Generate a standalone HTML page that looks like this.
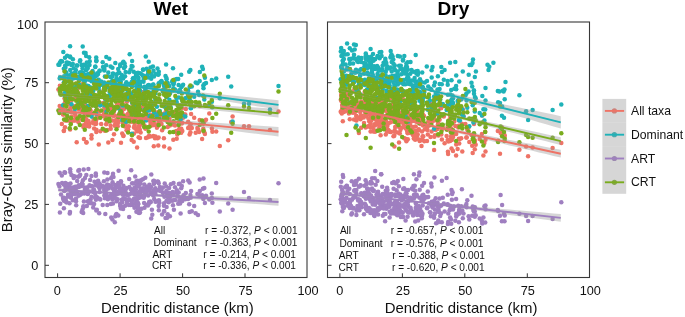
<!DOCTYPE html><html><head><meta charset="utf-8"><style>html,body{margin:0;padding:0;background:#fff;}svg{display:block;will-change:transform;}text{font-family:"Liberation Sans",sans-serif;}</style></head><body><svg width="685" height="317" viewBox="0 0 685 317"><g fill="#EE7366"><circle cx="59.7" cy="106.1" r="2.25"/><circle cx="178.7" cy="116.7" r="2.25"/><circle cx="195.7" cy="132.8" r="2.25"/><circle cx="63.9" cy="130.5" r="2.25"/><circle cx="120.4" cy="116.7" r="2.25"/><circle cx="168.7" cy="120.9" r="2.25"/><circle cx="91.2" cy="114.7" r="2.25"/><circle cx="61.0" cy="89.8" r="2.25"/><circle cx="231.2" cy="122.0" r="2.25"/><circle cx="155.3" cy="124.8" r="2.25"/><circle cx="166.1" cy="117.7" r="2.25"/><circle cx="162.1" cy="130.2" r="2.25"/><circle cx="158.1" cy="114.2" r="2.25"/><circle cx="144.5" cy="125.4" r="2.25"/><circle cx="103.0" cy="92.5" r="2.25"/><circle cx="139.6" cy="117.2" r="2.25"/><circle cx="61.8" cy="123.9" r="2.25"/><circle cx="59.4" cy="111.3" r="2.25"/><circle cx="143.1" cy="106.9" r="2.25"/><circle cx="68.1" cy="120.2" r="2.25"/><circle cx="87.7" cy="107.3" r="2.25"/><circle cx="84.2" cy="106.4" r="2.25"/><circle cx="83.7" cy="125.2" r="2.25"/><circle cx="65.4" cy="101.3" r="2.25"/><circle cx="202.9" cy="123.3" r="2.25"/><circle cx="86.0" cy="121.7" r="2.25"/><circle cx="86.0" cy="123.1" r="2.25"/><circle cx="65.7" cy="97.4" r="2.25"/><circle cx="121.0" cy="142.7" r="2.25"/><circle cx="137.1" cy="147.6" r="2.25"/><circle cx="204.3" cy="132.2" r="2.25"/><circle cx="80.5" cy="107.5" r="2.25"/><circle cx="136.5" cy="129.3" r="2.25"/><circle cx="153.3" cy="103.4" r="2.25"/><circle cx="145.3" cy="127.3" r="2.25"/><circle cx="120.2" cy="104.6" r="2.25"/><circle cx="203.5" cy="130.8" r="2.25"/><circle cx="86.1" cy="122.6" r="2.25"/><circle cx="138.4" cy="95.5" r="2.25"/><circle cx="129.2" cy="108.7" r="2.25"/><circle cx="109.6" cy="104.8" r="2.25"/><circle cx="149.1" cy="135.7" r="2.25"/><circle cx="115.1" cy="96.8" r="2.25"/><circle cx="70.2" cy="109.2" r="2.25"/><circle cx="71.4" cy="106.6" r="2.25"/><circle cx="94.5" cy="100.7" r="2.25"/><circle cx="148.0" cy="137.3" r="2.25"/><circle cx="123.1" cy="115.1" r="2.25"/><circle cx="150.6" cy="114.8" r="2.25"/><circle cx="89.7" cy="108.5" r="2.25"/><circle cx="112.4" cy="111.2" r="2.25"/><circle cx="154.1" cy="116.6" r="2.25"/><circle cx="118.2" cy="117.9" r="2.25"/><circle cx="209.3" cy="113.4" r="2.25"/><circle cx="116.6" cy="119.9" r="2.25"/><circle cx="194.2" cy="117.7" r="2.25"/><circle cx="97.2" cy="110.4" r="2.25"/><circle cx="190.4" cy="132.2" r="2.25"/><circle cx="134.0" cy="127.4" r="2.25"/><circle cx="75.0" cy="120.4" r="2.25"/><circle cx="131.9" cy="108.2" r="2.25"/><circle cx="107.9" cy="115.7" r="2.25"/><circle cx="125.6" cy="123.8" r="2.25"/><circle cx="67.8" cy="102.4" r="2.25"/><circle cx="137.3" cy="131.3" r="2.25"/><circle cx="88.0" cy="108.1" r="2.25"/><circle cx="71.5" cy="116.6" r="2.25"/><circle cx="135.2" cy="112.5" r="2.25"/><circle cx="144.3" cy="105.1" r="2.25"/><circle cx="144.0" cy="119.5" r="2.25"/><circle cx="124.6" cy="95.1" r="2.25"/><circle cx="95.3" cy="101.5" r="2.25"/><circle cx="176.7" cy="138.7" r="2.25"/><circle cx="124.0" cy="109.1" r="2.25"/><circle cx="70.0" cy="87.7" r="2.25"/><circle cx="181.3" cy="128.7" r="2.25"/><circle cx="93.2" cy="121.4" r="2.25"/><circle cx="108.3" cy="142.4" r="2.25"/><circle cx="166.3" cy="113.9" r="2.25"/><circle cx="118.2" cy="102.5" r="2.25"/><circle cx="106.3" cy="96.7" r="2.25"/><circle cx="163.9" cy="138.2" r="2.25"/><circle cx="206.0" cy="119.8" r="2.25"/><circle cx="82.9" cy="100.0" r="2.25"/><circle cx="65.0" cy="127.2" r="2.25"/><circle cx="136.2" cy="114.9" r="2.25"/><circle cx="70.7" cy="101.1" r="2.25"/><circle cx="113.0" cy="109.8" r="2.25"/><circle cx="148.7" cy="117.9" r="2.25"/><circle cx="117.7" cy="123.5" r="2.25"/><circle cx="87.5" cy="112.2" r="2.25"/><circle cx="83.4" cy="127.1" r="2.25"/><circle cx="169.4" cy="118.5" r="2.25"/><circle cx="87.8" cy="125.4" r="2.25"/><circle cx="148.8" cy="116.1" r="2.25"/><circle cx="154.2" cy="114.1" r="2.25"/><circle cx="138.3" cy="121.0" r="2.25"/><circle cx="166.6" cy="108.3" r="2.25"/><circle cx="99.2" cy="115.8" r="2.25"/><circle cx="120.4" cy="112.1" r="2.25"/><circle cx="181.8" cy="123.5" r="2.25"/><circle cx="146.6" cy="113.1" r="2.25"/><circle cx="138.6" cy="117.7" r="2.25"/><circle cx="110.9" cy="99.9" r="2.25"/><circle cx="84.8" cy="108.4" r="2.25"/><circle cx="122.2" cy="133.6" r="2.25"/><circle cx="89.5" cy="123.5" r="2.25"/><circle cx="96.4" cy="129.7" r="2.25"/><circle cx="82.1" cy="103.9" r="2.25"/><circle cx="175.0" cy="125.5" r="2.25"/><circle cx="165.5" cy="112.3" r="2.25"/><circle cx="129.4" cy="109.2" r="2.25"/><circle cx="100.3" cy="131.2" r="2.25"/><circle cx="114.4" cy="115.8" r="2.25"/><circle cx="79.9" cy="107.1" r="2.25"/><circle cx="164.7" cy="87.8" r="2.25"/><circle cx="116.1" cy="124.8" r="2.25"/><circle cx="173.5" cy="102.6" r="2.25"/><circle cx="131.6" cy="139.9" r="2.25"/><circle cx="107.3" cy="115.9" r="2.25"/><circle cx="89.6" cy="93.2" r="2.25"/><circle cx="153.3" cy="136.1" r="2.25"/><circle cx="150.5" cy="122.7" r="2.25"/><circle cx="76.7" cy="142.3" r="2.25"/><circle cx="81.1" cy="100.2" r="2.25"/><circle cx="145.8" cy="128.4" r="2.25"/><circle cx="82.0" cy="102.8" r="2.25"/><circle cx="101.2" cy="124.1" r="2.25"/><circle cx="118.4" cy="106.6" r="2.25"/><circle cx="185.8" cy="109.1" r="2.25"/><circle cx="156.5" cy="112.6" r="2.25"/><circle cx="143.1" cy="118.5" r="2.25"/><circle cx="137.5" cy="118.1" r="2.25"/><circle cx="73.7" cy="120.4" r="2.25"/><circle cx="167.2" cy="119.8" r="2.25"/><circle cx="126.0" cy="115.6" r="2.25"/><circle cx="94.1" cy="128.4" r="2.25"/><circle cx="76.2" cy="96.6" r="2.25"/><circle cx="180.1" cy="122.1" r="2.25"/><circle cx="119.3" cy="115.5" r="2.25"/><circle cx="232.6" cy="116.6" r="2.25"/><circle cx="86.3" cy="119.3" r="2.25"/><circle cx="93.2" cy="123.2" r="2.25"/><circle cx="138.1" cy="108.6" r="2.25"/><circle cx="118.6" cy="121.5" r="2.25"/><circle cx="181.2" cy="132.8" r="2.25"/><circle cx="102.7" cy="103.3" r="2.25"/><circle cx="86.6" cy="97.5" r="2.25"/><circle cx="121.8" cy="103.5" r="2.25"/><circle cx="135.4" cy="128.4" r="2.25"/><circle cx="156.9" cy="127.8" r="2.25"/><circle cx="71.0" cy="98.4" r="2.25"/><circle cx="145.3" cy="128.4" r="2.25"/><circle cx="112.6" cy="94.4" r="2.25"/><circle cx="83.9" cy="139.1" r="2.25"/><circle cx="90.1" cy="113.9" r="2.25"/><circle cx="112.4" cy="140.0" r="2.25"/><circle cx="106.2" cy="118.9" r="2.25"/><circle cx="142.9" cy="104.7" r="2.25"/><circle cx="88.4" cy="86.9" r="2.25"/><circle cx="99.6" cy="91.1" r="2.25"/><circle cx="70.3" cy="108.8" r="2.25"/><circle cx="158.9" cy="117.6" r="2.25"/><circle cx="129.0" cy="113.5" r="2.25"/><circle cx="158.8" cy="121.8" r="2.25"/><circle cx="96.3" cy="131.9" r="2.25"/><circle cx="169.1" cy="119.9" r="2.25"/><circle cx="151.2" cy="109.9" r="2.25"/><circle cx="92.6" cy="105.3" r="2.25"/><circle cx="157.5" cy="138.2" r="2.25"/><circle cx="123.4" cy="135.5" r="2.25"/><circle cx="180.6" cy="113.8" r="2.25"/><circle cx="134.0" cy="133.5" r="2.25"/><circle cx="151.3" cy="124.7" r="2.25"/><circle cx="159.3" cy="98.9" r="2.25"/><circle cx="164.2" cy="114.3" r="2.25"/><circle cx="183.5" cy="114.2" r="2.25"/><circle cx="95.9" cy="122.0" r="2.25"/><circle cx="78.3" cy="86.0" r="2.25"/><circle cx="99.5" cy="105.6" r="2.25"/><circle cx="126.4" cy="121.0" r="2.25"/><circle cx="179.3" cy="128.7" r="2.25"/><circle cx="149.4" cy="105.4" r="2.25"/><circle cx="189.2" cy="127.9" r="2.25"/><circle cx="66.4" cy="93.5" r="2.25"/><circle cx="63.8" cy="131.0" r="2.25"/><circle cx="169.9" cy="125.4" r="2.25"/><circle cx="140.6" cy="132.5" r="2.25"/><circle cx="133.1" cy="121.3" r="2.25"/><circle cx="151.9" cy="124.6" r="2.25"/><circle cx="110.7" cy="128.8" r="2.25"/><circle cx="175.3" cy="131.8" r="2.25"/><circle cx="134.5" cy="125.4" r="2.25"/><circle cx="119.1" cy="114.1" r="2.25"/><circle cx="75.2" cy="114.5" r="2.25"/><circle cx="160.5" cy="115.3" r="2.25"/><circle cx="152.9" cy="125.2" r="2.25"/><circle cx="176.3" cy="131.1" r="2.25"/><circle cx="137.6" cy="119.2" r="2.25"/><circle cx="77.5" cy="92.4" r="2.25"/><circle cx="117.7" cy="126.3" r="2.25"/><circle cx="151.1" cy="120.0" r="2.25"/><circle cx="115.3" cy="123.4" r="2.25"/><circle cx="173.3" cy="139.8" r="2.25"/><circle cx="105.3" cy="119.0" r="2.25"/><circle cx="72.0" cy="106.5" r="2.25"/><circle cx="139.1" cy="127.5" r="2.25"/><circle cx="60.2" cy="110.3" r="2.25"/><circle cx="167.7" cy="127.0" r="2.25"/><circle cx="90.4" cy="97.1" r="2.25"/><circle cx="106.2" cy="115.8" r="2.25"/><circle cx="114.0" cy="134.3" r="2.25"/><circle cx="64.1" cy="114.3" r="2.25"/><circle cx="118.8" cy="107.8" r="2.25"/><circle cx="190.7" cy="124.2" r="2.25"/><circle cx="197.4" cy="127.9" r="2.25"/><circle cx="73.4" cy="112.4" r="2.25"/><circle cx="158.3" cy="145.5" r="2.25"/><circle cx="167.6" cy="114.4" r="2.25"/><circle cx="140.0" cy="116.1" r="2.25"/><circle cx="120.8" cy="116.2" r="2.25"/><circle cx="127.9" cy="129.6" r="2.25"/><circle cx="63.9" cy="109.9" r="2.25"/><circle cx="122.6" cy="87.9" r="2.25"/><circle cx="75.6" cy="106.0" r="2.25"/><circle cx="86.8" cy="126.0" r="2.25"/><circle cx="158.7" cy="122.4" r="2.25"/><circle cx="73.1" cy="89.8" r="2.25"/><circle cx="114.8" cy="125.8" r="2.25"/><circle cx="170.2" cy="112.4" r="2.25"/><circle cx="185.3" cy="114.5" r="2.25"/><circle cx="135.9" cy="110.5" r="2.25"/><circle cx="83.4" cy="117.2" r="2.25"/><circle cx="143.7" cy="99.2" r="2.25"/><circle cx="113.0" cy="115.8" r="2.25"/><circle cx="84.0" cy="112.5" r="2.25"/><circle cx="114.2" cy="98.7" r="2.25"/><circle cx="86.1" cy="107.7" r="2.25"/><circle cx="105.2" cy="109.1" r="2.25"/><circle cx="67.3" cy="104.2" r="2.25"/><circle cx="59.9" cy="85.8" r="2.25"/><circle cx="168.3" cy="105.3" r="2.25"/><circle cx="202.1" cy="139.0" r="2.25"/><circle cx="132.8" cy="111.8" r="2.25"/><circle cx="138.2" cy="104.2" r="2.25"/><circle cx="118.3" cy="115.5" r="2.25"/><circle cx="130.6" cy="118.6" r="2.25"/><circle cx="134.9" cy="123.1" r="2.25"/><circle cx="104.4" cy="112.0" r="2.25"/><circle cx="167.2" cy="111.0" r="2.25"/><circle cx="122.7" cy="103.5" r="2.25"/><circle cx="125.9" cy="107.0" r="2.25"/><circle cx="198.0" cy="129.2" r="2.25"/><circle cx="125.6" cy="98.2" r="2.25"/><circle cx="132.0" cy="118.5" r="2.25"/><circle cx="103.9" cy="114.3" r="2.25"/><circle cx="137.5" cy="115.5" r="2.25"/><circle cx="158.7" cy="125.4" r="2.25"/><circle cx="138.9" cy="107.6" r="2.25"/><circle cx="139.1" cy="113.6" r="2.25"/><circle cx="140.0" cy="110.0" r="2.25"/><circle cx="68.7" cy="100.1" r="2.25"/><circle cx="96.3" cy="105.6" r="2.25"/><circle cx="92.3" cy="114.0" r="2.25"/><circle cx="110.6" cy="125.5" r="2.25"/><circle cx="136.4" cy="110.6" r="2.25"/><circle cx="75.5" cy="116.6" r="2.25"/><circle cx="78.9" cy="109.5" r="2.25"/><circle cx="81.6" cy="110.5" r="2.25"/><circle cx="62.1" cy="106.9" r="2.25"/><circle cx="95.3" cy="124.0" r="2.25"/><circle cx="104.3" cy="129.8" r="2.25"/><circle cx="134.3" cy="120.5" r="2.25"/><circle cx="111.1" cy="115.1" r="2.25"/><circle cx="99.6" cy="117.4" r="2.25"/><circle cx="95.1" cy="120.9" r="2.25"/><circle cx="189.6" cy="126.4" r="2.25"/><circle cx="91.5" cy="138.6" r="2.25"/><circle cx="65.4" cy="120.4" r="2.25"/><circle cx="150.3" cy="126.1" r="2.25"/><circle cx="139.8" cy="129.7" r="2.25"/><circle cx="72.9" cy="119.9" r="2.25"/><circle cx="172.2" cy="112.3" r="2.25"/><circle cx="77.3" cy="89.7" r="2.25"/><circle cx="131.2" cy="117.7" r="2.25"/><circle cx="98.1" cy="102.1" r="2.25"/><circle cx="159.4" cy="112.0" r="2.25"/><circle cx="69.7" cy="101.7" r="2.25"/><circle cx="125.1" cy="126.0" r="2.25"/><circle cx="146.0" cy="137.9" r="2.25"/><circle cx="58.4" cy="89.5" r="2.25"/><circle cx="169.3" cy="124.6" r="2.25"/><circle cx="79.9" cy="116.8" r="2.25"/><circle cx="104.1" cy="102.7" r="2.25"/><circle cx="199.8" cy="106.0" r="2.25"/><circle cx="191.8" cy="128.0" r="2.25"/><circle cx="178.6" cy="124.1" r="2.25"/><circle cx="143.5" cy="91.9" r="2.25"/><circle cx="65.1" cy="120.0" r="2.25"/><circle cx="96.3" cy="119.8" r="2.25"/><circle cx="199.1" cy="132.1" r="2.25"/><circle cx="173.1" cy="123.6" r="2.25"/><circle cx="107.2" cy="121.9" r="2.25"/><circle cx="68.1" cy="104.1" r="2.25"/><circle cx="134.0" cy="100.2" r="2.25"/><circle cx="138.5" cy="122.8" r="2.25"/><circle cx="219.8" cy="146.0" r="2.25"/><circle cx="170.8" cy="113.1" r="2.25"/><circle cx="95.9" cy="110.8" r="2.25"/><circle cx="63.0" cy="114.4" r="2.25"/><circle cx="189.6" cy="134.6" r="2.25"/><circle cx="72.8" cy="99.3" r="2.25"/><circle cx="139.3" cy="114.0" r="2.25"/><circle cx="130.6" cy="117.7" r="2.25"/><circle cx="69.4" cy="120.2" r="2.25"/><circle cx="131.7" cy="121.7" r="2.25"/><circle cx="138.0" cy="128.7" r="2.25"/><circle cx="178.8" cy="112.9" r="2.25"/><circle cx="123.4" cy="136.1" r="2.25"/><circle cx="116.9" cy="104.9" r="2.25"/><circle cx="159.8" cy="121.7" r="2.25"/><circle cx="122.8" cy="123.3" r="2.25"/><circle cx="107.5" cy="110.8" r="2.25"/><circle cx="140.0" cy="137.9" r="2.25"/><circle cx="106.5" cy="107.4" r="2.25"/><circle cx="144.1" cy="101.8" r="2.25"/><circle cx="153.5" cy="104.8" r="2.25"/><circle cx="155.0" cy="137.3" r="2.25"/><circle cx="95.8" cy="112.0" r="2.25"/><circle cx="93.6" cy="118.7" r="2.25"/><circle cx="120.8" cy="115.0" r="2.25"/><circle cx="150.4" cy="136.6" r="2.25"/><circle cx="65.6" cy="93.5" r="2.25"/><circle cx="65.7" cy="99.5" r="2.25"/><circle cx="78.3" cy="107.3" r="2.25"/><circle cx="90.6" cy="110.4" r="2.25"/><circle cx="135.2" cy="108.0" r="2.25"/><circle cx="204.9" cy="133.9" r="2.25"/><circle cx="146.6" cy="119.5" r="2.25"/><circle cx="93.4" cy="101.1" r="2.25"/><circle cx="141.0" cy="97.1" r="2.25"/><circle cx="178.2" cy="130.8" r="2.25"/><circle cx="71.5" cy="93.5" r="2.25"/><circle cx="64.5" cy="103.4" r="2.25"/><circle cx="113.5" cy="113.1" r="2.25"/><circle cx="85.6" cy="98.3" r="2.25"/><circle cx="181.9" cy="108.3" r="2.25"/><circle cx="116.5" cy="119.9" r="2.25"/><circle cx="138.3" cy="121.2" r="2.25"/><circle cx="79.5" cy="118.5" r="2.25"/><circle cx="69.3" cy="118.9" r="2.25"/><circle cx="127.8" cy="113.9" r="2.25"/><circle cx="203.3" cy="128.8" r="2.25"/><circle cx="82.5" cy="119.8" r="2.25"/><circle cx="182.3" cy="131.1" r="2.25"/><circle cx="112.4" cy="120.5" r="2.25"/><circle cx="81.6" cy="100.6" r="2.25"/><circle cx="111.3" cy="109.0" r="2.25"/><circle cx="138.9" cy="110.4" r="2.25"/><circle cx="136.4" cy="118.7" r="2.25"/><circle cx="115.3" cy="108.8" r="2.25"/><circle cx="89.5" cy="111.7" r="2.25"/><circle cx="104.9" cy="130.8" r="2.25"/><circle cx="109.3" cy="107.3" r="2.25"/><circle cx="154.0" cy="123.6" r="2.25"/><circle cx="129.2" cy="110.2" r="2.25"/><circle cx="98.7" cy="117.0" r="2.25"/><circle cx="122.6" cy="95.9" r="2.25"/><circle cx="82.7" cy="83.9" r="2.25"/><circle cx="140.2" cy="108.7" r="2.25"/><circle cx="128.8" cy="126.3" r="2.25"/><circle cx="70.9" cy="111.9" r="2.25"/><circle cx="166.4" cy="96.6" r="2.25"/><circle cx="66.6" cy="118.2" r="2.25"/><circle cx="70.5" cy="119.5" r="2.25"/><circle cx="99.6" cy="111.6" r="2.25"/><circle cx="183.1" cy="117.8" r="2.25"/><circle cx="162.9" cy="113.9" r="2.25"/><circle cx="83.5" cy="112.6" r="2.25"/><circle cx="76.0" cy="83.7" r="2.25"/><circle cx="137.4" cy="119.8" r="2.25"/><circle cx="138.4" cy="126.6" r="2.25"/><circle cx="83.2" cy="106.4" r="2.25"/><circle cx="95.3" cy="119.5" r="2.25"/><circle cx="148.1" cy="119.9" r="2.25"/><circle cx="122.1" cy="112.6" r="2.25"/><circle cx="211.8" cy="107.1" r="2.25"/><circle cx="85.0" cy="117.1" r="2.25"/><circle cx="96.8" cy="117.8" r="2.25"/><circle cx="114.3" cy="107.4" r="2.25"/><circle cx="172.5" cy="124.6" r="2.25"/><circle cx="70.1" cy="129.6" r="2.25"/><circle cx="128.1" cy="129.4" r="2.25"/><circle cx="64.0" cy="82.3" r="2.25"/><circle cx="153.8" cy="146.2" r="2.25"/><circle cx="85.6" cy="115.0" r="2.25"/><circle cx="173.9" cy="123.0" r="2.25"/><circle cx="164.0" cy="106.3" r="2.25"/><circle cx="112.3" cy="113.8" r="2.25"/><circle cx="188.2" cy="121.8" r="2.25"/><circle cx="158.6" cy="137.4" r="2.25"/><circle cx="138.6" cy="137.2" r="2.25"/><circle cx="102.7" cy="116.0" r="2.25"/><circle cx="152.3" cy="108.9" r="2.25"/><circle cx="176.9" cy="110.9" r="2.25"/><circle cx="78.5" cy="122.2" r="2.25"/><circle cx="76.0" cy="106.2" r="2.25"/><circle cx="125.0" cy="126.4" r="2.25"/><circle cx="78.8" cy="97.8" r="2.25"/><circle cx="173.0" cy="112.0" r="2.25"/><circle cx="147.9" cy="105.7" r="2.25"/><circle cx="211.9" cy="128.4" r="2.25"/><circle cx="228.2" cy="140.3" r="2.25"/><circle cx="98.8" cy="144.4" r="2.25"/><circle cx="147.8" cy="116.7" r="2.25"/><circle cx="164.1" cy="146.6" r="2.25"/><circle cx="96.2" cy="123.7" r="2.25"/><circle cx="135.1" cy="117.0" r="2.25"/><circle cx="155.4" cy="124.8" r="2.25"/><circle cx="129.7" cy="112.3" r="2.25"/><circle cx="115.5" cy="120.6" r="2.25"/><circle cx="133.7" cy="141.8" r="2.25"/><circle cx="143.8" cy="106.2" r="2.25"/><circle cx="161.5" cy="124.1" r="2.25"/><circle cx="155.5" cy="136.4" r="2.25"/><circle cx="188.1" cy="127.9" r="2.25"/><circle cx="181.9" cy="122.5" r="2.25"/><circle cx="164.4" cy="117.6" r="2.25"/><circle cx="77.2" cy="117.6" r="2.25"/><circle cx="146.6" cy="118.4" r="2.25"/><circle cx="199.7" cy="120.0" r="2.25"/><circle cx="132.1" cy="108.6" r="2.25"/><circle cx="132.5" cy="104.0" r="2.25"/><circle cx="166.4" cy="116.0" r="2.25"/><circle cx="153.2" cy="115.9" r="2.25"/><circle cx="91.5" cy="135.3" r="2.25"/><circle cx="109.7" cy="98.3" r="2.25"/><circle cx="212.4" cy="131.7" r="2.25"/><circle cx="107.4" cy="130.0" r="2.25"/><circle cx="88.5" cy="121.0" r="2.25"/><circle cx="89.2" cy="126.6" r="2.25"/><circle cx="126.6" cy="130.3" r="2.25"/><circle cx="69.5" cy="110.4" r="2.25"/><circle cx="111.4" cy="105.9" r="2.25"/><circle cx="79.2" cy="99.3" r="2.25"/><circle cx="169.5" cy="148.6" r="2.25"/><circle cx="173.4" cy="113.0" r="2.25"/><circle cx="145.6" cy="116.9" r="2.25"/><circle cx="140.5" cy="124.8" r="2.25"/><circle cx="64.5" cy="98.5" r="2.25"/><circle cx="71.0" cy="122.7" r="2.25"/><circle cx="104.3" cy="107.6" r="2.25"/><circle cx="136.6" cy="109.1" r="2.25"/><circle cx="155.0" cy="138.2" r="2.25"/><circle cx="94.1" cy="102.1" r="2.25"/><circle cx="111.2" cy="114.5" r="2.25"/><circle cx="177.3" cy="134.4" r="2.25"/><circle cx="170.2" cy="104.8" r="2.25"/><circle cx="86.5" cy="142.5" r="2.25"/><circle cx="67.1" cy="120.5" r="2.25"/><circle cx="75.9" cy="97.1" r="2.25"/><circle cx="216.2" cy="131.6" r="2.25"/><circle cx="66.6" cy="110.5" r="2.25"/><circle cx="63.3" cy="114.2" r="2.25"/><circle cx="179.7" cy="113.2" r="2.25"/><circle cx="120.2" cy="109.1" r="2.25"/><circle cx="85.5" cy="105.5" r="2.25"/><circle cx="120.9" cy="114.5" r="2.25"/><circle cx="80.2" cy="117.2" r="2.25"/><circle cx="106.1" cy="124.2" r="2.25"/><circle cx="141.5" cy="121.5" r="2.25"/><circle cx="137.2" cy="120.6" r="2.25"/><circle cx="191.1" cy="113.9" r="2.25"/><circle cx="114.0" cy="110.5" r="2.25"/><circle cx="163.0" cy="119.0" r="2.25"/><circle cx="86.4" cy="142.2" r="2.25"/><circle cx="74.4" cy="112.1" r="2.25"/><circle cx="204.3" cy="121.8" r="2.25"/><circle cx="126.9" cy="101.8" r="2.25"/><circle cx="120.5" cy="91.8" r="2.25"/><circle cx="244.0" cy="126.3" r="2.25"/><circle cx="249.0" cy="126.3" r="2.25"/><circle cx="270.0" cy="130.0" r="2.25"/><circle cx="278.5" cy="111.6" r="2.25"/></g><g fill="#1FB2B8"><circle cx="59.7" cy="78.5" r="2.25"/><circle cx="178.7" cy="91.9" r="2.25"/><circle cx="195.7" cy="82.5" r="2.25"/><circle cx="63.9" cy="82.4" r="2.25"/><circle cx="120.4" cy="84.4" r="2.25"/><circle cx="168.7" cy="114.7" r="2.25"/><circle cx="91.2" cy="76.1" r="2.25"/><circle cx="61.0" cy="61.0" r="2.25"/><circle cx="231.2" cy="86.6" r="2.25"/><circle cx="155.3" cy="99.9" r="2.25"/><circle cx="166.1" cy="64.5" r="2.25"/><circle cx="162.1" cy="82.6" r="2.25"/><circle cx="158.1" cy="74.7" r="2.25"/><circle cx="144.5" cy="109.7" r="2.25"/><circle cx="103.0" cy="67.0" r="2.25"/><circle cx="139.6" cy="86.8" r="2.25"/><circle cx="61.8" cy="87.7" r="2.25"/><circle cx="59.4" cy="64.7" r="2.25"/><circle cx="143.1" cy="69.8" r="2.25"/><circle cx="68.1" cy="75.6" r="2.25"/><circle cx="87.7" cy="90.1" r="2.25"/><circle cx="84.2" cy="78.0" r="2.25"/><circle cx="83.7" cy="95.2" r="2.25"/><circle cx="65.4" cy="67.8" r="2.25"/><circle cx="202.9" cy="69.1" r="2.25"/><circle cx="86.0" cy="70.3" r="2.25"/><circle cx="86.0" cy="74.7" r="2.25"/><circle cx="65.7" cy="82.3" r="2.25"/><circle cx="121.0" cy="94.0" r="2.25"/><circle cx="137.1" cy="90.8" r="2.25"/><circle cx="204.3" cy="99.6" r="2.25"/><circle cx="80.5" cy="75.2" r="2.25"/><circle cx="136.5" cy="89.2" r="2.25"/><circle cx="153.3" cy="84.5" r="2.25"/><circle cx="145.3" cy="87.3" r="2.25"/><circle cx="120.2" cy="65.9" r="2.25"/><circle cx="203.5" cy="88.3" r="2.25"/><circle cx="86.1" cy="66.0" r="2.25"/><circle cx="138.4" cy="78.1" r="2.25"/><circle cx="129.2" cy="84.1" r="2.25"/><circle cx="109.6" cy="92.1" r="2.25"/><circle cx="149.1" cy="110.6" r="2.25"/><circle cx="115.1" cy="86.0" r="2.25"/><circle cx="70.2" cy="69.9" r="2.25"/><circle cx="71.4" cy="65.0" r="2.25"/><circle cx="94.5" cy="75.6" r="2.25"/><circle cx="148.0" cy="71.1" r="2.25"/><circle cx="123.1" cy="78.4" r="2.25"/><circle cx="150.6" cy="92.8" r="2.25"/><circle cx="89.7" cy="61.3" r="2.25"/><circle cx="112.4" cy="81.7" r="2.25"/><circle cx="154.1" cy="93.8" r="2.25"/><circle cx="118.2" cy="108.2" r="2.25"/><circle cx="209.3" cy="105.6" r="2.25"/><circle cx="116.6" cy="74.2" r="2.25"/><circle cx="194.2" cy="96.7" r="2.25"/><circle cx="97.2" cy="73.3" r="2.25"/><circle cx="190.4" cy="70.1" r="2.25"/><circle cx="134.0" cy="114.0" r="2.25"/><circle cx="75.0" cy="108.9" r="2.25"/><circle cx="131.9" cy="133.7" r="2.25"/><circle cx="107.9" cy="76.2" r="2.25"/><circle cx="125.6" cy="72.0" r="2.25"/><circle cx="67.8" cy="62.8" r="2.25"/><circle cx="137.3" cy="87.7" r="2.25"/><circle cx="88.0" cy="106.0" r="2.25"/><circle cx="71.5" cy="104.3" r="2.25"/><circle cx="135.2" cy="91.1" r="2.25"/><circle cx="144.3" cy="86.7" r="2.25"/><circle cx="144.0" cy="95.6" r="2.25"/><circle cx="124.6" cy="63.6" r="2.25"/><circle cx="95.3" cy="76.6" r="2.25"/><circle cx="176.7" cy="102.0" r="2.25"/><circle cx="124.0" cy="68.1" r="2.25"/><circle cx="70.0" cy="56.6" r="2.25"/><circle cx="181.3" cy="87.0" r="2.25"/><circle cx="93.2" cy="73.3" r="2.25"/><circle cx="108.3" cy="72.5" r="2.25"/><circle cx="166.3" cy="97.1" r="2.25"/><circle cx="118.2" cy="68.9" r="2.25"/><circle cx="106.3" cy="56.9" r="2.25"/><circle cx="163.9" cy="85.4" r="2.25"/><circle cx="206.0" cy="83.1" r="2.25"/><circle cx="82.9" cy="72.8" r="2.25"/><circle cx="65.0" cy="57.8" r="2.25"/><circle cx="136.2" cy="82.2" r="2.25"/><circle cx="70.7" cy="93.4" r="2.25"/><circle cx="113.0" cy="74.0" r="2.25"/><circle cx="148.7" cy="61.8" r="2.25"/><circle cx="117.7" cy="79.9" r="2.25"/><circle cx="87.5" cy="94.2" r="2.25"/><circle cx="83.4" cy="74.5" r="2.25"/><circle cx="169.4" cy="99.8" r="2.25"/><circle cx="87.8" cy="68.1" r="2.25"/><circle cx="148.8" cy="85.0" r="2.25"/><circle cx="154.2" cy="112.7" r="2.25"/><circle cx="138.3" cy="95.8" r="2.25"/><circle cx="166.6" cy="79.3" r="2.25"/><circle cx="99.2" cy="97.0" r="2.25"/><circle cx="120.4" cy="87.1" r="2.25"/><circle cx="181.8" cy="86.2" r="2.25"/><circle cx="146.6" cy="76.2" r="2.25"/><circle cx="138.6" cy="90.4" r="2.25"/><circle cx="110.9" cy="90.3" r="2.25"/><circle cx="84.8" cy="81.4" r="2.25"/><circle cx="122.2" cy="119.9" r="2.25"/><circle cx="89.5" cy="93.3" r="2.25"/><circle cx="96.4" cy="60.2" r="2.25"/><circle cx="82.1" cy="65.4" r="2.25"/><circle cx="175.0" cy="89.4" r="2.25"/><circle cx="165.5" cy="76.1" r="2.25"/><circle cx="129.4" cy="97.6" r="2.25"/><circle cx="100.3" cy="105.2" r="2.25"/><circle cx="114.4" cy="95.5" r="2.25"/><circle cx="79.9" cy="72.5" r="2.25"/><circle cx="164.7" cy="92.4" r="2.25"/><circle cx="116.1" cy="91.0" r="2.25"/><circle cx="173.5" cy="84.2" r="2.25"/><circle cx="131.6" cy="66.0" r="2.25"/><circle cx="107.3" cy="86.9" r="2.25"/><circle cx="89.6" cy="79.6" r="2.25"/><circle cx="153.3" cy="91.8" r="2.25"/><circle cx="150.5" cy="67.6" r="2.25"/><circle cx="76.7" cy="65.6" r="2.25"/><circle cx="81.1" cy="72.3" r="2.25"/><circle cx="145.8" cy="56.4" r="2.25"/><circle cx="82.0" cy="79.3" r="2.25"/><circle cx="101.2" cy="81.5" r="2.25"/><circle cx="118.4" cy="73.0" r="2.25"/><circle cx="185.8" cy="98.0" r="2.25"/><circle cx="156.5" cy="116.4" r="2.25"/><circle cx="143.1" cy="69.6" r="2.25"/><circle cx="137.5" cy="96.8" r="2.25"/><circle cx="73.7" cy="68.3" r="2.25"/><circle cx="167.2" cy="112.8" r="2.25"/><circle cx="126.0" cy="121.8" r="2.25"/><circle cx="94.1" cy="101.9" r="2.25"/><circle cx="76.2" cy="86.1" r="2.25"/><circle cx="180.1" cy="90.5" r="2.25"/><circle cx="119.3" cy="72.5" r="2.25"/><circle cx="232.6" cy="121.5" r="2.25"/><circle cx="86.3" cy="78.3" r="2.25"/><circle cx="93.2" cy="91.0" r="2.25"/><circle cx="138.1" cy="87.2" r="2.25"/><circle cx="118.6" cy="89.3" r="2.25"/><circle cx="181.2" cy="74.8" r="2.25"/><circle cx="102.7" cy="62.2" r="2.25"/><circle cx="86.6" cy="93.8" r="2.25"/><circle cx="121.8" cy="75.0" r="2.25"/><circle cx="135.4" cy="95.3" r="2.25"/><circle cx="156.9" cy="106.7" r="2.25"/><circle cx="71.0" cy="75.1" r="2.25"/><circle cx="145.3" cy="89.8" r="2.25"/><circle cx="112.6" cy="86.4" r="2.25"/><circle cx="83.9" cy="89.0" r="2.25"/><circle cx="90.1" cy="76.3" r="2.25"/><circle cx="112.4" cy="67.8" r="2.25"/><circle cx="106.2" cy="65.2" r="2.25"/><circle cx="142.9" cy="75.7" r="2.25"/><circle cx="88.4" cy="86.0" r="2.25"/><circle cx="99.6" cy="70.8" r="2.25"/><circle cx="70.3" cy="57.2" r="2.25"/><circle cx="158.9" cy="84.7" r="2.25"/><circle cx="129.0" cy="90.3" r="2.25"/><circle cx="158.8" cy="71.7" r="2.25"/><circle cx="96.3" cy="84.7" r="2.25"/><circle cx="169.1" cy="94.6" r="2.25"/><circle cx="151.2" cy="78.8" r="2.25"/><circle cx="92.6" cy="71.1" r="2.25"/><circle cx="157.5" cy="68.6" r="2.25"/><circle cx="123.4" cy="77.2" r="2.25"/><circle cx="180.6" cy="119.3" r="2.25"/><circle cx="134.0" cy="80.8" r="2.25"/><circle cx="151.3" cy="73.9" r="2.25"/><circle cx="159.3" cy="118.8" r="2.25"/><circle cx="164.2" cy="106.4" r="2.25"/><circle cx="183.5" cy="100.1" r="2.25"/><circle cx="95.9" cy="84.7" r="2.25"/><circle cx="78.3" cy="83.8" r="2.25"/><circle cx="99.5" cy="91.6" r="2.25"/><circle cx="126.4" cy="82.2" r="2.25"/><circle cx="179.3" cy="90.3" r="2.25"/><circle cx="149.4" cy="116.0" r="2.25"/><circle cx="189.2" cy="71.8" r="2.25"/><circle cx="66.4" cy="73.0" r="2.25"/><circle cx="63.8" cy="68.7" r="2.25"/><circle cx="169.9" cy="107.3" r="2.25"/><circle cx="140.6" cy="121.3" r="2.25"/><circle cx="133.1" cy="78.3" r="2.25"/><circle cx="151.9" cy="103.7" r="2.25"/><circle cx="110.7" cy="77.1" r="2.25"/><circle cx="175.3" cy="79.6" r="2.25"/><circle cx="134.5" cy="109.5" r="2.25"/><circle cx="119.1" cy="98.7" r="2.25"/><circle cx="75.2" cy="94.1" r="2.25"/><circle cx="160.5" cy="81.9" r="2.25"/><circle cx="152.9" cy="66.6" r="2.25"/><circle cx="176.3" cy="97.9" r="2.25"/><circle cx="137.6" cy="89.7" r="2.25"/><circle cx="77.5" cy="77.2" r="2.25"/><circle cx="117.7" cy="95.0" r="2.25"/><circle cx="151.1" cy="77.2" r="2.25"/><circle cx="115.3" cy="63.1" r="2.25"/><circle cx="173.3" cy="102.3" r="2.25"/><circle cx="105.3" cy="99.3" r="2.25"/><circle cx="72.0" cy="87.3" r="2.25"/><circle cx="139.1" cy="88.9" r="2.25"/><circle cx="60.2" cy="77.2" r="2.25"/><circle cx="167.7" cy="82.9" r="2.25"/><circle cx="90.4" cy="73.4" r="2.25"/><circle cx="106.2" cy="99.3" r="2.25"/><circle cx="114.0" cy="84.5" r="2.25"/><circle cx="64.1" cy="76.3" r="2.25"/><circle cx="118.8" cy="85.6" r="2.25"/><circle cx="190.7" cy="108.3" r="2.25"/><circle cx="197.4" cy="83.3" r="2.25"/><circle cx="73.4" cy="94.0" r="2.25"/><circle cx="158.3" cy="113.7" r="2.25"/><circle cx="167.6" cy="84.9" r="2.25"/><circle cx="140.0" cy="86.0" r="2.25"/><circle cx="120.8" cy="77.9" r="2.25"/><circle cx="127.9" cy="96.9" r="2.25"/><circle cx="63.9" cy="86.1" r="2.25"/><circle cx="122.6" cy="62.9" r="2.25"/><circle cx="75.6" cy="73.3" r="2.25"/><circle cx="86.8" cy="62.5" r="2.25"/><circle cx="158.7" cy="83.2" r="2.25"/><circle cx="73.1" cy="78.6" r="2.25"/><circle cx="114.8" cy="80.7" r="2.25"/><circle cx="170.2" cy="93.0" r="2.25"/><circle cx="185.3" cy="116.6" r="2.25"/><circle cx="135.9" cy="75.1" r="2.25"/><circle cx="83.4" cy="64.8" r="2.25"/><circle cx="143.7" cy="79.0" r="2.25"/><circle cx="113.0" cy="73.4" r="2.25"/><circle cx="84.0" cy="52.8" r="2.25"/><circle cx="114.2" cy="89.4" r="2.25"/><circle cx="86.1" cy="56.1" r="2.25"/><circle cx="105.2" cy="84.4" r="2.25"/><circle cx="67.3" cy="64.3" r="2.25"/><circle cx="59.9" cy="62.6" r="2.25"/><circle cx="168.3" cy="105.9" r="2.25"/><circle cx="202.1" cy="66.7" r="2.25"/><circle cx="132.8" cy="78.7" r="2.25"/><circle cx="138.2" cy="77.7" r="2.25"/><circle cx="118.3" cy="86.9" r="2.25"/><circle cx="130.6" cy="93.6" r="2.25"/><circle cx="134.9" cy="95.9" r="2.25"/><circle cx="104.4" cy="105.2" r="2.25"/><circle cx="167.2" cy="96.8" r="2.25"/><circle cx="122.7" cy="89.8" r="2.25"/><circle cx="125.9" cy="87.5" r="2.25"/><circle cx="198.0" cy="91.7" r="2.25"/><circle cx="125.6" cy="83.9" r="2.25"/><circle cx="132.0" cy="102.5" r="2.25"/><circle cx="103.9" cy="69.3" r="2.25"/><circle cx="137.5" cy="81.2" r="2.25"/><circle cx="158.7" cy="86.2" r="2.25"/><circle cx="138.9" cy="98.6" r="2.25"/><circle cx="139.1" cy="114.1" r="2.25"/><circle cx="140.0" cy="82.4" r="2.25"/><circle cx="68.7" cy="78.8" r="2.25"/><circle cx="96.3" cy="114.0" r="2.25"/><circle cx="92.3" cy="96.0" r="2.25"/><circle cx="110.6" cy="66.4" r="2.25"/><circle cx="136.4" cy="73.3" r="2.25"/><circle cx="75.5" cy="88.7" r="2.25"/><circle cx="78.9" cy="100.5" r="2.25"/><circle cx="81.6" cy="65.1" r="2.25"/><circle cx="62.1" cy="61.5" r="2.25"/><circle cx="95.3" cy="66.4" r="2.25"/><circle cx="104.3" cy="68.7" r="2.25"/><circle cx="134.3" cy="78.1" r="2.25"/><circle cx="111.1" cy="76.7" r="2.25"/><circle cx="99.6" cy="84.9" r="2.25"/><circle cx="95.1" cy="87.3" r="2.25"/><circle cx="189.6" cy="87.0" r="2.25"/><circle cx="91.5" cy="116.4" r="2.25"/><circle cx="65.4" cy="90.2" r="2.25"/><circle cx="150.3" cy="85.8" r="2.25"/><circle cx="139.8" cy="84.1" r="2.25"/><circle cx="72.9" cy="59.3" r="2.25"/><circle cx="172.2" cy="82.0" r="2.25"/><circle cx="77.3" cy="65.6" r="2.25"/><circle cx="131.2" cy="93.5" r="2.25"/><circle cx="98.1" cy="74.1" r="2.25"/><circle cx="159.4" cy="100.5" r="2.25"/><circle cx="69.7" cy="80.9" r="2.25"/><circle cx="125.1" cy="66.6" r="2.25"/><circle cx="146.0" cy="120.5" r="2.25"/><circle cx="58.4" cy="64.8" r="2.25"/><circle cx="169.3" cy="85.9" r="2.25"/><circle cx="79.9" cy="61.4" r="2.25"/><circle cx="104.1" cy="82.4" r="2.25"/><circle cx="199.8" cy="71.9" r="2.25"/><circle cx="191.8" cy="86.4" r="2.25"/><circle cx="178.6" cy="85.0" r="2.25"/><circle cx="143.5" cy="81.8" r="2.25"/><circle cx="65.1" cy="65.7" r="2.25"/><circle cx="96.3" cy="61.2" r="2.25"/><circle cx="199.1" cy="95.1" r="2.25"/><circle cx="173.1" cy="81.6" r="2.25"/><circle cx="107.2" cy="96.1" r="2.25"/><circle cx="68.1" cy="95.6" r="2.25"/><circle cx="134.0" cy="108.1" r="2.25"/><circle cx="138.5" cy="87.0" r="2.25"/><circle cx="219.8" cy="98.2" r="2.25"/><circle cx="170.8" cy="107.6" r="2.25"/><circle cx="95.9" cy="98.2" r="2.25"/><circle cx="63.0" cy="105.3" r="2.25"/><circle cx="189.6" cy="99.3" r="2.25"/><circle cx="72.8" cy="64.1" r="2.25"/><circle cx="139.3" cy="81.7" r="2.25"/><circle cx="130.6" cy="69.5" r="2.25"/><circle cx="69.4" cy="63.2" r="2.25"/><circle cx="131.7" cy="82.1" r="2.25"/><circle cx="138.0" cy="72.7" r="2.25"/><circle cx="178.8" cy="97.5" r="2.25"/><circle cx="123.4" cy="61.8" r="2.25"/><circle cx="116.9" cy="89.7" r="2.25"/><circle cx="159.8" cy="111.0" r="2.25"/><circle cx="122.8" cy="98.4" r="2.25"/><circle cx="107.5" cy="104.8" r="2.25"/><circle cx="140.0" cy="73.2" r="2.25"/><circle cx="106.5" cy="111.7" r="2.25"/><circle cx="144.1" cy="99.4" r="2.25"/><circle cx="153.5" cy="70.7" r="2.25"/><circle cx="155.0" cy="90.3" r="2.25"/><circle cx="95.8" cy="105.9" r="2.25"/><circle cx="93.6" cy="78.5" r="2.25"/><circle cx="120.8" cy="81.8" r="2.25"/><circle cx="150.4" cy="103.9" r="2.25"/><circle cx="65.6" cy="88.6" r="2.25"/><circle cx="65.7" cy="71.9" r="2.25"/><circle cx="78.3" cy="104.1" r="2.25"/><circle cx="90.6" cy="87.4" r="2.25"/><circle cx="135.2" cy="81.9" r="2.25"/><circle cx="204.9" cy="77.7" r="2.25"/><circle cx="146.6" cy="110.7" r="2.25"/><circle cx="93.4" cy="88.9" r="2.25"/><circle cx="141.0" cy="103.0" r="2.25"/><circle cx="178.2" cy="79.0" r="2.25"/><circle cx="71.5" cy="73.5" r="2.25"/><circle cx="64.5" cy="93.2" r="2.25"/><circle cx="113.5" cy="83.5" r="2.25"/><circle cx="85.6" cy="52.9" r="2.25"/><circle cx="181.9" cy="99.8" r="2.25"/><circle cx="116.5" cy="78.0" r="2.25"/><circle cx="138.3" cy="91.1" r="2.25"/><circle cx="79.5" cy="85.0" r="2.25"/><circle cx="69.3" cy="86.0" r="2.25"/><circle cx="127.8" cy="91.5" r="2.25"/><circle cx="203.3" cy="85.5" r="2.25"/><circle cx="82.5" cy="68.6" r="2.25"/><circle cx="182.3" cy="115.1" r="2.25"/><circle cx="112.4" cy="80.5" r="2.25"/><circle cx="81.6" cy="79.0" r="2.25"/><circle cx="111.3" cy="83.4" r="2.25"/><circle cx="138.9" cy="81.9" r="2.25"/><circle cx="136.4" cy="84.4" r="2.25"/><circle cx="115.3" cy="93.8" r="2.25"/><circle cx="89.5" cy="64.9" r="2.25"/><circle cx="104.9" cy="76.5" r="2.25"/><circle cx="109.3" cy="58.7" r="2.25"/><circle cx="154.0" cy="76.4" r="2.25"/><circle cx="129.2" cy="72.2" r="2.25"/><circle cx="98.7" cy="79.8" r="2.25"/><circle cx="122.6" cy="105.5" r="2.25"/><circle cx="82.7" cy="46.5" r="2.25"/><circle cx="140.2" cy="90.7" r="2.25"/><circle cx="128.8" cy="95.8" r="2.25"/><circle cx="70.9" cy="80.8" r="2.25"/><circle cx="166.4" cy="116.2" r="2.25"/><circle cx="66.6" cy="62.4" r="2.25"/><circle cx="70.5" cy="77.6" r="2.25"/><circle cx="99.6" cy="70.7" r="2.25"/><circle cx="183.1" cy="84.8" r="2.25"/><circle cx="162.9" cy="91.4" r="2.25"/><circle cx="83.5" cy="80.0" r="2.25"/><circle cx="76.0" cy="90.8" r="2.25"/><circle cx="137.4" cy="81.8" r="2.25"/><circle cx="138.4" cy="113.0" r="2.25"/><circle cx="83.2" cy="76.5" r="2.25"/><circle cx="95.3" cy="67.1" r="2.25"/><circle cx="148.1" cy="77.5" r="2.25"/><circle cx="122.1" cy="91.0" r="2.25"/><circle cx="211.8" cy="79.9" r="2.25"/><circle cx="85.0" cy="91.1" r="2.25"/><circle cx="96.8" cy="75.5" r="2.25"/><circle cx="114.3" cy="81.2" r="2.25"/><circle cx="172.5" cy="80.8" r="2.25"/><circle cx="70.1" cy="46.2" r="2.25"/><circle cx="128.1" cy="96.8" r="2.25"/><circle cx="64.0" cy="85.7" r="2.25"/><circle cx="153.8" cy="92.5" r="2.25"/><circle cx="85.6" cy="101.7" r="2.25"/><circle cx="173.9" cy="82.5" r="2.25"/><circle cx="164.0" cy="114.4" r="2.25"/><circle cx="112.3" cy="76.2" r="2.25"/><circle cx="188.2" cy="90.7" r="2.25"/><circle cx="158.6" cy="74.3" r="2.25"/><circle cx="138.6" cy="105.9" r="2.25"/><circle cx="102.7" cy="85.0" r="2.25"/><circle cx="152.3" cy="85.7" r="2.25"/><circle cx="176.9" cy="79.1" r="2.25"/><circle cx="78.5" cy="77.9" r="2.25"/><circle cx="76.0" cy="91.4" r="2.25"/><circle cx="125.0" cy="76.3" r="2.25"/><circle cx="78.8" cy="76.9" r="2.25"/><circle cx="173.0" cy="68.3" r="2.25"/><circle cx="147.9" cy="74.1" r="2.25"/><circle cx="211.9" cy="101.7" r="2.25"/><circle cx="228.2" cy="76.8" r="2.25"/><circle cx="98.8" cy="87.8" r="2.25"/><circle cx="147.8" cy="85.6" r="2.25"/><circle cx="164.1" cy="117.2" r="2.25"/><circle cx="96.2" cy="57.5" r="2.25"/><circle cx="135.1" cy="105.6" r="2.25"/><circle cx="155.4" cy="73.9" r="2.25"/><circle cx="129.7" cy="54.3" r="2.25"/><circle cx="115.5" cy="82.8" r="2.25"/><circle cx="133.7" cy="71.8" r="2.25"/><circle cx="143.8" cy="75.7" r="2.25"/><circle cx="161.5" cy="80.9" r="2.25"/><circle cx="155.5" cy="93.0" r="2.25"/><circle cx="188.1" cy="94.6" r="2.25"/><circle cx="181.9" cy="113.2" r="2.25"/><circle cx="164.4" cy="88.8" r="2.25"/><circle cx="77.2" cy="77.1" r="2.25"/><circle cx="146.6" cy="68.8" r="2.25"/><circle cx="199.7" cy="81.1" r="2.25"/><circle cx="132.1" cy="61.0" r="2.25"/><circle cx="132.5" cy="66.4" r="2.25"/><circle cx="166.4" cy="77.9" r="2.25"/><circle cx="153.2" cy="84.7" r="2.25"/><circle cx="91.5" cy="81.2" r="2.25"/><circle cx="109.7" cy="96.1" r="2.25"/><circle cx="212.4" cy="107.3" r="2.25"/><circle cx="107.4" cy="96.4" r="2.25"/><circle cx="88.5" cy="74.0" r="2.25"/><circle cx="89.2" cy="57.2" r="2.25"/><circle cx="126.6" cy="106.0" r="2.25"/><circle cx="69.5" cy="81.2" r="2.25"/><circle cx="111.4" cy="92.1" r="2.25"/><circle cx="79.2" cy="78.2" r="2.25"/><circle cx="169.5" cy="108.1" r="2.25"/><circle cx="173.4" cy="88.3" r="2.25"/><circle cx="145.6" cy="88.6" r="2.25"/><circle cx="140.5" cy="81.7" r="2.25"/><circle cx="64.5" cy="95.4" r="2.25"/><circle cx="71.0" cy="94.2" r="2.25"/><circle cx="104.3" cy="70.5" r="2.25"/><circle cx="136.6" cy="84.8" r="2.25"/><circle cx="155.0" cy="97.5" r="2.25"/><circle cx="94.1" cy="81.6" r="2.25"/><circle cx="111.2" cy="82.0" r="2.25"/><circle cx="177.3" cy="104.6" r="2.25"/><circle cx="170.2" cy="114.2" r="2.25"/><circle cx="86.5" cy="69.3" r="2.25"/><circle cx="67.1" cy="55.8" r="2.25"/><circle cx="75.9" cy="70.1" r="2.25"/><circle cx="216.2" cy="78.6" r="2.25"/><circle cx="66.6" cy="99.8" r="2.25"/><circle cx="63.3" cy="52.1" r="2.25"/><circle cx="179.7" cy="91.1" r="2.25"/><circle cx="120.2" cy="64.4" r="2.25"/><circle cx="85.5" cy="90.7" r="2.25"/><circle cx="120.9" cy="77.9" r="2.25"/><circle cx="80.2" cy="60.3" r="2.25"/><circle cx="106.1" cy="87.5" r="2.25"/><circle cx="141.5" cy="74.2" r="2.25"/><circle cx="137.2" cy="74.2" r="2.25"/><circle cx="191.1" cy="108.0" r="2.25"/><circle cx="114.0" cy="88.3" r="2.25"/><circle cx="163.0" cy="90.2" r="2.25"/><circle cx="86.4" cy="85.4" r="2.25"/><circle cx="74.4" cy="73.0" r="2.25"/><circle cx="204.3" cy="84.1" r="2.25"/><circle cx="126.9" cy="99.6" r="2.25"/><circle cx="120.5" cy="111.2" r="2.25"/><circle cx="244.0" cy="103.8" r="2.25"/><circle cx="249.0" cy="103.8" r="2.25"/><circle cx="270.0" cy="109.5" r="2.25"/><circle cx="278.5" cy="86.0" r="2.25"/></g><g fill="#9F7FC0"><circle cx="59.7" cy="172.7" r="2.25"/><circle cx="178.7" cy="192.5" r="2.25"/><circle cx="195.7" cy="213.3" r="2.25"/><circle cx="63.9" cy="200.7" r="2.25"/><circle cx="120.4" cy="205.3" r="2.25"/><circle cx="168.7" cy="202.3" r="2.25"/><circle cx="91.2" cy="186.2" r="2.25"/><circle cx="61.0" cy="194.6" r="2.25"/><circle cx="231.2" cy="197.8" r="2.25"/><circle cx="155.3" cy="188.2" r="2.25"/><circle cx="166.1" cy="192.4" r="2.25"/><circle cx="162.1" cy="214.5" r="2.25"/><circle cx="158.1" cy="181.8" r="2.25"/><circle cx="144.5" cy="207.8" r="2.25"/><circle cx="103.0" cy="186.3" r="2.25"/><circle cx="139.6" cy="194.5" r="2.25"/><circle cx="61.8" cy="175.4" r="2.25"/><circle cx="59.4" cy="186.6" r="2.25"/><circle cx="143.1" cy="191.5" r="2.25"/><circle cx="68.1" cy="189.0" r="2.25"/><circle cx="87.7" cy="194.0" r="2.25"/><circle cx="84.2" cy="193.6" r="2.25"/><circle cx="83.7" cy="169.6" r="2.25"/><circle cx="65.4" cy="186.1" r="2.25"/><circle cx="202.9" cy="188.7" r="2.25"/><circle cx="86.0" cy="187.7" r="2.25"/><circle cx="86.0" cy="190.0" r="2.25"/><circle cx="65.7" cy="188.0" r="2.25"/><circle cx="121.0" cy="181.7" r="2.25"/><circle cx="137.1" cy="186.4" r="2.25"/><circle cx="204.3" cy="196.9" r="2.25"/><circle cx="80.5" cy="186.1" r="2.25"/><circle cx="136.5" cy="199.6" r="2.25"/><circle cx="153.3" cy="195.4" r="2.25"/><circle cx="145.3" cy="177.8" r="2.25"/><circle cx="120.2" cy="203.4" r="2.25"/><circle cx="203.5" cy="178.4" r="2.25"/><circle cx="86.1" cy="187.9" r="2.25"/><circle cx="138.4" cy="212.4" r="2.25"/><circle cx="129.2" cy="217.1" r="2.25"/><circle cx="109.6" cy="185.2" r="2.25"/><circle cx="149.1" cy="201.9" r="2.25"/><circle cx="115.1" cy="185.0" r="2.25"/><circle cx="70.2" cy="169.2" r="2.25"/><circle cx="71.4" cy="175.0" r="2.25"/><circle cx="94.5" cy="181.7" r="2.25"/><circle cx="148.0" cy="187.0" r="2.25"/><circle cx="123.1" cy="208.9" r="2.25"/><circle cx="150.6" cy="202.3" r="2.25"/><circle cx="89.7" cy="191.5" r="2.25"/><circle cx="112.4" cy="176.4" r="2.25"/><circle cx="154.1" cy="183.4" r="2.25"/><circle cx="118.2" cy="183.1" r="2.25"/><circle cx="209.3" cy="199.6" r="2.25"/><circle cx="116.6" cy="201.3" r="2.25"/><circle cx="194.2" cy="206.0" r="2.25"/><circle cx="97.2" cy="197.6" r="2.25"/><circle cx="190.4" cy="195.0" r="2.25"/><circle cx="134.0" cy="189.6" r="2.25"/><circle cx="75.0" cy="176.6" r="2.25"/><circle cx="131.9" cy="200.4" r="2.25"/><circle cx="107.9" cy="199.2" r="2.25"/><circle cx="125.6" cy="189.7" r="2.25"/><circle cx="67.8" cy="196.8" r="2.25"/><circle cx="137.3" cy="198.6" r="2.25"/><circle cx="88.0" cy="193.4" r="2.25"/><circle cx="71.5" cy="188.7" r="2.25"/><circle cx="135.2" cy="176.6" r="2.25"/><circle cx="144.3" cy="184.4" r="2.25"/><circle cx="144.0" cy="196.1" r="2.25"/><circle cx="124.6" cy="190.1" r="2.25"/><circle cx="95.3" cy="192.4" r="2.25"/><circle cx="176.7" cy="192.4" r="2.25"/><circle cx="124.0" cy="198.8" r="2.25"/><circle cx="70.0" cy="211.9" r="2.25"/><circle cx="181.3" cy="199.1" r="2.25"/><circle cx="93.2" cy="207.6" r="2.25"/><circle cx="108.3" cy="188.5" r="2.25"/><circle cx="166.3" cy="186.4" r="2.25"/><circle cx="118.2" cy="185.7" r="2.25"/><circle cx="106.3" cy="196.3" r="2.25"/><circle cx="163.9" cy="205.7" r="2.25"/><circle cx="206.0" cy="195.7" r="2.25"/><circle cx="82.9" cy="180.3" r="2.25"/><circle cx="65.0" cy="190.6" r="2.25"/><circle cx="136.2" cy="207.1" r="2.25"/><circle cx="70.7" cy="196.0" r="2.25"/><circle cx="113.0" cy="203.6" r="2.25"/><circle cx="148.7" cy="204.0" r="2.25"/><circle cx="117.7" cy="199.3" r="2.25"/><circle cx="87.5" cy="187.4" r="2.25"/><circle cx="83.4" cy="206.2" r="2.25"/><circle cx="169.4" cy="192.9" r="2.25"/><circle cx="87.8" cy="201.4" r="2.25"/><circle cx="148.8" cy="190.6" r="2.25"/><circle cx="154.2" cy="199.0" r="2.25"/><circle cx="138.3" cy="209.2" r="2.25"/><circle cx="166.6" cy="206.9" r="2.25"/><circle cx="99.2" cy="213.3" r="2.25"/><circle cx="120.4" cy="191.7" r="2.25"/><circle cx="181.8" cy="186.0" r="2.25"/><circle cx="146.6" cy="189.6" r="2.25"/><circle cx="138.6" cy="181.2" r="2.25"/><circle cx="110.9" cy="203.9" r="2.25"/><circle cx="84.8" cy="189.1" r="2.25"/><circle cx="122.2" cy="202.3" r="2.25"/><circle cx="89.5" cy="185.2" r="2.25"/><circle cx="96.4" cy="184.0" r="2.25"/><circle cx="82.1" cy="183.5" r="2.25"/><circle cx="175.0" cy="187.3" r="2.25"/><circle cx="165.5" cy="217.9" r="2.25"/><circle cx="129.4" cy="186.9" r="2.25"/><circle cx="100.3" cy="199.5" r="2.25"/><circle cx="114.4" cy="190.4" r="2.25"/><circle cx="79.9" cy="185.7" r="2.25"/><circle cx="164.7" cy="183.6" r="2.25"/><circle cx="116.1" cy="214.7" r="2.25"/><circle cx="173.5" cy="183.0" r="2.25"/><circle cx="131.6" cy="201.7" r="2.25"/><circle cx="107.3" cy="205.0" r="2.25"/><circle cx="89.6" cy="202.9" r="2.25"/><circle cx="153.3" cy="181.1" r="2.25"/><circle cx="150.5" cy="201.5" r="2.25"/><circle cx="76.7" cy="186.8" r="2.25"/><circle cx="81.1" cy="194.1" r="2.25"/><circle cx="145.8" cy="190.0" r="2.25"/><circle cx="82.0" cy="183.2" r="2.25"/><circle cx="101.2" cy="185.6" r="2.25"/><circle cx="118.4" cy="186.1" r="2.25"/><circle cx="185.8" cy="193.0" r="2.25"/><circle cx="156.5" cy="190.5" r="2.25"/><circle cx="143.1" cy="188.3" r="2.25"/><circle cx="137.5" cy="197.0" r="2.25"/><circle cx="73.7" cy="178.1" r="2.25"/><circle cx="167.2" cy="194.7" r="2.25"/><circle cx="126.0" cy="193.6" r="2.25"/><circle cx="94.1" cy="190.0" r="2.25"/><circle cx="76.2" cy="205.3" r="2.25"/><circle cx="180.1" cy="203.5" r="2.25"/><circle cx="119.3" cy="186.2" r="2.25"/><circle cx="232.6" cy="209.7" r="2.25"/><circle cx="86.3" cy="174.9" r="2.25"/><circle cx="93.2" cy="192.1" r="2.25"/><circle cx="138.1" cy="203.2" r="2.25"/><circle cx="118.6" cy="170.7" r="2.25"/><circle cx="181.2" cy="188.2" r="2.25"/><circle cx="102.7" cy="186.6" r="2.25"/><circle cx="86.6" cy="188.4" r="2.25"/><circle cx="121.8" cy="199.8" r="2.25"/><circle cx="135.4" cy="191.3" r="2.25"/><circle cx="156.9" cy="201.3" r="2.25"/><circle cx="71.0" cy="197.7" r="2.25"/><circle cx="145.3" cy="193.2" r="2.25"/><circle cx="112.6" cy="182.3" r="2.25"/><circle cx="83.9" cy="201.6" r="2.25"/><circle cx="90.1" cy="179.9" r="2.25"/><circle cx="112.4" cy="199.4" r="2.25"/><circle cx="106.2" cy="195.4" r="2.25"/><circle cx="142.9" cy="179.3" r="2.25"/><circle cx="88.4" cy="168.9" r="2.25"/><circle cx="99.6" cy="192.1" r="2.25"/><circle cx="70.3" cy="171.9" r="2.25"/><circle cx="158.9" cy="200.3" r="2.25"/><circle cx="129.0" cy="199.3" r="2.25"/><circle cx="158.8" cy="210.3" r="2.25"/><circle cx="96.3" cy="197.0" r="2.25"/><circle cx="169.1" cy="187.9" r="2.25"/><circle cx="151.2" cy="218.4" r="2.25"/><circle cx="92.6" cy="186.2" r="2.25"/><circle cx="157.5" cy="181.5" r="2.25"/><circle cx="123.4" cy="198.2" r="2.25"/><circle cx="180.6" cy="213.5" r="2.25"/><circle cx="134.0" cy="198.8" r="2.25"/><circle cx="151.3" cy="174.6" r="2.25"/><circle cx="159.3" cy="189.7" r="2.25"/><circle cx="164.2" cy="210.9" r="2.25"/><circle cx="183.5" cy="195.3" r="2.25"/><circle cx="95.9" cy="199.8" r="2.25"/><circle cx="78.3" cy="176.8" r="2.25"/><circle cx="99.5" cy="198.7" r="2.25"/><circle cx="126.4" cy="187.9" r="2.25"/><circle cx="179.3" cy="201.0" r="2.25"/><circle cx="149.4" cy="184.7" r="2.25"/><circle cx="189.2" cy="204.2" r="2.25"/><circle cx="66.4" cy="202.2" r="2.25"/><circle cx="63.8" cy="184.6" r="2.25"/><circle cx="169.9" cy="216.2" r="2.25"/><circle cx="140.6" cy="188.4" r="2.25"/><circle cx="133.1" cy="191.6" r="2.25"/><circle cx="151.9" cy="209.8" r="2.25"/><circle cx="110.7" cy="186.0" r="2.25"/><circle cx="175.3" cy="199.9" r="2.25"/><circle cx="134.5" cy="207.8" r="2.25"/><circle cx="119.1" cy="193.4" r="2.25"/><circle cx="75.2" cy="186.8" r="2.25"/><circle cx="160.5" cy="191.1" r="2.25"/><circle cx="152.9" cy="194.5" r="2.25"/><circle cx="176.3" cy="191.7" r="2.25"/><circle cx="137.6" cy="180.7" r="2.25"/><circle cx="77.5" cy="193.5" r="2.25"/><circle cx="117.7" cy="191.9" r="2.25"/><circle cx="151.1" cy="187.1" r="2.25"/><circle cx="115.3" cy="216.3" r="2.25"/><circle cx="173.3" cy="195.0" r="2.25"/><circle cx="105.3" cy="214.0" r="2.25"/><circle cx="72.0" cy="193.1" r="2.25"/><circle cx="139.1" cy="212.9" r="2.25"/><circle cx="60.2" cy="203.8" r="2.25"/><circle cx="167.7" cy="214.3" r="2.25"/><circle cx="90.4" cy="203.0" r="2.25"/><circle cx="106.2" cy="194.5" r="2.25"/><circle cx="114.0" cy="192.6" r="2.25"/><circle cx="64.1" cy="191.1" r="2.25"/><circle cx="118.8" cy="187.8" r="2.25"/><circle cx="190.7" cy="197.8" r="2.25"/><circle cx="197.4" cy="194.1" r="2.25"/><circle cx="73.4" cy="176.1" r="2.25"/><circle cx="158.3" cy="190.3" r="2.25"/><circle cx="167.6" cy="196.9" r="2.25"/><circle cx="140.0" cy="194.6" r="2.25"/><circle cx="120.8" cy="208.4" r="2.25"/><circle cx="127.9" cy="195.3" r="2.25"/><circle cx="63.9" cy="208.3" r="2.25"/><circle cx="122.6" cy="191.5" r="2.25"/><circle cx="75.6" cy="190.0" r="2.25"/><circle cx="86.8" cy="205.9" r="2.25"/><circle cx="158.7" cy="205.9" r="2.25"/><circle cx="73.1" cy="187.6" r="2.25"/><circle cx="114.8" cy="222.3" r="2.25"/><circle cx="170.2" cy="195.9" r="2.25"/><circle cx="185.3" cy="199.2" r="2.25"/><circle cx="135.9" cy="189.6" r="2.25"/><circle cx="83.4" cy="192.7" r="2.25"/><circle cx="143.7" cy="197.8" r="2.25"/><circle cx="113.0" cy="173.8" r="2.25"/><circle cx="84.0" cy="192.9" r="2.25"/><circle cx="114.2" cy="189.4" r="2.25"/><circle cx="86.1" cy="192.8" r="2.25"/><circle cx="105.2" cy="194.0" r="2.25"/><circle cx="67.3" cy="184.1" r="2.25"/><circle cx="59.9" cy="212.5" r="2.25"/><circle cx="168.3" cy="192.8" r="2.25"/><circle cx="202.1" cy="195.3" r="2.25"/><circle cx="132.8" cy="204.9" r="2.25"/><circle cx="138.2" cy="204.3" r="2.25"/><circle cx="118.3" cy="215.6" r="2.25"/><circle cx="130.6" cy="188.9" r="2.25"/><circle cx="134.9" cy="194.6" r="2.25"/><circle cx="104.4" cy="187.0" r="2.25"/><circle cx="167.2" cy="217.7" r="2.25"/><circle cx="122.7" cy="188.7" r="2.25"/><circle cx="125.9" cy="193.3" r="2.25"/><circle cx="198.0" cy="214.9" r="2.25"/><circle cx="125.6" cy="194.5" r="2.25"/><circle cx="132.0" cy="192.5" r="2.25"/><circle cx="103.9" cy="181.3" r="2.25"/><circle cx="137.5" cy="205.9" r="2.25"/><circle cx="158.7" cy="183.3" r="2.25"/><circle cx="138.9" cy="192.7" r="2.25"/><circle cx="139.1" cy="210.1" r="2.25"/><circle cx="140.0" cy="191.2" r="2.25"/><circle cx="68.7" cy="187.4" r="2.25"/><circle cx="96.3" cy="184.7" r="2.25"/><circle cx="92.3" cy="203.6" r="2.25"/><circle cx="110.6" cy="197.5" r="2.25"/><circle cx="136.4" cy="181.3" r="2.25"/><circle cx="75.5" cy="188.6" r="2.25"/><circle cx="78.9" cy="186.9" r="2.25"/><circle cx="81.6" cy="212.1" r="2.25"/><circle cx="62.1" cy="182.9" r="2.25"/><circle cx="95.3" cy="197.4" r="2.25"/><circle cx="104.3" cy="195.6" r="2.25"/><circle cx="134.3" cy="188.0" r="2.25"/><circle cx="111.1" cy="178.3" r="2.25"/><circle cx="99.6" cy="183.4" r="2.25"/><circle cx="95.1" cy="197.2" r="2.25"/><circle cx="189.6" cy="211.9" r="2.25"/><circle cx="91.5" cy="196.7" r="2.25"/><circle cx="65.4" cy="182.9" r="2.25"/><circle cx="150.3" cy="188.0" r="2.25"/><circle cx="139.8" cy="192.2" r="2.25"/><circle cx="72.9" cy="200.2" r="2.25"/><circle cx="172.2" cy="200.7" r="2.25"/><circle cx="77.3" cy="191.8" r="2.25"/><circle cx="131.2" cy="170.3" r="2.25"/><circle cx="98.1" cy="180.8" r="2.25"/><circle cx="159.4" cy="202.7" r="2.25"/><circle cx="69.7" cy="213.6" r="2.25"/><circle cx="125.1" cy="205.7" r="2.25"/><circle cx="146.0" cy="204.7" r="2.25"/><circle cx="58.4" cy="184.1" r="2.25"/><circle cx="169.3" cy="200.8" r="2.25"/><circle cx="79.9" cy="195.0" r="2.25"/><circle cx="104.1" cy="189.9" r="2.25"/><circle cx="199.8" cy="191.1" r="2.25"/><circle cx="191.8" cy="211.2" r="2.25"/><circle cx="178.6" cy="196.7" r="2.25"/><circle cx="143.5" cy="195.7" r="2.25"/><circle cx="65.1" cy="172.7" r="2.25"/><circle cx="96.3" cy="210.5" r="2.25"/><circle cx="199.1" cy="194.9" r="2.25"/><circle cx="173.1" cy="194.3" r="2.25"/><circle cx="107.2" cy="184.4" r="2.25"/><circle cx="68.1" cy="194.4" r="2.25"/><circle cx="134.0" cy="193.3" r="2.25"/><circle cx="138.5" cy="196.1" r="2.25"/><circle cx="219.8" cy="211.5" r="2.25"/><circle cx="170.8" cy="184.3" r="2.25"/><circle cx="95.9" cy="175.8" r="2.25"/><circle cx="63.0" cy="197.8" r="2.25"/><circle cx="189.6" cy="182.5" r="2.25"/><circle cx="72.8" cy="189.7" r="2.25"/><circle cx="139.3" cy="194.0" r="2.25"/><circle cx="130.6" cy="205.0" r="2.25"/><circle cx="69.4" cy="186.6" r="2.25"/><circle cx="131.7" cy="192.3" r="2.25"/><circle cx="138.0" cy="182.8" r="2.25"/><circle cx="178.8" cy="184.1" r="2.25"/><circle cx="123.4" cy="185.8" r="2.25"/><circle cx="116.9" cy="194.3" r="2.25"/><circle cx="159.8" cy="187.1" r="2.25"/><circle cx="122.8" cy="206.9" r="2.25"/><circle cx="107.5" cy="173.1" r="2.25"/><circle cx="140.0" cy="212.5" r="2.25"/><circle cx="106.5" cy="186.6" r="2.25"/><circle cx="144.1" cy="203.1" r="2.25"/><circle cx="153.5" cy="192.5" r="2.25"/><circle cx="155.0" cy="189.7" r="2.25"/><circle cx="95.8" cy="173.6" r="2.25"/><circle cx="93.6" cy="192.1" r="2.25"/><circle cx="120.8" cy="182.8" r="2.25"/><circle cx="150.4" cy="193.1" r="2.25"/><circle cx="65.6" cy="201.0" r="2.25"/><circle cx="65.7" cy="200.1" r="2.25"/><circle cx="78.3" cy="170.8" r="2.25"/><circle cx="90.6" cy="199.4" r="2.25"/><circle cx="135.2" cy="203.1" r="2.25"/><circle cx="204.9" cy="203.0" r="2.25"/><circle cx="146.6" cy="191.5" r="2.25"/><circle cx="93.4" cy="189.6" r="2.25"/><circle cx="141.0" cy="180.3" r="2.25"/><circle cx="178.2" cy="203.8" r="2.25"/><circle cx="71.5" cy="194.9" r="2.25"/><circle cx="64.5" cy="200.0" r="2.25"/><circle cx="113.5" cy="177.1" r="2.25"/><circle cx="85.6" cy="189.7" r="2.25"/><circle cx="181.9" cy="198.6" r="2.25"/><circle cx="116.5" cy="214.0" r="2.25"/><circle cx="138.3" cy="198.2" r="2.25"/><circle cx="79.5" cy="176.0" r="2.25"/><circle cx="69.3" cy="195.0" r="2.25"/><circle cx="127.8" cy="200.8" r="2.25"/><circle cx="203.3" cy="199.0" r="2.25"/><circle cx="82.5" cy="209.6" r="2.25"/><circle cx="182.3" cy="201.0" r="2.25"/><circle cx="112.4" cy="219.5" r="2.25"/><circle cx="81.6" cy="186.1" r="2.25"/><circle cx="111.3" cy="195.1" r="2.25"/><circle cx="138.9" cy="185.3" r="2.25"/><circle cx="136.4" cy="211.7" r="2.25"/><circle cx="115.3" cy="188.2" r="2.25"/><circle cx="89.5" cy="201.6" r="2.25"/><circle cx="104.9" cy="198.3" r="2.25"/><circle cx="109.3" cy="186.1" r="2.25"/><circle cx="154.0" cy="180.8" r="2.25"/><circle cx="129.2" cy="179.1" r="2.25"/><circle cx="98.7" cy="184.5" r="2.25"/><circle cx="122.6" cy="194.6" r="2.25"/><circle cx="82.7" cy="185.1" r="2.25"/><circle cx="140.2" cy="197.6" r="2.25"/><circle cx="128.8" cy="205.0" r="2.25"/><circle cx="70.9" cy="191.3" r="2.25"/><circle cx="166.4" cy="191.0" r="2.25"/><circle cx="66.6" cy="202.3" r="2.25"/><circle cx="70.5" cy="183.6" r="2.25"/><circle cx="99.6" cy="188.4" r="2.25"/><circle cx="183.1" cy="181.3" r="2.25"/><circle cx="162.9" cy="187.5" r="2.25"/><circle cx="83.5" cy="206.9" r="2.25"/><circle cx="76.0" cy="198.5" r="2.25"/><circle cx="137.4" cy="202.2" r="2.25"/><circle cx="138.4" cy="208.0" r="2.25"/><circle cx="83.2" cy="213.1" r="2.25"/><circle cx="95.3" cy="193.8" r="2.25"/><circle cx="148.1" cy="195.6" r="2.25"/><circle cx="122.1" cy="191.9" r="2.25"/><circle cx="211.8" cy="193.5" r="2.25"/><circle cx="85.0" cy="177.9" r="2.25"/><circle cx="96.8" cy="209.8" r="2.25"/><circle cx="114.3" cy="196.9" r="2.25"/><circle cx="172.5" cy="192.0" r="2.25"/><circle cx="70.1" cy="194.7" r="2.25"/><circle cx="128.1" cy="199.7" r="2.25"/><circle cx="64.0" cy="197.8" r="2.25"/><circle cx="153.8" cy="183.7" r="2.25"/><circle cx="85.6" cy="187.9" r="2.25"/><circle cx="173.9" cy="209.8" r="2.25"/><circle cx="164.0" cy="211.5" r="2.25"/><circle cx="112.3" cy="188.6" r="2.25"/><circle cx="188.2" cy="180.4" r="2.25"/><circle cx="158.6" cy="201.2" r="2.25"/><circle cx="138.6" cy="197.3" r="2.25"/><circle cx="102.7" cy="205.1" r="2.25"/><circle cx="152.3" cy="214.7" r="2.25"/><circle cx="176.9" cy="190.2" r="2.25"/><circle cx="78.5" cy="195.7" r="2.25"/><circle cx="76.0" cy="201.3" r="2.25"/><circle cx="125.0" cy="198.5" r="2.25"/><circle cx="78.8" cy="185.3" r="2.25"/><circle cx="173.0" cy="205.2" r="2.25"/><circle cx="147.9" cy="205.4" r="2.25"/><circle cx="211.9" cy="198.1" r="2.25"/><circle cx="228.2" cy="203.5" r="2.25"/><circle cx="98.8" cy="186.7" r="2.25"/><circle cx="147.8" cy="189.1" r="2.25"/><circle cx="164.1" cy="203.2" r="2.25"/><circle cx="96.2" cy="185.4" r="2.25"/><circle cx="135.1" cy="198.6" r="2.25"/><circle cx="155.4" cy="193.9" r="2.25"/><circle cx="129.7" cy="194.3" r="2.25"/><circle cx="115.5" cy="198.2" r="2.25"/><circle cx="133.7" cy="183.5" r="2.25"/><circle cx="143.8" cy="196.3" r="2.25"/><circle cx="161.5" cy="190.0" r="2.25"/><circle cx="155.5" cy="201.7" r="2.25"/><circle cx="188.1" cy="198.9" r="2.25"/><circle cx="181.9" cy="197.4" r="2.25"/><circle cx="164.4" cy="196.7" r="2.25"/><circle cx="77.2" cy="181.1" r="2.25"/><circle cx="146.6" cy="186.8" r="2.25"/><circle cx="199.7" cy="179.6" r="2.25"/><circle cx="132.1" cy="183.2" r="2.25"/><circle cx="132.5" cy="193.5" r="2.25"/><circle cx="166.4" cy="200.9" r="2.25"/><circle cx="153.2" cy="190.7" r="2.25"/><circle cx="91.5" cy="175.9" r="2.25"/><circle cx="109.7" cy="196.3" r="2.25"/><circle cx="212.4" cy="202.8" r="2.25"/><circle cx="107.4" cy="179.6" r="2.25"/><circle cx="88.5" cy="201.2" r="2.25"/><circle cx="89.2" cy="201.7" r="2.25"/><circle cx="126.6" cy="200.4" r="2.25"/><circle cx="69.5" cy="203.2" r="2.25"/><circle cx="111.4" cy="186.0" r="2.25"/><circle cx="79.2" cy="170.0" r="2.25"/><circle cx="169.5" cy="201.2" r="2.25"/><circle cx="173.4" cy="200.2" r="2.25"/><circle cx="145.6" cy="193.6" r="2.25"/><circle cx="140.5" cy="183.4" r="2.25"/><circle cx="64.5" cy="172.2" r="2.25"/><circle cx="71.0" cy="188.3" r="2.25"/><circle cx="104.3" cy="172.5" r="2.25"/><circle cx="136.6" cy="185.4" r="2.25"/><circle cx="155.0" cy="194.3" r="2.25"/><circle cx="94.1" cy="203.9" r="2.25"/><circle cx="111.2" cy="217.4" r="2.25"/><circle cx="177.3" cy="196.1" r="2.25"/><circle cx="170.2" cy="197.1" r="2.25"/><circle cx="86.5" cy="188.7" r="2.25"/><circle cx="67.1" cy="185.3" r="2.25"/><circle cx="75.9" cy="193.4" r="2.25"/><circle cx="216.2" cy="183.1" r="2.25"/><circle cx="66.6" cy="188.3" r="2.25"/><circle cx="63.3" cy="199.1" r="2.25"/><circle cx="179.7" cy="183.7" r="2.25"/><circle cx="120.2" cy="205.9" r="2.25"/><circle cx="85.5" cy="188.9" r="2.25"/><circle cx="120.9" cy="181.3" r="2.25"/><circle cx="80.2" cy="174.7" r="2.25"/><circle cx="106.1" cy="190.0" r="2.25"/><circle cx="141.5" cy="208.8" r="2.25"/><circle cx="137.2" cy="185.7" r="2.25"/><circle cx="191.1" cy="191.1" r="2.25"/><circle cx="114.0" cy="193.4" r="2.25"/><circle cx="163.0" cy="193.1" r="2.25"/><circle cx="86.4" cy="190.5" r="2.25"/><circle cx="74.4" cy="194.1" r="2.25"/><circle cx="204.3" cy="188.0" r="2.25"/><circle cx="126.9" cy="203.7" r="2.25"/><circle cx="120.5" cy="189.3" r="2.25"/><circle cx="244.0" cy="192.0" r="2.25"/><circle cx="249.0" cy="198.0" r="2.25"/><circle cx="270.0" cy="200.0" r="2.25"/><circle cx="278.5" cy="183.3" r="2.25"/></g><g fill="#7AAC1E"><circle cx="59.7" cy="88.5" r="2.25"/><circle cx="178.7" cy="124.9" r="2.25"/><circle cx="195.7" cy="102.0" r="2.25"/><circle cx="63.9" cy="83.8" r="2.25"/><circle cx="120.4" cy="92.6" r="2.25"/><circle cx="168.7" cy="106.4" r="2.25"/><circle cx="91.2" cy="103.9" r="2.25"/><circle cx="61.0" cy="94.7" r="2.25"/><circle cx="231.2" cy="132.8" r="2.25"/><circle cx="155.3" cy="97.7" r="2.25"/><circle cx="166.1" cy="117.2" r="2.25"/><circle cx="162.1" cy="104.7" r="2.25"/><circle cx="158.1" cy="98.6" r="2.25"/><circle cx="144.5" cy="101.7" r="2.25"/><circle cx="103.0" cy="96.8" r="2.25"/><circle cx="139.6" cy="109.3" r="2.25"/><circle cx="61.8" cy="78.1" r="2.25"/><circle cx="59.4" cy="112.9" r="2.25"/><circle cx="143.1" cy="123.1" r="2.25"/><circle cx="68.1" cy="94.0" r="2.25"/><circle cx="87.7" cy="100.1" r="2.25"/><circle cx="84.2" cy="109.8" r="2.25"/><circle cx="83.7" cy="84.3" r="2.25"/><circle cx="65.4" cy="86.3" r="2.25"/><circle cx="202.9" cy="95.5" r="2.25"/><circle cx="86.0" cy="97.2" r="2.25"/><circle cx="86.0" cy="107.4" r="2.25"/><circle cx="65.7" cy="81.9" r="2.25"/><circle cx="121.0" cy="93.6" r="2.25"/><circle cx="137.1" cy="95.6" r="2.25"/><circle cx="204.3" cy="75.5" r="2.25"/><circle cx="80.5" cy="103.0" r="2.25"/><circle cx="136.5" cy="100.4" r="2.25"/><circle cx="153.3" cy="95.4" r="2.25"/><circle cx="145.3" cy="78.0" r="2.25"/><circle cx="120.2" cy="97.1" r="2.25"/><circle cx="203.5" cy="130.7" r="2.25"/><circle cx="86.1" cy="100.9" r="2.25"/><circle cx="138.4" cy="110.4" r="2.25"/><circle cx="129.2" cy="107.3" r="2.25"/><circle cx="109.6" cy="121.3" r="2.25"/><circle cx="149.1" cy="71.6" r="2.25"/><circle cx="115.1" cy="97.8" r="2.25"/><circle cx="70.2" cy="83.0" r="2.25"/><circle cx="71.4" cy="82.5" r="2.25"/><circle cx="94.5" cy="112.7" r="2.25"/><circle cx="148.0" cy="107.7" r="2.25"/><circle cx="123.1" cy="117.6" r="2.25"/><circle cx="150.6" cy="103.2" r="2.25"/><circle cx="89.7" cy="78.2" r="2.25"/><circle cx="112.4" cy="99.4" r="2.25"/><circle cx="154.1" cy="119.9" r="2.25"/><circle cx="118.2" cy="91.0" r="2.25"/><circle cx="209.3" cy="102.8" r="2.25"/><circle cx="116.6" cy="85.3" r="2.25"/><circle cx="194.2" cy="106.2" r="2.25"/><circle cx="97.2" cy="95.4" r="2.25"/><circle cx="190.4" cy="85.4" r="2.25"/><circle cx="134.0" cy="91.2" r="2.25"/><circle cx="75.0" cy="88.4" r="2.25"/><circle cx="131.9" cy="87.1" r="2.25"/><circle cx="107.9" cy="110.1" r="2.25"/><circle cx="125.6" cy="117.9" r="2.25"/><circle cx="67.8" cy="102.2" r="2.25"/><circle cx="137.3" cy="99.7" r="2.25"/><circle cx="88.0" cy="77.4" r="2.25"/><circle cx="71.5" cy="92.0" r="2.25"/><circle cx="135.2" cy="118.0" r="2.25"/><circle cx="144.3" cy="100.7" r="2.25"/><circle cx="144.0" cy="111.1" r="2.25"/><circle cx="124.6" cy="99.1" r="2.25"/><circle cx="95.3" cy="118.8" r="2.25"/><circle cx="176.7" cy="115.2" r="2.25"/><circle cx="124.0" cy="98.2" r="2.25"/><circle cx="70.0" cy="97.4" r="2.25"/><circle cx="181.3" cy="106.8" r="2.25"/><circle cx="93.2" cy="104.3" r="2.25"/><circle cx="108.3" cy="82.6" r="2.25"/><circle cx="166.3" cy="109.2" r="2.25"/><circle cx="118.2" cy="94.6" r="2.25"/><circle cx="106.3" cy="76.8" r="2.25"/><circle cx="163.9" cy="127.4" r="2.25"/><circle cx="206.0" cy="105.8" r="2.25"/><circle cx="82.9" cy="119.9" r="2.25"/><circle cx="65.0" cy="80.4" r="2.25"/><circle cx="136.2" cy="95.8" r="2.25"/><circle cx="70.7" cy="124.2" r="2.25"/><circle cx="113.0" cy="86.9" r="2.25"/><circle cx="148.7" cy="131.6" r="2.25"/><circle cx="117.7" cy="107.1" r="2.25"/><circle cx="87.5" cy="92.6" r="2.25"/><circle cx="83.4" cy="87.5" r="2.25"/><circle cx="169.4" cy="113.5" r="2.25"/><circle cx="87.8" cy="88.5" r="2.25"/><circle cx="148.8" cy="105.7" r="2.25"/><circle cx="154.2" cy="90.6" r="2.25"/><circle cx="138.3" cy="105.4" r="2.25"/><circle cx="166.6" cy="103.4" r="2.25"/><circle cx="99.2" cy="102.3" r="2.25"/><circle cx="120.4" cy="83.9" r="2.25"/><circle cx="181.8" cy="98.3" r="2.25"/><circle cx="146.6" cy="105.4" r="2.25"/><circle cx="138.6" cy="98.0" r="2.25"/><circle cx="110.9" cy="105.1" r="2.25"/><circle cx="84.8" cy="129.8" r="2.25"/><circle cx="122.2" cy="104.3" r="2.25"/><circle cx="89.5" cy="100.9" r="2.25"/><circle cx="96.4" cy="80.8" r="2.25"/><circle cx="82.1" cy="94.7" r="2.25"/><circle cx="175.0" cy="115.7" r="2.25"/><circle cx="165.5" cy="83.2" r="2.25"/><circle cx="129.4" cy="121.5" r="2.25"/><circle cx="100.3" cy="117.8" r="2.25"/><circle cx="114.4" cy="93.7" r="2.25"/><circle cx="79.9" cy="125.1" r="2.25"/><circle cx="164.7" cy="101.1" r="2.25"/><circle cx="116.1" cy="94.3" r="2.25"/><circle cx="173.5" cy="121.3" r="2.25"/><circle cx="131.6" cy="115.0" r="2.25"/><circle cx="107.3" cy="100.7" r="2.25"/><circle cx="89.6" cy="88.4" r="2.25"/><circle cx="153.3" cy="93.3" r="2.25"/><circle cx="150.5" cy="96.8" r="2.25"/><circle cx="76.7" cy="95.4" r="2.25"/><circle cx="81.1" cy="102.5" r="2.25"/><circle cx="145.8" cy="108.7" r="2.25"/><circle cx="82.0" cy="98.4" r="2.25"/><circle cx="101.2" cy="110.6" r="2.25"/><circle cx="118.4" cy="87.2" r="2.25"/><circle cx="185.8" cy="89.5" r="2.25"/><circle cx="156.5" cy="90.2" r="2.25"/><circle cx="143.1" cy="100.5" r="2.25"/><circle cx="137.5" cy="94.8" r="2.25"/><circle cx="73.7" cy="89.9" r="2.25"/><circle cx="167.2" cy="118.4" r="2.25"/><circle cx="126.0" cy="94.4" r="2.25"/><circle cx="94.1" cy="83.9" r="2.25"/><circle cx="76.2" cy="100.8" r="2.25"/><circle cx="180.1" cy="105.3" r="2.25"/><circle cx="119.3" cy="84.0" r="2.25"/><circle cx="232.6" cy="123.8" r="2.25"/><circle cx="86.3" cy="87.1" r="2.25"/><circle cx="93.2" cy="87.9" r="2.25"/><circle cx="138.1" cy="104.3" r="2.25"/><circle cx="118.6" cy="115.4" r="2.25"/><circle cx="181.2" cy="112.8" r="2.25"/><circle cx="102.7" cy="92.6" r="2.25"/><circle cx="86.6" cy="91.8" r="2.25"/><circle cx="121.8" cy="99.0" r="2.25"/><circle cx="135.4" cy="95.4" r="2.25"/><circle cx="156.9" cy="119.0" r="2.25"/><circle cx="71.0" cy="94.2" r="2.25"/><circle cx="145.3" cy="92.8" r="2.25"/><circle cx="112.6" cy="90.3" r="2.25"/><circle cx="83.9" cy="77.8" r="2.25"/><circle cx="90.1" cy="89.4" r="2.25"/><circle cx="112.4" cy="93.6" r="2.25"/><circle cx="106.2" cy="130.5" r="2.25"/><circle cx="142.9" cy="115.2" r="2.25"/><circle cx="88.4" cy="115.3" r="2.25"/><circle cx="99.6" cy="96.9" r="2.25"/><circle cx="70.3" cy="98.7" r="2.25"/><circle cx="158.9" cy="99.9" r="2.25"/><circle cx="129.0" cy="118.0" r="2.25"/><circle cx="158.8" cy="119.1" r="2.25"/><circle cx="96.3" cy="95.4" r="2.25"/><circle cx="169.1" cy="113.0" r="2.25"/><circle cx="151.2" cy="117.4" r="2.25"/><circle cx="92.6" cy="105.4" r="2.25"/><circle cx="157.5" cy="99.0" r="2.25"/><circle cx="123.4" cy="120.2" r="2.25"/><circle cx="180.6" cy="116.6" r="2.25"/><circle cx="134.0" cy="109.7" r="2.25"/><circle cx="151.3" cy="101.7" r="2.25"/><circle cx="159.3" cy="111.7" r="2.25"/><circle cx="164.2" cy="94.8" r="2.25"/><circle cx="183.5" cy="101.3" r="2.25"/><circle cx="95.9" cy="105.8" r="2.25"/><circle cx="78.3" cy="93.5" r="2.25"/><circle cx="99.5" cy="84.4" r="2.25"/><circle cx="126.4" cy="105.6" r="2.25"/><circle cx="179.3" cy="108.8" r="2.25"/><circle cx="149.4" cy="126.8" r="2.25"/><circle cx="189.2" cy="96.1" r="2.25"/><circle cx="66.4" cy="106.6" r="2.25"/><circle cx="63.8" cy="86.5" r="2.25"/><circle cx="169.9" cy="132.2" r="2.25"/><circle cx="140.6" cy="96.6" r="2.25"/><circle cx="133.1" cy="107.0" r="2.25"/><circle cx="151.9" cy="107.8" r="2.25"/><circle cx="110.7" cy="113.5" r="2.25"/><circle cx="175.3" cy="95.9" r="2.25"/><circle cx="134.5" cy="96.3" r="2.25"/><circle cx="119.1" cy="100.8" r="2.25"/><circle cx="75.2" cy="75.3" r="2.25"/><circle cx="160.5" cy="114.1" r="2.25"/><circle cx="152.9" cy="109.4" r="2.25"/><circle cx="176.3" cy="110.1" r="2.25"/><circle cx="137.6" cy="115.3" r="2.25"/><circle cx="77.5" cy="118.4" r="2.25"/><circle cx="117.7" cy="99.3" r="2.25"/><circle cx="151.1" cy="94.3" r="2.25"/><circle cx="115.3" cy="97.3" r="2.25"/><circle cx="173.3" cy="131.9" r="2.25"/><circle cx="105.3" cy="88.8" r="2.25"/><circle cx="72.0" cy="84.4" r="2.25"/><circle cx="139.1" cy="110.8" r="2.25"/><circle cx="60.2" cy="92.3" r="2.25"/><circle cx="167.7" cy="94.2" r="2.25"/><circle cx="90.4" cy="97.7" r="2.25"/><circle cx="106.2" cy="114.5" r="2.25"/><circle cx="114.0" cy="110.7" r="2.25"/><circle cx="64.1" cy="119.5" r="2.25"/><circle cx="118.8" cy="95.1" r="2.25"/><circle cx="190.7" cy="95.4" r="2.25"/><circle cx="197.4" cy="103.7" r="2.25"/><circle cx="73.4" cy="92.5" r="2.25"/><circle cx="158.3" cy="100.0" r="2.25"/><circle cx="167.6" cy="122.0" r="2.25"/><circle cx="140.0" cy="109.8" r="2.25"/><circle cx="120.8" cy="111.2" r="2.25"/><circle cx="127.9" cy="106.7" r="2.25"/><circle cx="63.9" cy="88.7" r="2.25"/><circle cx="122.6" cy="89.9" r="2.25"/><circle cx="75.6" cy="128.3" r="2.25"/><circle cx="86.8" cy="94.0" r="2.25"/><circle cx="158.7" cy="101.4" r="2.25"/><circle cx="73.1" cy="75.4" r="2.25"/><circle cx="114.8" cy="91.5" r="2.25"/><circle cx="170.2" cy="124.0" r="2.25"/><circle cx="185.3" cy="103.2" r="2.25"/><circle cx="135.9" cy="102.0" r="2.25"/><circle cx="83.4" cy="107.0" r="2.25"/><circle cx="143.7" cy="101.7" r="2.25"/><circle cx="113.0" cy="99.5" r="2.25"/><circle cx="84.0" cy="96.9" r="2.25"/><circle cx="114.2" cy="107.3" r="2.25"/><circle cx="86.1" cy="110.1" r="2.25"/><circle cx="105.2" cy="90.1" r="2.25"/><circle cx="67.3" cy="115.9" r="2.25"/><circle cx="59.9" cy="91.8" r="2.25"/><circle cx="168.3" cy="102.5" r="2.25"/><circle cx="202.1" cy="120.6" r="2.25"/><circle cx="132.8" cy="99.1" r="2.25"/><circle cx="138.2" cy="112.4" r="2.25"/><circle cx="118.3" cy="117.0" r="2.25"/><circle cx="130.6" cy="111.5" r="2.25"/><circle cx="134.9" cy="111.2" r="2.25"/><circle cx="104.4" cy="87.6" r="2.25"/><circle cx="167.2" cy="86.4" r="2.25"/><circle cx="122.7" cy="95.9" r="2.25"/><circle cx="125.9" cy="88.8" r="2.25"/><circle cx="198.0" cy="104.3" r="2.25"/><circle cx="125.6" cy="88.5" r="2.25"/><circle cx="132.0" cy="135.2" r="2.25"/><circle cx="103.9" cy="89.1" r="2.25"/><circle cx="137.5" cy="102.1" r="2.25"/><circle cx="158.7" cy="85.7" r="2.25"/><circle cx="138.9" cy="87.8" r="2.25"/><circle cx="139.1" cy="106.4" r="2.25"/><circle cx="140.0" cy="96.8" r="2.25"/><circle cx="68.7" cy="86.0" r="2.25"/><circle cx="96.3" cy="96.3" r="2.25"/><circle cx="92.3" cy="104.8" r="2.25"/><circle cx="110.6" cy="88.4" r="2.25"/><circle cx="136.4" cy="108.9" r="2.25"/><circle cx="75.5" cy="77.6" r="2.25"/><circle cx="78.9" cy="80.9" r="2.25"/><circle cx="81.6" cy="87.2" r="2.25"/><circle cx="62.1" cy="86.0" r="2.25"/><circle cx="95.3" cy="101.9" r="2.25"/><circle cx="104.3" cy="103.6" r="2.25"/><circle cx="134.3" cy="91.4" r="2.25"/><circle cx="111.1" cy="87.6" r="2.25"/><circle cx="99.6" cy="92.2" r="2.25"/><circle cx="95.1" cy="96.0" r="2.25"/><circle cx="189.6" cy="103.4" r="2.25"/><circle cx="91.5" cy="91.8" r="2.25"/><circle cx="65.4" cy="97.3" r="2.25"/><circle cx="150.3" cy="98.8" r="2.25"/><circle cx="139.8" cy="114.9" r="2.25"/><circle cx="72.9" cy="92.2" r="2.25"/><circle cx="172.2" cy="101.9" r="2.25"/><circle cx="77.3" cy="105.3" r="2.25"/><circle cx="131.2" cy="97.1" r="2.25"/><circle cx="98.1" cy="98.3" r="2.25"/><circle cx="159.4" cy="94.5" r="2.25"/><circle cx="69.7" cy="128.2" r="2.25"/><circle cx="125.1" cy="94.5" r="2.25"/><circle cx="146.0" cy="114.0" r="2.25"/><circle cx="58.4" cy="110.6" r="2.25"/><circle cx="169.3" cy="94.8" r="2.25"/><circle cx="79.9" cy="115.9" r="2.25"/><circle cx="104.1" cy="95.6" r="2.25"/><circle cx="199.8" cy="124.8" r="2.25"/><circle cx="191.8" cy="101.9" r="2.25"/><circle cx="178.6" cy="133.1" r="2.25"/><circle cx="143.5" cy="93.7" r="2.25"/><circle cx="65.1" cy="105.5" r="2.25"/><circle cx="96.3" cy="88.6" r="2.25"/><circle cx="199.1" cy="102.5" r="2.25"/><circle cx="173.1" cy="90.5" r="2.25"/><circle cx="107.2" cy="96.6" r="2.25"/><circle cx="68.1" cy="111.5" r="2.25"/><circle cx="134.0" cy="121.6" r="2.25"/><circle cx="138.5" cy="91.0" r="2.25"/><circle cx="219.8" cy="93.8" r="2.25"/><circle cx="170.8" cy="108.4" r="2.25"/><circle cx="95.9" cy="85.1" r="2.25"/><circle cx="63.0" cy="89.1" r="2.25"/><circle cx="189.6" cy="97.3" r="2.25"/><circle cx="72.8" cy="99.2" r="2.25"/><circle cx="139.3" cy="103.5" r="2.25"/><circle cx="130.6" cy="99.7" r="2.25"/><circle cx="69.4" cy="88.5" r="2.25"/><circle cx="131.7" cy="110.7" r="2.25"/><circle cx="138.0" cy="92.4" r="2.25"/><circle cx="178.8" cy="122.3" r="2.25"/><circle cx="123.4" cy="115.9" r="2.25"/><circle cx="116.9" cy="107.6" r="2.25"/><circle cx="159.8" cy="100.8" r="2.25"/><circle cx="122.8" cy="125.7" r="2.25"/><circle cx="107.5" cy="84.9" r="2.25"/><circle cx="140.0" cy="98.6" r="2.25"/><circle cx="106.5" cy="104.9" r="2.25"/><circle cx="144.1" cy="127.0" r="2.25"/><circle cx="153.5" cy="96.3" r="2.25"/><circle cx="155.0" cy="104.6" r="2.25"/><circle cx="95.8" cy="98.5" r="2.25"/><circle cx="93.6" cy="102.0" r="2.25"/><circle cx="120.8" cy="100.1" r="2.25"/><circle cx="150.4" cy="105.1" r="2.25"/><circle cx="65.6" cy="100.1" r="2.25"/><circle cx="65.7" cy="87.2" r="2.25"/><circle cx="78.3" cy="99.2" r="2.25"/><circle cx="90.6" cy="104.1" r="2.25"/><circle cx="135.2" cy="113.7" r="2.25"/><circle cx="204.9" cy="104.9" r="2.25"/><circle cx="146.6" cy="98.9" r="2.25"/><circle cx="93.4" cy="99.6" r="2.25"/><circle cx="141.0" cy="121.0" r="2.25"/><circle cx="178.2" cy="106.3" r="2.25"/><circle cx="71.5" cy="83.8" r="2.25"/><circle cx="64.5" cy="71.5" r="2.25"/><circle cx="113.5" cy="81.5" r="2.25"/><circle cx="85.6" cy="99.8" r="2.25"/><circle cx="181.9" cy="112.6" r="2.25"/><circle cx="116.5" cy="129.3" r="2.25"/><circle cx="138.3" cy="105.4" r="2.25"/><circle cx="79.5" cy="99.5" r="2.25"/><circle cx="69.3" cy="81.1" r="2.25"/><circle cx="127.8" cy="107.5" r="2.25"/><circle cx="203.3" cy="123.6" r="2.25"/><circle cx="82.5" cy="105.3" r="2.25"/><circle cx="182.3" cy="100.8" r="2.25"/><circle cx="112.4" cy="111.9" r="2.25"/><circle cx="81.6" cy="75.0" r="2.25"/><circle cx="111.3" cy="104.6" r="2.25"/><circle cx="138.9" cy="93.0" r="2.25"/><circle cx="136.4" cy="95.0" r="2.25"/><circle cx="115.3" cy="87.9" r="2.25"/><circle cx="89.5" cy="109.0" r="2.25"/><circle cx="104.9" cy="98.2" r="2.25"/><circle cx="109.3" cy="118.5" r="2.25"/><circle cx="154.0" cy="94.6" r="2.25"/><circle cx="129.2" cy="90.1" r="2.25"/><circle cx="98.7" cy="97.1" r="2.25"/><circle cx="122.6" cy="100.1" r="2.25"/><circle cx="82.7" cy="90.8" r="2.25"/><circle cx="140.2" cy="95.6" r="2.25"/><circle cx="128.8" cy="93.4" r="2.25"/><circle cx="70.9" cy="86.0" r="2.25"/><circle cx="166.4" cy="96.4" r="2.25"/><circle cx="66.6" cy="101.6" r="2.25"/><circle cx="70.5" cy="87.2" r="2.25"/><circle cx="99.6" cy="94.9" r="2.25"/><circle cx="183.1" cy="102.2" r="2.25"/><circle cx="162.9" cy="90.5" r="2.25"/><circle cx="83.5" cy="116.7" r="2.25"/><circle cx="76.0" cy="83.4" r="2.25"/><circle cx="137.4" cy="107.5" r="2.25"/><circle cx="138.4" cy="122.1" r="2.25"/><circle cx="83.2" cy="111.0" r="2.25"/><circle cx="95.3" cy="105.2" r="2.25"/><circle cx="148.1" cy="92.1" r="2.25"/><circle cx="122.1" cy="86.5" r="2.25"/><circle cx="211.8" cy="100.0" r="2.25"/><circle cx="85.0" cy="101.4" r="2.25"/><circle cx="96.8" cy="109.5" r="2.25"/><circle cx="114.3" cy="95.6" r="2.25"/><circle cx="172.5" cy="111.7" r="2.25"/><circle cx="70.1" cy="92.6" r="2.25"/><circle cx="128.1" cy="132.6" r="2.25"/><circle cx="64.0" cy="78.3" r="2.25"/><circle cx="153.8" cy="109.9" r="2.25"/><circle cx="85.6" cy="91.7" r="2.25"/><circle cx="173.9" cy="101.7" r="2.25"/><circle cx="164.0" cy="118.0" r="2.25"/><circle cx="112.3" cy="112.7" r="2.25"/><circle cx="188.2" cy="94.8" r="2.25"/><circle cx="158.6" cy="125.1" r="2.25"/><circle cx="138.6" cy="109.7" r="2.25"/><circle cx="102.7" cy="128.8" r="2.25"/><circle cx="152.3" cy="115.9" r="2.25"/><circle cx="176.9" cy="118.2" r="2.25"/><circle cx="78.5" cy="107.8" r="2.25"/><circle cx="76.0" cy="94.7" r="2.25"/><circle cx="125.0" cy="98.6" r="2.25"/><circle cx="78.8" cy="86.2" r="2.25"/><circle cx="173.0" cy="116.1" r="2.25"/><circle cx="147.9" cy="96.0" r="2.25"/><circle cx="211.9" cy="106.4" r="2.25"/><circle cx="228.2" cy="105.2" r="2.25"/><circle cx="98.8" cy="84.1" r="2.25"/><circle cx="147.8" cy="127.2" r="2.25"/><circle cx="164.1" cy="104.6" r="2.25"/><circle cx="96.2" cy="102.5" r="2.25"/><circle cx="135.1" cy="103.2" r="2.25"/><circle cx="155.4" cy="87.7" r="2.25"/><circle cx="129.7" cy="109.5" r="2.25"/><circle cx="115.5" cy="101.4" r="2.25"/><circle cx="133.7" cy="82.2" r="2.25"/><circle cx="143.8" cy="104.2" r="2.25"/><circle cx="161.5" cy="105.7" r="2.25"/><circle cx="155.5" cy="102.0" r="2.25"/><circle cx="188.1" cy="101.9" r="2.25"/><circle cx="181.9" cy="93.4" r="2.25"/><circle cx="164.4" cy="94.3" r="2.25"/><circle cx="77.2" cy="91.5" r="2.25"/><circle cx="146.6" cy="105.3" r="2.25"/><circle cx="199.7" cy="104.8" r="2.25"/><circle cx="132.1" cy="84.1" r="2.25"/><circle cx="132.5" cy="102.6" r="2.25"/><circle cx="166.4" cy="91.0" r="2.25"/><circle cx="153.2" cy="94.4" r="2.25"/><circle cx="91.5" cy="72.6" r="2.25"/><circle cx="109.7" cy="90.7" r="2.25"/><circle cx="212.4" cy="117.9" r="2.25"/><circle cx="107.4" cy="106.8" r="2.25"/><circle cx="88.5" cy="109.6" r="2.25"/><circle cx="89.2" cy="101.3" r="2.25"/><circle cx="126.6" cy="88.4" r="2.25"/><circle cx="69.5" cy="88.6" r="2.25"/><circle cx="111.4" cy="101.0" r="2.25"/><circle cx="79.2" cy="97.4" r="2.25"/><circle cx="169.5" cy="90.8" r="2.25"/><circle cx="173.4" cy="80.1" r="2.25"/><circle cx="145.6" cy="96.7" r="2.25"/><circle cx="140.5" cy="94.5" r="2.25"/><circle cx="64.5" cy="113.0" r="2.25"/><circle cx="71.0" cy="117.9" r="2.25"/><circle cx="104.3" cy="94.2" r="2.25"/><circle cx="136.6" cy="94.5" r="2.25"/><circle cx="155.0" cy="91.4" r="2.25"/><circle cx="94.1" cy="94.8" r="2.25"/><circle cx="111.2" cy="91.8" r="2.25"/><circle cx="177.3" cy="113.2" r="2.25"/><circle cx="170.2" cy="104.8" r="2.25"/><circle cx="86.5" cy="91.6" r="2.25"/><circle cx="67.1" cy="90.3" r="2.25"/><circle cx="75.9" cy="90.6" r="2.25"/><circle cx="216.2" cy="113.8" r="2.25"/><circle cx="66.6" cy="119.9" r="2.25"/><circle cx="63.3" cy="88.4" r="2.25"/><circle cx="179.7" cy="115.9" r="2.25"/><circle cx="120.2" cy="98.6" r="2.25"/><circle cx="85.5" cy="101.6" r="2.25"/><circle cx="120.9" cy="113.0" r="2.25"/><circle cx="80.2" cy="87.5" r="2.25"/><circle cx="106.1" cy="119.5" r="2.25"/><circle cx="141.5" cy="97.6" r="2.25"/><circle cx="137.2" cy="103.2" r="2.25"/><circle cx="191.1" cy="105.3" r="2.25"/><circle cx="114.0" cy="98.3" r="2.25"/><circle cx="163.0" cy="105.6" r="2.25"/><circle cx="86.4" cy="109.7" r="2.25"/><circle cx="74.4" cy="107.4" r="2.25"/><circle cx="204.3" cy="96.8" r="2.25"/><circle cx="126.9" cy="107.0" r="2.25"/><circle cx="120.5" cy="112.8" r="2.25"/><circle cx="244.0" cy="106.6" r="2.25"/><circle cx="249.0" cy="108.0" r="2.25"/><circle cx="270.0" cy="112.8" r="2.25"/><circle cx="278.5" cy="91.5" r="2.25"/></g><path d="M58.3,108.7 L65.7,109.6 L73.0,110.5 L80.4,111.4 L87.7,112.2 L95.0,113.1 L102.4,113.9 L109.7,114.7 L117.1,115.4 L124.4,116.1 L131.7,116.7 L139.1,117.4 L146.4,117.9 L153.8,118.5 L161.1,119.0 L168.4,119.6 L175.8,120.1 L183.1,120.6 L190.4,121.1 L197.8,121.6 L205.1,122.1 L212.5,122.6 L219.8,123.1 L227.1,123.6 L234.5,124.1 L241.8,124.6 L249.2,125.1 L256.5,125.6 L263.8,126.1 L271.2,126.6 L278.5,127.1 L278.5,136.5 L271.2,135.6 L263.8,134.7 L256.5,133.8 L249.2,132.9 L241.8,132.0 L234.5,131.1 L227.1,130.2 L219.8,129.3 L212.5,128.4 L205.1,127.5 L197.8,126.6 L190.4,125.7 L183.1,124.8 L175.8,123.9 L168.4,123.0 L161.1,122.2 L153.8,121.3 L146.4,120.5 L139.1,119.6 L131.7,118.9 L124.4,118.1 L117.1,117.4 L109.7,116.7 L102.4,116.1 L95.0,115.5 L87.7,115.0 L80.4,114.4 L73.0,113.9 L65.7,113.4 L58.3,112.9Z" fill="#999" fill-opacity="0.4"/><path d="M58.3,74.6 L65.7,75.8 L73.0,76.9 L80.4,78.0 L87.7,79.1 L95.0,80.2 L102.4,81.2 L109.7,82.2 L117.1,83.2 L124.4,84.2 L131.7,85.0 L139.1,85.9 L146.4,86.7 L153.8,87.5 L161.1,88.3 L168.4,89.1 L175.8,89.8 L183.1,90.6 L190.4,91.3 L197.8,92.1 L205.1,92.8 L212.5,93.6 L219.8,94.3 L227.1,95.0 L234.5,95.8 L241.8,96.5 L249.2,97.2 L256.5,98.0 L263.8,98.7 L271.2,99.4 L278.5,100.2 L278.5,109.6 L271.2,108.5 L263.8,107.3 L256.5,106.2 L249.2,105.0 L241.8,103.9 L234.5,102.7 L227.1,101.6 L219.8,100.5 L212.5,99.3 L205.1,98.2 L197.8,97.0 L190.4,95.9 L183.1,94.8 L175.8,93.6 L168.4,92.5 L161.1,91.4 L153.8,90.3 L146.4,89.2 L139.1,88.2 L131.7,87.2 L124.4,86.2 L117.1,85.2 L109.7,84.3 L102.4,83.5 L95.0,82.6 L87.7,81.8 L80.4,81.1 L73.0,80.3 L65.7,79.5 L58.3,78.8Z" fill="#999" fill-opacity="0.4"/><path d="M58.3,188.3 L65.7,188.8 L73.0,189.3 L80.4,189.9 L87.7,190.4 L95.0,190.9 L102.4,191.3 L109.7,191.8 L117.1,192.2 L124.4,192.6 L131.7,193.0 L139.1,193.3 L146.4,193.6 L153.8,193.9 L161.1,194.2 L168.4,194.5 L175.8,194.8 L183.1,195.1 L190.4,195.3 L197.8,195.6 L205.1,195.8 L212.5,196.1 L219.8,196.3 L227.1,196.6 L234.5,196.8 L241.8,197.1 L249.2,197.3 L256.5,197.6 L263.8,197.8 L271.2,198.0 L278.5,198.3 L278.5,205.7 L271.2,205.2 L263.8,204.6 L256.5,204.0 L249.2,203.5 L241.8,202.9 L234.5,202.4 L227.1,201.8 L219.8,201.3 L212.5,200.7 L205.1,200.2 L197.8,199.6 L190.4,199.1 L183.1,198.5 L175.8,198.0 L168.4,197.5 L161.1,197.0 L153.8,196.5 L146.4,196.0 L139.1,195.5 L131.7,195.0 L124.4,194.6 L117.1,194.2 L109.7,193.8 L102.4,193.5 L95.0,193.1 L87.7,192.8 L80.4,192.5 L73.0,192.3 L65.7,192.0 L58.3,191.7Z" fill="#999" fill-opacity="0.4"/><path d="M58.3,92.5 L65.7,93.3 L73.0,94.1 L80.4,94.8 L87.7,95.6 L95.0,96.3 L102.4,97.1 L109.7,97.7 L117.1,98.4 L124.4,99.0 L131.7,99.6 L139.1,100.2 L146.4,100.7 L153.8,101.2 L161.1,101.7 L168.4,102.2 L175.8,102.6 L183.1,103.1 L190.4,103.6 L197.8,104.0 L205.1,104.5 L212.5,104.9 L219.8,105.4 L227.1,105.8 L234.5,106.2 L241.8,106.7 L249.2,107.1 L256.5,107.6 L263.8,108.0 L271.2,108.4 L278.5,108.9 L278.5,117.5 L271.2,116.7 L263.8,115.9 L256.5,115.1 L249.2,114.3 L241.8,113.5 L234.5,112.6 L227.1,111.8 L219.8,111.0 L212.5,110.2 L205.1,109.4 L197.8,108.6 L190.4,107.8 L183.1,107.0 L175.8,106.2 L168.4,105.4 L161.1,104.7 L153.8,103.9 L146.4,103.1 L139.1,102.4 L131.7,101.7 L124.4,101.0 L117.1,100.4 L109.7,99.8 L102.4,99.3 L95.0,98.7 L87.7,98.2 L80.4,97.7 L73.0,97.3 L65.7,96.8 L58.3,96.3Z" fill="#999" fill-opacity="0.4"/><line x1="58.3" y1="110.8" x2="278.5" y2="131.8" stroke="#EE7366" stroke-width="1.9"/><line x1="58.3" y1="76.7" x2="278.5" y2="104.9" stroke="#1FB2B8" stroke-width="1.9"/><line x1="58.3" y1="190.0" x2="278.5" y2="202.0" stroke="#9F7FC0" stroke-width="1.9"/><line x1="58.3" y1="94.4" x2="278.5" y2="113.2" stroke="#7AAC1E" stroke-width="1.9"/><rect x="45.0" y="22.0" width="262.0" height="255.5" fill="none" stroke="#383838" stroke-width="1.1"/><line x1="45.0" y1="265.3" x2="49.0" y2="265.3" stroke="#333" stroke-width="1"/><line x1="45.0" y1="204.4" x2="49.0" y2="204.4" stroke="#333" stroke-width="1"/><line x1="45.0" y1="143.6" x2="49.0" y2="143.6" stroke="#333" stroke-width="1"/><line x1="45.0" y1="82.7" x2="49.0" y2="82.7" stroke="#333" stroke-width="1"/><line x1="57.6" y1="277.5" x2="57.6" y2="273.3" stroke="#333" stroke-width="1"/><text transform="translate(57.40,294.6) scale(0.95,1)" font-size="13.4" text-anchor="middle" fill="#111">0</text><line x1="120.1" y1="277.5" x2="120.1" y2="273.3" stroke="#333" stroke-width="1"/><text transform="translate(120.58,294.6) scale(0.95,1)" font-size="13.4" text-anchor="middle" fill="#111">25</text><line x1="182.6" y1="277.5" x2="182.6" y2="273.3" stroke="#333" stroke-width="1"/><text transform="translate(183.05,294.6) scale(0.95,1)" font-size="13.4" text-anchor="middle" fill="#111">50</text><line x1="245.0" y1="277.5" x2="245.0" y2="273.3" stroke="#333" stroke-width="1"/><text transform="translate(245.53,294.6) scale(0.95,1)" font-size="13.4" text-anchor="middle" fill="#111">75</text><text transform="translate(308.00,294.6) scale(0.95,1)" font-size="13.4" text-anchor="middle" fill="#111">100</text><text x="170.8" y="15.0" font-size="19" font-weight="bold" text-anchor="middle" fill="#000">Wet</text><text x="177.35" y="312.8" font-size="14.95" text-anchor="middle" fill="#111">Dendritic distance (km)</text><g fill="#EE7366"><circle cx="367.4" cy="110.2" r="2.25"/><circle cx="378.8" cy="109.4" r="2.25"/><circle cx="500.0" cy="153.8" r="2.25"/><circle cx="434.3" cy="136.7" r="2.25"/><circle cx="437.4" cy="128.8" r="2.25"/><circle cx="394.8" cy="114.0" r="2.25"/><circle cx="394.7" cy="130.2" r="2.25"/><circle cx="394.4" cy="146.5" r="2.25"/><circle cx="343.9" cy="106.3" r="2.25"/><circle cx="366.6" cy="116.1" r="2.25"/><circle cx="457.6" cy="149.1" r="2.25"/><circle cx="419.5" cy="121.3" r="2.25"/><circle cx="405.4" cy="138.7" r="2.25"/><circle cx="342.1" cy="105.0" r="2.25"/><circle cx="441.3" cy="134.5" r="2.25"/><circle cx="351.4" cy="111.1" r="2.25"/><circle cx="474.8" cy="149.3" r="2.25"/><circle cx="343.2" cy="111.1" r="2.25"/><circle cx="386.2" cy="116.4" r="2.25"/><circle cx="450.1" cy="141.1" r="2.25"/><circle cx="413.9" cy="113.0" r="2.25"/><circle cx="430.9" cy="103.7" r="2.25"/><circle cx="406.2" cy="116.6" r="2.25"/><circle cx="370.4" cy="106.0" r="2.25"/><circle cx="361.8" cy="101.5" r="2.25"/><circle cx="356.4" cy="115.9" r="2.25"/><circle cx="366.0" cy="115.1" r="2.25"/><circle cx="406.1" cy="105.5" r="2.25"/><circle cx="349.3" cy="108.5" r="2.25"/><circle cx="385.1" cy="124.1" r="2.25"/><circle cx="456.2" cy="144.4" r="2.25"/><circle cx="355.9" cy="120.0" r="2.25"/><circle cx="413.1" cy="126.9" r="2.25"/><circle cx="419.0" cy="139.4" r="2.25"/><circle cx="356.5" cy="120.5" r="2.25"/><circle cx="373.8" cy="103.7" r="2.25"/><circle cx="340.7" cy="111.8" r="2.25"/><circle cx="439.8" cy="125.7" r="2.25"/><circle cx="379.6" cy="130.0" r="2.25"/><circle cx="431.6" cy="131.4" r="2.25"/><circle cx="424.0" cy="116.1" r="2.25"/><circle cx="390.9" cy="132.1" r="2.25"/><circle cx="381.1" cy="101.2" r="2.25"/><circle cx="381.4" cy="119.8" r="2.25"/><circle cx="360.5" cy="119.3" r="2.25"/><circle cx="354.7" cy="110.8" r="2.25"/><circle cx="382.0" cy="101.3" r="2.25"/><circle cx="365.9" cy="126.7" r="2.25"/><circle cx="474.0" cy="140.2" r="2.25"/><circle cx="341.4" cy="94.6" r="2.25"/><circle cx="351.7" cy="107.5" r="2.25"/><circle cx="359.0" cy="107.4" r="2.25"/><circle cx="413.8" cy="138.5" r="2.25"/><circle cx="374.1" cy="107.3" r="2.25"/><circle cx="449.6" cy="119.2" r="2.25"/><circle cx="408.4" cy="125.2" r="2.25"/><circle cx="389.6" cy="114.6" r="2.25"/><circle cx="391.7" cy="107.7" r="2.25"/><circle cx="383.6" cy="110.8" r="2.25"/><circle cx="451.1" cy="136.2" r="2.25"/><circle cx="397.0" cy="114.7" r="2.25"/><circle cx="436.1" cy="114.2" r="2.25"/><circle cx="377.4" cy="93.5" r="2.25"/><circle cx="458.9" cy="138.7" r="2.25"/><circle cx="441.1" cy="108.3" r="2.25"/><circle cx="393.6" cy="121.4" r="2.25"/><circle cx="407.8" cy="139.2" r="2.25"/><circle cx="364.0" cy="122.9" r="2.25"/><circle cx="370.7" cy="115.3" r="2.25"/><circle cx="356.4" cy="116.1" r="2.25"/><circle cx="403.5" cy="123.9" r="2.25"/><circle cx="383.9" cy="120.9" r="2.25"/><circle cx="434.9" cy="110.0" r="2.25"/><circle cx="396.6" cy="123.1" r="2.25"/><circle cx="411.7" cy="114.6" r="2.25"/><circle cx="422.7" cy="115.0" r="2.25"/><circle cx="342.3" cy="109.0" r="2.25"/><circle cx="364.9" cy="111.7" r="2.25"/><circle cx="342.8" cy="102.2" r="2.25"/><circle cx="411.9" cy="118.4" r="2.25"/><circle cx="395.2" cy="119.2" r="2.25"/><circle cx="346.6" cy="92.8" r="2.25"/><circle cx="370.7" cy="102.2" r="2.25"/><circle cx="408.1" cy="123.9" r="2.25"/><circle cx="456.1" cy="155.6" r="2.25"/><circle cx="407.0" cy="130.0" r="2.25"/><circle cx="389.4" cy="115.4" r="2.25"/><circle cx="448.1" cy="153.9" r="2.25"/><circle cx="400.4" cy="130.1" r="2.25"/><circle cx="348.9" cy="113.5" r="2.25"/><circle cx="422.3" cy="113.9" r="2.25"/><circle cx="463.5" cy="116.0" r="2.25"/><circle cx="381.7" cy="122.0" r="2.25"/><circle cx="423.0" cy="125.4" r="2.25"/><circle cx="341.3" cy="96.0" r="2.25"/><circle cx="388.4" cy="130.1" r="2.25"/><circle cx="389.6" cy="105.4" r="2.25"/><circle cx="368.7" cy="112.2" r="2.25"/><circle cx="354.2" cy="90.0" r="2.25"/><circle cx="450.3" cy="139.3" r="2.25"/><circle cx="413.9" cy="118.7" r="2.25"/><circle cx="365.8" cy="109.8" r="2.25"/><circle cx="455.3" cy="126.0" r="2.25"/><circle cx="376.7" cy="114.6" r="2.25"/><circle cx="412.9" cy="134.9" r="2.25"/><circle cx="438.4" cy="125.4" r="2.25"/><circle cx="427.0" cy="141.0" r="2.25"/><circle cx="393.5" cy="136.2" r="2.25"/><circle cx="359.4" cy="108.2" r="2.25"/><circle cx="459.2" cy="143.5" r="2.25"/><circle cx="360.2" cy="112.0" r="2.25"/><circle cx="440.2" cy="114.4" r="2.25"/><circle cx="341.7" cy="92.3" r="2.25"/><circle cx="370.6" cy="131.5" r="2.25"/><circle cx="360.8" cy="96.4" r="2.25"/><circle cx="386.6" cy="118.0" r="2.25"/><circle cx="399.1" cy="115.5" r="2.25"/><circle cx="415.7" cy="126.4" r="2.25"/><circle cx="391.7" cy="114.4" r="2.25"/><circle cx="374.5" cy="114.8" r="2.25"/><circle cx="385.7" cy="96.5" r="2.25"/><circle cx="374.5" cy="124.3" r="2.25"/><circle cx="438.1" cy="123.1" r="2.25"/><circle cx="342.4" cy="89.8" r="2.25"/><circle cx="439.6" cy="119.7" r="2.25"/><circle cx="377.7" cy="112.6" r="2.25"/><circle cx="434.0" cy="110.0" r="2.25"/><circle cx="382.6" cy="106.6" r="2.25"/><circle cx="343.7" cy="111.4" r="2.25"/><circle cx="442.8" cy="127.6" r="2.25"/><circle cx="380.4" cy="112.2" r="2.25"/><circle cx="353.6" cy="100.1" r="2.25"/><circle cx="444.6" cy="143.2" r="2.25"/><circle cx="428.2" cy="121.7" r="2.25"/><circle cx="345.1" cy="94.6" r="2.25"/><circle cx="382.8" cy="120.1" r="2.25"/><circle cx="400.4" cy="113.0" r="2.25"/><circle cx="502.1" cy="127.4" r="2.25"/><circle cx="465.4" cy="124.1" r="2.25"/><circle cx="364.5" cy="102.3" r="2.25"/><circle cx="380.1" cy="126.0" r="2.25"/><circle cx="430.5" cy="137.0" r="2.25"/><circle cx="397.9" cy="101.6" r="2.25"/><circle cx="340.8" cy="99.8" r="2.25"/><circle cx="437.5" cy="128.8" r="2.25"/><circle cx="354.0" cy="119.4" r="2.25"/><circle cx="466.6" cy="137.4" r="2.25"/><circle cx="353.1" cy="103.1" r="2.25"/><circle cx="400.8" cy="116.6" r="2.25"/><circle cx="402.0" cy="121.4" r="2.25"/><circle cx="389.7" cy="131.7" r="2.25"/><circle cx="354.2" cy="108.9" r="2.25"/><circle cx="357.4" cy="117.9" r="2.25"/><circle cx="474.8" cy="142.0" r="2.25"/><circle cx="371.9" cy="110.9" r="2.25"/><circle cx="427.5" cy="129.9" r="2.25"/><circle cx="392.6" cy="117.7" r="2.25"/><circle cx="381.3" cy="124.4" r="2.25"/><circle cx="481.9" cy="133.9" r="2.25"/><circle cx="438.3" cy="135.6" r="2.25"/><circle cx="376.6" cy="119.0" r="2.25"/><circle cx="345.1" cy="107.8" r="2.25"/><circle cx="367.6" cy="114.0" r="2.25"/><circle cx="403.3" cy="111.5" r="2.25"/><circle cx="422.0" cy="131.6" r="2.25"/><circle cx="384.0" cy="98.1" r="2.25"/><circle cx="375.2" cy="119.6" r="2.25"/><circle cx="407.7" cy="117.9" r="2.25"/><circle cx="458.9" cy="125.7" r="2.25"/><circle cx="387.1" cy="109.5" r="2.25"/><circle cx="498.1" cy="140.8" r="2.25"/><circle cx="397.4" cy="118.6" r="2.25"/><circle cx="416.7" cy="121.7" r="2.25"/><circle cx="413.4" cy="119.9" r="2.25"/><circle cx="405.8" cy="111.4" r="2.25"/><circle cx="382.6" cy="103.6" r="2.25"/><circle cx="389.6" cy="131.5" r="2.25"/><circle cx="462.8" cy="109.3" r="2.25"/><circle cx="403.1" cy="112.9" r="2.25"/><circle cx="349.9" cy="97.5" r="2.25"/><circle cx="501.9" cy="135.1" r="2.25"/><circle cx="356.0" cy="104.0" r="2.25"/><circle cx="406.4" cy="141.3" r="2.25"/><circle cx="417.1" cy="110.9" r="2.25"/><circle cx="417.8" cy="118.4" r="2.25"/><circle cx="368.1" cy="126.5" r="2.25"/><circle cx="469.3" cy="142.1" r="2.25"/><circle cx="385.8" cy="134.4" r="2.25"/><circle cx="394.8" cy="113.0" r="2.25"/><circle cx="342.8" cy="99.1" r="2.25"/><circle cx="382.2" cy="119.7" r="2.25"/><circle cx="415.2" cy="139.8" r="2.25"/><circle cx="472.2" cy="145.8" r="2.25"/><circle cx="405.6" cy="118.9" r="2.25"/><circle cx="373.0" cy="114.8" r="2.25"/><circle cx="379.0" cy="117.2" r="2.25"/><circle cx="453.0" cy="150.9" r="2.25"/><circle cx="361.2" cy="127.8" r="2.25"/><circle cx="414.8" cy="108.2" r="2.25"/><circle cx="372.4" cy="112.7" r="2.25"/><circle cx="398.4" cy="119.4" r="2.25"/><circle cx="519.4" cy="149.8" r="2.25"/><circle cx="422.6" cy="136.3" r="2.25"/><circle cx="380.6" cy="123.8" r="2.25"/><circle cx="398.3" cy="108.4" r="2.25"/><circle cx="483.4" cy="155.4" r="2.25"/><circle cx="377.6" cy="100.0" r="2.25"/><circle cx="485.5" cy="151.5" r="2.25"/><circle cx="409.8" cy="117.3" r="2.25"/><circle cx="474.0" cy="124.0" r="2.25"/><circle cx="347.1" cy="103.9" r="2.25"/><circle cx="384.4" cy="108.4" r="2.25"/><circle cx="448.3" cy="141.6" r="2.25"/><circle cx="378.1" cy="124.2" r="2.25"/><circle cx="366.2" cy="114.8" r="2.25"/><circle cx="369.3" cy="110.4" r="2.25"/><circle cx="504.0" cy="136.1" r="2.25"/><circle cx="397.9" cy="110.2" r="2.25"/><circle cx="441.8" cy="129.9" r="2.25"/><circle cx="387.0" cy="110.9" r="2.25"/><circle cx="367.2" cy="109.6" r="2.25"/><circle cx="374.7" cy="101.4" r="2.25"/><circle cx="443.8" cy="116.4" r="2.25"/><circle cx="431.2" cy="122.9" r="2.25"/><circle cx="370.7" cy="127.5" r="2.25"/><circle cx="410.8" cy="121.7" r="2.25"/><circle cx="387.5" cy="112.6" r="2.25"/><circle cx="407.4" cy="113.7" r="2.25"/><circle cx="468.6" cy="127.2" r="2.25"/><circle cx="377.1" cy="107.0" r="2.25"/><circle cx="461.2" cy="138.3" r="2.25"/><circle cx="403.3" cy="105.5" r="2.25"/><circle cx="369.9" cy="109.7" r="2.25"/><circle cx="372.6" cy="127.3" r="2.25"/><circle cx="391.5" cy="112.8" r="2.25"/><circle cx="394.3" cy="131.8" r="2.25"/><circle cx="417.7" cy="134.5" r="2.25"/><circle cx="372.7" cy="111.5" r="2.25"/><circle cx="399.6" cy="122.4" r="2.25"/><circle cx="381.0" cy="118.9" r="2.25"/><circle cx="397.3" cy="125.5" r="2.25"/><circle cx="421.3" cy="140.1" r="2.25"/><circle cx="387.4" cy="126.1" r="2.25"/><circle cx="401.5" cy="114.8" r="2.25"/><circle cx="473.4" cy="136.7" r="2.25"/><circle cx="422.2" cy="113.4" r="2.25"/><circle cx="356.6" cy="105.6" r="2.25"/><circle cx="451.0" cy="128.3" r="2.25"/><circle cx="394.8" cy="118.6" r="2.25"/><circle cx="485.5" cy="139.7" r="2.25"/><circle cx="381.3" cy="92.2" r="2.25"/><circle cx="343.0" cy="98.1" r="2.25"/><circle cx="504.5" cy="137.0" r="2.25"/><circle cx="386.9" cy="131.4" r="2.25"/><circle cx="358.1" cy="92.9" r="2.25"/><circle cx="376.5" cy="117.3" r="2.25"/><circle cx="431.7" cy="122.0" r="2.25"/><circle cx="402.7" cy="98.6" r="2.25"/><circle cx="397.4" cy="106.1" r="2.25"/><circle cx="356.4" cy="111.1" r="2.25"/><circle cx="416.3" cy="136.1" r="2.25"/><circle cx="381.0" cy="117.8" r="2.25"/><circle cx="381.8" cy="99.0" r="2.25"/><circle cx="401.8" cy="127.7" r="2.25"/><circle cx="420.0" cy="121.9" r="2.25"/><circle cx="377.6" cy="120.7" r="2.25"/><circle cx="371.3" cy="119.9" r="2.25"/><circle cx="452.5" cy="134.6" r="2.25"/><circle cx="367.8" cy="105.1" r="2.25"/><circle cx="367.7" cy="110.6" r="2.25"/><circle cx="434.4" cy="120.5" r="2.25"/><circle cx="357.3" cy="108.0" r="2.25"/><circle cx="365.9" cy="104.1" r="2.25"/><circle cx="416.4" cy="136.9" r="2.25"/><circle cx="434.1" cy="150.0" r="2.25"/><circle cx="385.4" cy="116.0" r="2.25"/><circle cx="398.4" cy="102.8" r="2.25"/><circle cx="426.8" cy="127.0" r="2.25"/><circle cx="347.7" cy="109.4" r="2.25"/><circle cx="375.7" cy="117.1" r="2.25"/><circle cx="373.4" cy="131.4" r="2.25"/><circle cx="404.1" cy="126.3" r="2.25"/><circle cx="393.3" cy="104.2" r="2.25"/><circle cx="389.7" cy="117.1" r="2.25"/><circle cx="359.8" cy="107.9" r="2.25"/><circle cx="446.6" cy="135.9" r="2.25"/><circle cx="373.4" cy="117.8" r="2.25"/><circle cx="461.9" cy="123.8" r="2.25"/><circle cx="352.0" cy="107.2" r="2.25"/><circle cx="408.1" cy="111.8" r="2.25"/><circle cx="459.9" cy="126.1" r="2.25"/><circle cx="355.5" cy="104.9" r="2.25"/><circle cx="471.5" cy="135.0" r="2.25"/><circle cx="341.9" cy="109.7" r="2.25"/><circle cx="402.2" cy="108.1" r="2.25"/><circle cx="346.5" cy="104.7" r="2.25"/><circle cx="479.7" cy="139.0" r="2.25"/><circle cx="402.9" cy="121.6" r="2.25"/><circle cx="395.1" cy="112.7" r="2.25"/><circle cx="368.4" cy="118.5" r="2.25"/><circle cx="410.5" cy="119.2" r="2.25"/><circle cx="422.5" cy="123.5" r="2.25"/><circle cx="419.7" cy="141.0" r="2.25"/><circle cx="380.6" cy="135.3" r="2.25"/><circle cx="403.3" cy="117.4" r="2.25"/><circle cx="349.8" cy="119.2" r="2.25"/><circle cx="424.8" cy="129.3" r="2.25"/><circle cx="456.2" cy="133.9" r="2.25"/><circle cx="435.7" cy="130.1" r="2.25"/><circle cx="366.0" cy="96.2" r="2.25"/><circle cx="381.6" cy="120.9" r="2.25"/><circle cx="406.4" cy="118.0" r="2.25"/><circle cx="369.3" cy="101.4" r="2.25"/><circle cx="424.3" cy="141.2" r="2.25"/><circle cx="472.7" cy="153.1" r="2.25"/><circle cx="369.2" cy="121.2" r="2.25"/><circle cx="416.8" cy="136.3" r="2.25"/><circle cx="407.3" cy="131.4" r="2.25"/><circle cx="485.2" cy="131.7" r="2.25"/><circle cx="451.3" cy="110.1" r="2.25"/><circle cx="397.2" cy="132.5" r="2.25"/><circle cx="382.8" cy="122.2" r="2.25"/><circle cx="395.2" cy="127.0" r="2.25"/><circle cx="385.8" cy="102.1" r="2.25"/><circle cx="398.9" cy="126.7" r="2.25"/><circle cx="504.7" cy="135.2" r="2.25"/><circle cx="354.0" cy="100.9" r="2.25"/><circle cx="379.7" cy="126.0" r="2.25"/><circle cx="346.9" cy="95.2" r="2.25"/><circle cx="434.1" cy="118.2" r="2.25"/><circle cx="347.9" cy="104.5" r="2.25"/><circle cx="395.2" cy="105.5" r="2.25"/><circle cx="453.1" cy="136.9" r="2.25"/><circle cx="418.2" cy="130.6" r="2.25"/><circle cx="349.8" cy="112.4" r="2.25"/><circle cx="365.6" cy="127.6" r="2.25"/><circle cx="368.4" cy="111.8" r="2.25"/><circle cx="347.4" cy="111.0" r="2.25"/><circle cx="422.2" cy="139.4" r="2.25"/><circle cx="459.5" cy="139.3" r="2.25"/><circle cx="475.7" cy="144.7" r="2.25"/><circle cx="434.9" cy="135.3" r="2.25"/><circle cx="354.7" cy="112.5" r="2.25"/><circle cx="394.3" cy="135.7" r="2.25"/><circle cx="452.6" cy="135.5" r="2.25"/><circle cx="434.1" cy="108.4" r="2.25"/><circle cx="484.4" cy="143.0" r="2.25"/><circle cx="410.3" cy="133.1" r="2.25"/><circle cx="447.6" cy="139.9" r="2.25"/><circle cx="374.0" cy="116.3" r="2.25"/><circle cx="466.4" cy="137.6" r="2.25"/><circle cx="342.9" cy="90.0" r="2.25"/><circle cx="390.7" cy="122.3" r="2.25"/><circle cx="345.6" cy="105.9" r="2.25"/><circle cx="429.9" cy="120.5" r="2.25"/><circle cx="366.4" cy="112.9" r="2.25"/><circle cx="428.9" cy="125.8" r="2.25"/><circle cx="386.3" cy="121.8" r="2.25"/><circle cx="413.2" cy="115.5" r="2.25"/><circle cx="371.1" cy="120.6" r="2.25"/><circle cx="352.9" cy="112.8" r="2.25"/><circle cx="373.9" cy="130.0" r="2.25"/><circle cx="379.5" cy="127.3" r="2.25"/><circle cx="500.6" cy="133.1" r="2.25"/><circle cx="360.2" cy="102.2" r="2.25"/><circle cx="407.6" cy="133.3" r="2.25"/><circle cx="397.2" cy="110.3" r="2.25"/><circle cx="358.9" cy="132.9" r="2.25"/><circle cx="399.9" cy="120.6" r="2.25"/><circle cx="404.2" cy="138.2" r="2.25"/><circle cx="378.0" cy="122.5" r="2.25"/><circle cx="380.8" cy="115.8" r="2.25"/><circle cx="474.9" cy="140.6" r="2.25"/><circle cx="367.4" cy="111.7" r="2.25"/><circle cx="415.2" cy="134.3" r="2.25"/><circle cx="420.2" cy="124.1" r="2.25"/><circle cx="437.9" cy="124.6" r="2.25"/><circle cx="344.6" cy="97.8" r="2.25"/><circle cx="451.5" cy="148.5" r="2.25"/><circle cx="406.4" cy="112.0" r="2.25"/><circle cx="381.9" cy="119.5" r="2.25"/><circle cx="360.6" cy="116.3" r="2.25"/><circle cx="349.8" cy="110.1" r="2.25"/><circle cx="399.0" cy="96.8" r="2.25"/><circle cx="451.2" cy="132.8" r="2.25"/><circle cx="454.3" cy="121.4" r="2.25"/><circle cx="414.6" cy="137.6" r="2.25"/><circle cx="410.3" cy="125.2" r="2.25"/><circle cx="421.8" cy="118.4" r="2.25"/><circle cx="375.1" cy="131.7" r="2.25"/><circle cx="405.9" cy="128.4" r="2.25"/><circle cx="343.9" cy="112.1" r="2.25"/><circle cx="375.0" cy="125.5" r="2.25"/><circle cx="388.7" cy="123.2" r="2.25"/><circle cx="415.8" cy="134.3" r="2.25"/><circle cx="467.3" cy="129.8" r="2.25"/><circle cx="447.9" cy="151.8" r="2.25"/><circle cx="373.5" cy="97.6" r="2.25"/><circle cx="363.7" cy="117.6" r="2.25"/><circle cx="361.2" cy="115.6" r="2.25"/><circle cx="447.6" cy="129.7" r="2.25"/><circle cx="391.4" cy="105.3" r="2.25"/><circle cx="418.8" cy="129.3" r="2.25"/><circle cx="385.3" cy="121.3" r="2.25"/><circle cx="369.0" cy="126.0" r="2.25"/><circle cx="396.2" cy="105.4" r="2.25"/><circle cx="352.0" cy="102.6" r="2.25"/><circle cx="378.0" cy="100.1" r="2.25"/><circle cx="351.1" cy="111.9" r="2.25"/><circle cx="399.8" cy="133.5" r="2.25"/><circle cx="370.6" cy="123.8" r="2.25"/><circle cx="393.9" cy="120.9" r="2.25"/><circle cx="342.8" cy="121.2" r="2.25"/><circle cx="482.3" cy="115.4" r="2.25"/><circle cx="497.8" cy="131.1" r="2.25"/><circle cx="441.9" cy="139.4" r="2.25"/><circle cx="396.1" cy="116.2" r="2.25"/><circle cx="367.1" cy="105.2" r="2.25"/><circle cx="371.0" cy="111.2" r="2.25"/><circle cx="419.4" cy="108.3" r="2.25"/><circle cx="341.2" cy="100.7" r="2.25"/><circle cx="376.7" cy="122.9" r="2.25"/><circle cx="386.6" cy="129.4" r="2.25"/><circle cx="413.9" cy="131.2" r="2.25"/><circle cx="404.3" cy="127.1" r="2.25"/><circle cx="397.8" cy="126.0" r="2.25"/><circle cx="364.6" cy="92.1" r="2.25"/><circle cx="439.6" cy="105.7" r="2.25"/><circle cx="415.5" cy="131.1" r="2.25"/><circle cx="341.8" cy="113.4" r="2.25"/><circle cx="451.9" cy="140.1" r="2.25"/><circle cx="447.7" cy="126.4" r="2.25"/><circle cx="377.5" cy="104.8" r="2.25"/><circle cx="462.3" cy="151.6" r="2.25"/><circle cx="431.4" cy="121.5" r="2.25"/><circle cx="378.1" cy="130.3" r="2.25"/><circle cx="458.2" cy="127.4" r="2.25"/><circle cx="390.5" cy="98.0" r="2.25"/><circle cx="341.6" cy="94.4" r="2.25"/><circle cx="391.0" cy="109.6" r="2.25"/><circle cx="432.5" cy="116.3" r="2.25"/><circle cx="401.2" cy="114.2" r="2.25"/><circle cx="343.8" cy="103.1" r="2.25"/><circle cx="418.1" cy="117.1" r="2.25"/><circle cx="359.0" cy="104.4" r="2.25"/><circle cx="423.3" cy="136.6" r="2.25"/><circle cx="452.1" cy="123.5" r="2.25"/><circle cx="358.5" cy="89.8" r="2.25"/><circle cx="361.5" cy="117.6" r="2.25"/><circle cx="459.0" cy="120.4" r="2.25"/><circle cx="364.0" cy="103.4" r="2.25"/><circle cx="365.2" cy="114.8" r="2.25"/><circle cx="397.8" cy="114.5" r="2.25"/><circle cx="427.8" cy="134.6" r="2.25"/><circle cx="372.0" cy="115.4" r="2.25"/><circle cx="411.0" cy="129.8" r="2.25"/><circle cx="349.9" cy="111.5" r="2.25"/><circle cx="392.2" cy="112.4" r="2.25"/><circle cx="371.7" cy="117.9" r="2.25"/><circle cx="388.6" cy="116.5" r="2.25"/><circle cx="408.3" cy="127.1" r="2.25"/><circle cx="378.4" cy="102.8" r="2.25"/><circle cx="372.1" cy="113.5" r="2.25"/><circle cx="383.7" cy="122.8" r="2.25"/><circle cx="408.1" cy="123.7" r="2.25"/><circle cx="373.3" cy="117.2" r="2.25"/><circle cx="411.5" cy="108.7" r="2.25"/><circle cx="450.1" cy="115.7" r="2.25"/><circle cx="439.1" cy="124.4" r="2.25"/><circle cx="405.7" cy="119.6" r="2.25"/><circle cx="421.5" cy="146.0" r="2.25"/><circle cx="473.7" cy="119.9" r="2.25"/><circle cx="403.1" cy="122.2" r="2.25"/><circle cx="380.0" cy="125.8" r="2.25"/><circle cx="409.9" cy="131.5" r="2.25"/><circle cx="390.9" cy="117.9" r="2.25"/><circle cx="349.9" cy="106.2" r="2.25"/><circle cx="399.0" cy="142.4" r="2.25"/><circle cx="397.7" cy="117.2" r="2.25"/><circle cx="395.2" cy="97.0" r="2.25"/><circle cx="526.1" cy="146.5" r="2.25"/><circle cx="528.1" cy="156.3" r="2.25"/><circle cx="532.6" cy="147.4" r="2.25"/><circle cx="552.6" cy="147.9" r="2.25"/><circle cx="561.3" cy="143.0" r="2.25"/></g><g fill="#1FB2B8"><circle cx="367.4" cy="72.5" r="2.25"/><circle cx="378.8" cy="57.0" r="2.25"/><circle cx="500.0" cy="102.9" r="2.25"/><circle cx="434.3" cy="103.3" r="2.25"/><circle cx="437.4" cy="113.5" r="2.25"/><circle cx="394.8" cy="81.7" r="2.25"/><circle cx="394.7" cy="86.5" r="2.25"/><circle cx="394.4" cy="85.7" r="2.25"/><circle cx="343.9" cy="71.6" r="2.25"/><circle cx="366.6" cy="84.2" r="2.25"/><circle cx="457.6" cy="101.1" r="2.25"/><circle cx="419.5" cy="100.7" r="2.25"/><circle cx="405.4" cy="84.3" r="2.25"/><circle cx="342.1" cy="72.7" r="2.25"/><circle cx="441.3" cy="67.0" r="2.25"/><circle cx="351.4" cy="73.7" r="2.25"/><circle cx="474.8" cy="77.1" r="2.25"/><circle cx="343.2" cy="54.1" r="2.25"/><circle cx="386.2" cy="80.2" r="2.25"/><circle cx="450.1" cy="101.7" r="2.25"/><circle cx="413.9" cy="93.4" r="2.25"/><circle cx="430.9" cy="105.4" r="2.25"/><circle cx="406.2" cy="71.0" r="2.25"/><circle cx="370.4" cy="98.2" r="2.25"/><circle cx="361.8" cy="84.5" r="2.25"/><circle cx="356.4" cy="72.0" r="2.25"/><circle cx="366.0" cy="54.8" r="2.25"/><circle cx="406.1" cy="66.5" r="2.25"/><circle cx="349.3" cy="58.9" r="2.25"/><circle cx="385.1" cy="64.6" r="2.25"/><circle cx="456.2" cy="89.3" r="2.25"/><circle cx="355.9" cy="44.9" r="2.25"/><circle cx="413.1" cy="87.8" r="2.25"/><circle cx="419.0" cy="92.2" r="2.25"/><circle cx="356.5" cy="78.3" r="2.25"/><circle cx="373.8" cy="78.4" r="2.25"/><circle cx="340.7" cy="79.3" r="2.25"/><circle cx="439.8" cy="99.2" r="2.25"/><circle cx="379.6" cy="58.2" r="2.25"/><circle cx="431.6" cy="70.3" r="2.25"/><circle cx="424.0" cy="97.0" r="2.25"/><circle cx="390.9" cy="67.4" r="2.25"/><circle cx="381.1" cy="75.6" r="2.25"/><circle cx="381.4" cy="92.5" r="2.25"/><circle cx="360.5" cy="94.4" r="2.25"/><circle cx="354.7" cy="72.4" r="2.25"/><circle cx="382.0" cy="69.2" r="2.25"/><circle cx="365.9" cy="64.7" r="2.25"/><circle cx="474.0" cy="90.4" r="2.25"/><circle cx="341.4" cy="56.0" r="2.25"/><circle cx="351.7" cy="79.7" r="2.25"/><circle cx="359.0" cy="81.8" r="2.25"/><circle cx="413.8" cy="90.0" r="2.25"/><circle cx="374.1" cy="66.2" r="2.25"/><circle cx="449.6" cy="109.3" r="2.25"/><circle cx="408.4" cy="83.3" r="2.25"/><circle cx="389.6" cy="81.9" r="2.25"/><circle cx="391.7" cy="71.4" r="2.25"/><circle cx="383.6" cy="62.8" r="2.25"/><circle cx="451.1" cy="100.6" r="2.25"/><circle cx="397.0" cy="90.7" r="2.25"/><circle cx="436.1" cy="99.3" r="2.25"/><circle cx="377.4" cy="77.1" r="2.25"/><circle cx="458.9" cy="119.9" r="2.25"/><circle cx="441.1" cy="104.9" r="2.25"/><circle cx="393.6" cy="82.8" r="2.25"/><circle cx="407.8" cy="69.8" r="2.25"/><circle cx="364.0" cy="63.0" r="2.25"/><circle cx="370.7" cy="65.7" r="2.25"/><circle cx="356.4" cy="125.6" r="2.25"/><circle cx="403.5" cy="84.3" r="2.25"/><circle cx="383.9" cy="81.7" r="2.25"/><circle cx="434.9" cy="82.5" r="2.25"/><circle cx="396.6" cy="96.4" r="2.25"/><circle cx="411.7" cy="92.0" r="2.25"/><circle cx="422.7" cy="99.8" r="2.25"/><circle cx="342.3" cy="71.7" r="2.25"/><circle cx="364.9" cy="79.7" r="2.25"/><circle cx="342.8" cy="60.6" r="2.25"/><circle cx="411.9" cy="91.0" r="2.25"/><circle cx="395.2" cy="92.3" r="2.25"/><circle cx="346.6" cy="84.7" r="2.25"/><circle cx="370.7" cy="64.5" r="2.25"/><circle cx="408.1" cy="121.5" r="2.25"/><circle cx="456.1" cy="85.9" r="2.25"/><circle cx="407.0" cy="66.9" r="2.25"/><circle cx="389.4" cy="68.5" r="2.25"/><circle cx="448.1" cy="102.3" r="2.25"/><circle cx="400.4" cy="69.1" r="2.25"/><circle cx="348.9" cy="76.5" r="2.25"/><circle cx="422.3" cy="86.8" r="2.25"/><circle cx="463.5" cy="116.4" r="2.25"/><circle cx="381.7" cy="78.6" r="2.25"/><circle cx="423.0" cy="87.4" r="2.25"/><circle cx="341.3" cy="66.3" r="2.25"/><circle cx="388.4" cy="79.8" r="2.25"/><circle cx="389.6" cy="95.2" r="2.25"/><circle cx="368.7" cy="78.6" r="2.25"/><circle cx="354.2" cy="81.9" r="2.25"/><circle cx="450.3" cy="94.4" r="2.25"/><circle cx="413.9" cy="103.0" r="2.25"/><circle cx="365.8" cy="53.6" r="2.25"/><circle cx="455.3" cy="62.0" r="2.25"/><circle cx="376.7" cy="97.7" r="2.25"/><circle cx="412.9" cy="85.6" r="2.25"/><circle cx="438.4" cy="96.8" r="2.25"/><circle cx="427.0" cy="81.0" r="2.25"/><circle cx="393.5" cy="63.8" r="2.25"/><circle cx="359.4" cy="80.7" r="2.25"/><circle cx="459.2" cy="81.4" r="2.25"/><circle cx="360.2" cy="75.8" r="2.25"/><circle cx="440.2" cy="99.7" r="2.25"/><circle cx="341.7" cy="68.1" r="2.25"/><circle cx="370.6" cy="49.1" r="2.25"/><circle cx="360.8" cy="58.6" r="2.25"/><circle cx="386.6" cy="68.7" r="2.25"/><circle cx="399.1" cy="65.7" r="2.25"/><circle cx="415.7" cy="55.1" r="2.25"/><circle cx="391.7" cy="61.9" r="2.25"/><circle cx="374.5" cy="82.5" r="2.25"/><circle cx="385.7" cy="75.5" r="2.25"/><circle cx="374.5" cy="95.9" r="2.25"/><circle cx="438.1" cy="95.2" r="2.25"/><circle cx="342.4" cy="55.9" r="2.25"/><circle cx="439.6" cy="89.0" r="2.25"/><circle cx="377.7" cy="55.9" r="2.25"/><circle cx="434.0" cy="100.7" r="2.25"/><circle cx="382.6" cy="65.8" r="2.25"/><circle cx="343.7" cy="80.6" r="2.25"/><circle cx="442.8" cy="103.9" r="2.25"/><circle cx="380.4" cy="86.4" r="2.25"/><circle cx="353.6" cy="58.0" r="2.25"/><circle cx="444.6" cy="69.9" r="2.25"/><circle cx="428.2" cy="86.6" r="2.25"/><circle cx="345.1" cy="78.7" r="2.25"/><circle cx="382.8" cy="89.1" r="2.25"/><circle cx="400.4" cy="101.1" r="2.25"/><circle cx="502.1" cy="106.4" r="2.25"/><circle cx="465.4" cy="95.6" r="2.25"/><circle cx="364.5" cy="66.2" r="2.25"/><circle cx="380.1" cy="98.0" r="2.25"/><circle cx="430.5" cy="88.8" r="2.25"/><circle cx="397.9" cy="76.2" r="2.25"/><circle cx="340.8" cy="51.4" r="2.25"/><circle cx="437.5" cy="89.6" r="2.25"/><circle cx="354.0" cy="44.6" r="2.25"/><circle cx="466.6" cy="100.4" r="2.25"/><circle cx="353.1" cy="63.5" r="2.25"/><circle cx="400.8" cy="65.7" r="2.25"/><circle cx="402.0" cy="90.8" r="2.25"/><circle cx="389.7" cy="80.6" r="2.25"/><circle cx="354.2" cy="58.5" r="2.25"/><circle cx="357.4" cy="90.5" r="2.25"/><circle cx="474.8" cy="111.6" r="2.25"/><circle cx="371.9" cy="72.2" r="2.25"/><circle cx="427.5" cy="102.4" r="2.25"/><circle cx="392.6" cy="56.4" r="2.25"/><circle cx="381.3" cy="75.4" r="2.25"/><circle cx="481.9" cy="115.5" r="2.25"/><circle cx="438.3" cy="90.1" r="2.25"/><circle cx="376.6" cy="79.3" r="2.25"/><circle cx="345.1" cy="54.4" r="2.25"/><circle cx="367.6" cy="66.1" r="2.25"/><circle cx="403.3" cy="80.1" r="2.25"/><circle cx="422.0" cy="102.6" r="2.25"/><circle cx="384.0" cy="79.4" r="2.25"/><circle cx="375.2" cy="83.4" r="2.25"/><circle cx="407.7" cy="62.3" r="2.25"/><circle cx="458.9" cy="99.4" r="2.25"/><circle cx="387.1" cy="82.9" r="2.25"/><circle cx="498.1" cy="102.2" r="2.25"/><circle cx="397.4" cy="75.9" r="2.25"/><circle cx="416.7" cy="85.7" r="2.25"/><circle cx="413.4" cy="80.6" r="2.25"/><circle cx="405.8" cy="72.8" r="2.25"/><circle cx="382.6" cy="84.1" r="2.25"/><circle cx="389.6" cy="76.8" r="2.25"/><circle cx="462.8" cy="71.5" r="2.25"/><circle cx="403.1" cy="59.5" r="2.25"/><circle cx="349.9" cy="59.9" r="2.25"/><circle cx="501.9" cy="115.7" r="2.25"/><circle cx="356.0" cy="69.8" r="2.25"/><circle cx="406.4" cy="63.6" r="2.25"/><circle cx="417.1" cy="83.0" r="2.25"/><circle cx="417.8" cy="74.7" r="2.25"/><circle cx="368.1" cy="60.4" r="2.25"/><circle cx="469.3" cy="126.3" r="2.25"/><circle cx="385.8" cy="71.7" r="2.25"/><circle cx="394.8" cy="65.5" r="2.25"/><circle cx="342.8" cy="61.1" r="2.25"/><circle cx="382.2" cy="70.6" r="2.25"/><circle cx="415.2" cy="88.4" r="2.25"/><circle cx="472.2" cy="86.4" r="2.25"/><circle cx="405.6" cy="68.2" r="2.25"/><circle cx="373.0" cy="54.0" r="2.25"/><circle cx="379.0" cy="69.3" r="2.25"/><circle cx="453.0" cy="98.5" r="2.25"/><circle cx="361.2" cy="69.0" r="2.25"/><circle cx="414.8" cy="102.3" r="2.25"/><circle cx="372.4" cy="59.9" r="2.25"/><circle cx="398.4" cy="103.9" r="2.25"/><circle cx="519.4" cy="95.2" r="2.25"/><circle cx="422.6" cy="105.0" r="2.25"/><circle cx="380.6" cy="93.0" r="2.25"/><circle cx="398.3" cy="78.3" r="2.25"/><circle cx="483.4" cy="109.3" r="2.25"/><circle cx="377.6" cy="67.5" r="2.25"/><circle cx="485.5" cy="88.0" r="2.25"/><circle cx="409.8" cy="105.7" r="2.25"/><circle cx="474.0" cy="93.7" r="2.25"/><circle cx="347.1" cy="43.5" r="2.25"/><circle cx="384.4" cy="83.5" r="2.25"/><circle cx="448.3" cy="121.4" r="2.25"/><circle cx="378.1" cy="77.5" r="2.25"/><circle cx="366.2" cy="58.6" r="2.25"/><circle cx="369.3" cy="90.7" r="2.25"/><circle cx="504.0" cy="117.7" r="2.25"/><circle cx="397.9" cy="83.3" r="2.25"/><circle cx="441.8" cy="84.2" r="2.25"/><circle cx="387.0" cy="84.9" r="2.25"/><circle cx="367.2" cy="92.2" r="2.25"/><circle cx="374.7" cy="107.4" r="2.25"/><circle cx="443.8" cy="79.8" r="2.25"/><circle cx="431.2" cy="107.0" r="2.25"/><circle cx="370.7" cy="58.0" r="2.25"/><circle cx="410.8" cy="84.2" r="2.25"/><circle cx="387.5" cy="66.5" r="2.25"/><circle cx="407.4" cy="77.3" r="2.25"/><circle cx="468.6" cy="91.6" r="2.25"/><circle cx="377.1" cy="65.9" r="2.25"/><circle cx="461.2" cy="99.4" r="2.25"/><circle cx="403.3" cy="70.9" r="2.25"/><circle cx="369.9" cy="62.2" r="2.25"/><circle cx="372.6" cy="75.3" r="2.25"/><circle cx="391.5" cy="54.6" r="2.25"/><circle cx="394.3" cy="68.9" r="2.25"/><circle cx="417.7" cy="71.1" r="2.25"/><circle cx="372.7" cy="74.8" r="2.25"/><circle cx="399.6" cy="82.7" r="2.25"/><circle cx="381.0" cy="83.3" r="2.25"/><circle cx="397.3" cy="74.0" r="2.25"/><circle cx="421.3" cy="82.0" r="2.25"/><circle cx="387.4" cy="79.3" r="2.25"/><circle cx="401.5" cy="89.9" r="2.25"/><circle cx="473.4" cy="122.5" r="2.25"/><circle cx="422.2" cy="96.0" r="2.25"/><circle cx="356.6" cy="90.6" r="2.25"/><circle cx="451.0" cy="104.9" r="2.25"/><circle cx="394.8" cy="92.7" r="2.25"/><circle cx="485.5" cy="100.6" r="2.25"/><circle cx="381.3" cy="51.9" r="2.25"/><circle cx="343.0" cy="79.9" r="2.25"/><circle cx="504.5" cy="89.6" r="2.25"/><circle cx="386.9" cy="92.4" r="2.25"/><circle cx="358.1" cy="61.9" r="2.25"/><circle cx="376.5" cy="97.7" r="2.25"/><circle cx="431.7" cy="77.5" r="2.25"/><circle cx="402.7" cy="70.0" r="2.25"/><circle cx="397.4" cy="79.6" r="2.25"/><circle cx="356.4" cy="59.3" r="2.25"/><circle cx="416.3" cy="71.2" r="2.25"/><circle cx="381.0" cy="70.6" r="2.25"/><circle cx="381.8" cy="80.6" r="2.25"/><circle cx="401.8" cy="68.9" r="2.25"/><circle cx="420.0" cy="79.3" r="2.25"/><circle cx="377.6" cy="56.2" r="2.25"/><circle cx="371.3" cy="78.0" r="2.25"/><circle cx="452.5" cy="95.6" r="2.25"/><circle cx="367.8" cy="81.2" r="2.25"/><circle cx="367.7" cy="56.9" r="2.25"/><circle cx="434.4" cy="108.7" r="2.25"/><circle cx="357.3" cy="61.2" r="2.25"/><circle cx="365.9" cy="67.5" r="2.25"/><circle cx="416.4" cy="73.6" r="2.25"/><circle cx="434.1" cy="96.5" r="2.25"/><circle cx="385.4" cy="60.7" r="2.25"/><circle cx="398.4" cy="90.7" r="2.25"/><circle cx="426.8" cy="66.5" r="2.25"/><circle cx="347.7" cy="54.2" r="2.25"/><circle cx="375.7" cy="78.1" r="2.25"/><circle cx="373.4" cy="60.8" r="2.25"/><circle cx="404.1" cy="73.6" r="2.25"/><circle cx="393.3" cy="59.6" r="2.25"/><circle cx="389.7" cy="85.7" r="2.25"/><circle cx="359.8" cy="70.3" r="2.25"/><circle cx="446.6" cy="110.0" r="2.25"/><circle cx="373.4" cy="59.0" r="2.25"/><circle cx="461.9" cy="114.2" r="2.25"/><circle cx="352.0" cy="50.4" r="2.25"/><circle cx="408.1" cy="80.6" r="2.25"/><circle cx="459.9" cy="120.4" r="2.25"/><circle cx="355.5" cy="72.5" r="2.25"/><circle cx="471.5" cy="82.7" r="2.25"/><circle cx="341.9" cy="51.6" r="2.25"/><circle cx="402.2" cy="81.2" r="2.25"/><circle cx="346.5" cy="75.7" r="2.25"/><circle cx="479.7" cy="113.1" r="2.25"/><circle cx="402.9" cy="60.6" r="2.25"/><circle cx="395.1" cy="80.1" r="2.25"/><circle cx="368.4" cy="80.3" r="2.25"/><circle cx="410.5" cy="61.9" r="2.25"/><circle cx="422.5" cy="101.2" r="2.25"/><circle cx="419.7" cy="86.1" r="2.25"/><circle cx="380.6" cy="94.8" r="2.25"/><circle cx="403.3" cy="91.0" r="2.25"/><circle cx="349.8" cy="69.0" r="2.25"/><circle cx="424.8" cy="82.4" r="2.25"/><circle cx="456.2" cy="75.6" r="2.25"/><circle cx="435.7" cy="92.9" r="2.25"/><circle cx="366.0" cy="59.2" r="2.25"/><circle cx="381.6" cy="56.0" r="2.25"/><circle cx="406.4" cy="79.3" r="2.25"/><circle cx="369.3" cy="66.9" r="2.25"/><circle cx="424.3" cy="92.1" r="2.25"/><circle cx="472.7" cy="105.2" r="2.25"/><circle cx="369.2" cy="66.7" r="2.25"/><circle cx="416.8" cy="81.6" r="2.25"/><circle cx="407.3" cy="74.8" r="2.25"/><circle cx="485.2" cy="109.5" r="2.25"/><circle cx="451.3" cy="113.5" r="2.25"/><circle cx="397.2" cy="89.6" r="2.25"/><circle cx="382.8" cy="84.1" r="2.25"/><circle cx="395.2" cy="70.2" r="2.25"/><circle cx="385.8" cy="84.8" r="2.25"/><circle cx="398.9" cy="91.0" r="2.25"/><circle cx="504.7" cy="99.3" r="2.25"/><circle cx="354.0" cy="54.8" r="2.25"/><circle cx="379.7" cy="52.3" r="2.25"/><circle cx="346.9" cy="69.6" r="2.25"/><circle cx="434.1" cy="128.8" r="2.25"/><circle cx="347.9" cy="80.4" r="2.25"/><circle cx="395.2" cy="93.6" r="2.25"/><circle cx="453.1" cy="103.1" r="2.25"/><circle cx="418.2" cy="73.0" r="2.25"/><circle cx="349.8" cy="48.3" r="2.25"/><circle cx="365.6" cy="56.6" r="2.25"/><circle cx="368.4" cy="74.3" r="2.25"/><circle cx="347.4" cy="67.7" r="2.25"/><circle cx="422.2" cy="72.5" r="2.25"/><circle cx="459.5" cy="108.8" r="2.25"/><circle cx="475.7" cy="98.3" r="2.25"/><circle cx="434.9" cy="106.9" r="2.25"/><circle cx="354.7" cy="49.5" r="2.25"/><circle cx="394.3" cy="75.8" r="2.25"/><circle cx="452.6" cy="103.4" r="2.25"/><circle cx="434.1" cy="85.6" r="2.25"/><circle cx="484.4" cy="120.6" r="2.25"/><circle cx="410.3" cy="73.8" r="2.25"/><circle cx="447.6" cy="81.0" r="2.25"/><circle cx="374.0" cy="68.5" r="2.25"/><circle cx="466.4" cy="93.5" r="2.25"/><circle cx="342.9" cy="75.5" r="2.25"/><circle cx="390.7" cy="51.1" r="2.25"/><circle cx="345.6" cy="64.5" r="2.25"/><circle cx="429.9" cy="100.5" r="2.25"/><circle cx="366.4" cy="83.1" r="2.25"/><circle cx="428.9" cy="97.2" r="2.25"/><circle cx="386.3" cy="63.1" r="2.25"/><circle cx="413.2" cy="71.8" r="2.25"/><circle cx="371.1" cy="63.1" r="2.25"/><circle cx="352.9" cy="83.0" r="2.25"/><circle cx="373.9" cy="88.2" r="2.25"/><circle cx="379.5" cy="78.6" r="2.25"/><circle cx="500.6" cy="127.5" r="2.25"/><circle cx="360.2" cy="75.0" r="2.25"/><circle cx="407.6" cy="95.1" r="2.25"/><circle cx="397.2" cy="110.0" r="2.25"/><circle cx="358.9" cy="84.3" r="2.25"/><circle cx="399.9" cy="56.4" r="2.25"/><circle cx="404.2" cy="69.6" r="2.25"/><circle cx="378.0" cy="89.1" r="2.25"/><circle cx="380.8" cy="93.4" r="2.25"/><circle cx="474.9" cy="96.9" r="2.25"/><circle cx="367.4" cy="68.1" r="2.25"/><circle cx="415.2" cy="107.8" r="2.25"/><circle cx="420.2" cy="92.4" r="2.25"/><circle cx="437.9" cy="76.2" r="2.25"/><circle cx="344.6" cy="83.1" r="2.25"/><circle cx="451.5" cy="80.2" r="2.25"/><circle cx="406.4" cy="79.7" r="2.25"/><circle cx="381.9" cy="77.7" r="2.25"/><circle cx="360.6" cy="79.8" r="2.25"/><circle cx="349.8" cy="102.5" r="2.25"/><circle cx="399.0" cy="91.1" r="2.25"/><circle cx="451.2" cy="89.9" r="2.25"/><circle cx="454.3" cy="88.7" r="2.25"/><circle cx="414.6" cy="77.9" r="2.25"/><circle cx="410.3" cy="80.9" r="2.25"/><circle cx="421.8" cy="104.6" r="2.25"/><circle cx="375.1" cy="59.2" r="2.25"/><circle cx="405.9" cy="72.1" r="2.25"/><circle cx="343.9" cy="58.9" r="2.25"/><circle cx="375.0" cy="68.9" r="2.25"/><circle cx="388.7" cy="80.3" r="2.25"/><circle cx="415.8" cy="81.9" r="2.25"/><circle cx="467.3" cy="107.8" r="2.25"/><circle cx="447.9" cy="94.7" r="2.25"/><circle cx="373.5" cy="59.7" r="2.25"/><circle cx="363.7" cy="81.2" r="2.25"/><circle cx="361.2" cy="61.9" r="2.25"/><circle cx="447.6" cy="105.1" r="2.25"/><circle cx="391.4" cy="89.0" r="2.25"/><circle cx="418.8" cy="82.9" r="2.25"/><circle cx="385.3" cy="58.7" r="2.25"/><circle cx="369.0" cy="85.0" r="2.25"/><circle cx="396.2" cy="79.4" r="2.25"/><circle cx="352.0" cy="77.4" r="2.25"/><circle cx="378.0" cy="67.4" r="2.25"/><circle cx="351.1" cy="58.7" r="2.25"/><circle cx="399.8" cy="80.0" r="2.25"/><circle cx="370.6" cy="67.2" r="2.25"/><circle cx="393.9" cy="77.1" r="2.25"/><circle cx="342.8" cy="64.1" r="2.25"/><circle cx="482.3" cy="96.0" r="2.25"/><circle cx="497.8" cy="91.0" r="2.25"/><circle cx="441.9" cy="71.9" r="2.25"/><circle cx="396.1" cy="93.5" r="2.25"/><circle cx="367.1" cy="89.3" r="2.25"/><circle cx="371.0" cy="56.7" r="2.25"/><circle cx="419.4" cy="91.4" r="2.25"/><circle cx="341.2" cy="48.1" r="2.25"/><circle cx="376.7" cy="85.8" r="2.25"/><circle cx="386.6" cy="90.6" r="2.25"/><circle cx="413.9" cy="89.2" r="2.25"/><circle cx="404.3" cy="55.9" r="2.25"/><circle cx="397.8" cy="56.1" r="2.25"/><circle cx="364.6" cy="85.0" r="2.25"/><circle cx="439.6" cy="84.1" r="2.25"/><circle cx="415.5" cy="85.6" r="2.25"/><circle cx="341.8" cy="68.1" r="2.25"/><circle cx="451.9" cy="99.2" r="2.25"/><circle cx="447.7" cy="84.8" r="2.25"/><circle cx="377.5" cy="74.1" r="2.25"/><circle cx="462.3" cy="109.4" r="2.25"/><circle cx="431.4" cy="89.8" r="2.25"/><circle cx="378.1" cy="110.0" r="2.25"/><circle cx="458.2" cy="101.0" r="2.25"/><circle cx="390.5" cy="57.5" r="2.25"/><circle cx="341.6" cy="67.9" r="2.25"/><circle cx="391.0" cy="94.1" r="2.25"/><circle cx="432.5" cy="67.0" r="2.25"/><circle cx="401.2" cy="74.2" r="2.25"/><circle cx="343.8" cy="50.9" r="2.25"/><circle cx="418.1" cy="93.6" r="2.25"/><circle cx="359.0" cy="82.0" r="2.25"/><circle cx="423.3" cy="89.3" r="2.25"/><circle cx="452.1" cy="106.9" r="2.25"/><circle cx="358.5" cy="57.6" r="2.25"/><circle cx="361.5" cy="58.0" r="2.25"/><circle cx="459.0" cy="112.1" r="2.25"/><circle cx="364.0" cy="73.8" r="2.25"/><circle cx="365.2" cy="63.6" r="2.25"/><circle cx="397.8" cy="84.6" r="2.25"/><circle cx="427.8" cy="109.8" r="2.25"/><circle cx="372.0" cy="85.4" r="2.25"/><circle cx="411.0" cy="80.5" r="2.25"/><circle cx="349.9" cy="63.7" r="2.25"/><circle cx="392.2" cy="76.0" r="2.25"/><circle cx="371.7" cy="68.0" r="2.25"/><circle cx="388.6" cy="80.9" r="2.25"/><circle cx="408.3" cy="77.4" r="2.25"/><circle cx="378.4" cy="70.8" r="2.25"/><circle cx="372.1" cy="70.4" r="2.25"/><circle cx="383.7" cy="85.3" r="2.25"/><circle cx="408.1" cy="81.6" r="2.25"/><circle cx="373.3" cy="66.7" r="2.25"/><circle cx="411.5" cy="70.1" r="2.25"/><circle cx="450.1" cy="62.8" r="2.25"/><circle cx="439.1" cy="99.0" r="2.25"/><circle cx="405.7" cy="116.8" r="2.25"/><circle cx="421.5" cy="103.1" r="2.25"/><circle cx="473.7" cy="90.6" r="2.25"/><circle cx="403.1" cy="83.4" r="2.25"/><circle cx="380.0" cy="77.9" r="2.25"/><circle cx="409.9" cy="103.5" r="2.25"/><circle cx="390.9" cy="56.3" r="2.25"/><circle cx="349.9" cy="79.7" r="2.25"/><circle cx="399.0" cy="82.3" r="2.25"/><circle cx="397.7" cy="71.5" r="2.25"/><circle cx="395.2" cy="90.9" r="2.25"/><circle cx="526.1" cy="111.2" r="2.25"/><circle cx="528.1" cy="120.0" r="2.25"/><circle cx="532.6" cy="109.9" r="2.25"/><circle cx="552.6" cy="109.9" r="2.25"/><circle cx="561.3" cy="104.6" r="2.25"/><circle cx="471.4" cy="65.1" r="2.25"/><circle cx="488.5" cy="70.1" r="2.25"/><circle cx="487.5" cy="64.7" r="2.25"/><circle cx="489.3" cy="66.7" r="2.25"/><circle cx="469.6" cy="65.1" r="2.25"/><circle cx="468.7" cy="74.7" r="2.25"/><circle cx="493.4" cy="62.7" r="2.25"/><circle cx="475.9" cy="71.4" r="2.25"/><circle cx="473.0" cy="59.6" r="2.25"/><circle cx="472.5" cy="62.9" r="2.25"/><circle cx="503.6" cy="91.6" r="2.25"/><circle cx="499.4" cy="91.5" r="2.25"/><circle cx="502.9" cy="90.8" r="2.25"/><circle cx="505.5" cy="81.9" r="2.25"/></g><g fill="#9F7FC0"><circle cx="367.4" cy="189.1" r="2.25"/><circle cx="378.8" cy="194.7" r="2.25"/><circle cx="500.0" cy="215.8" r="2.25"/><circle cx="434.3" cy="202.9" r="2.25"/><circle cx="437.4" cy="205.9" r="2.25"/><circle cx="394.8" cy="211.0" r="2.25"/><circle cx="394.7" cy="209.9" r="2.25"/><circle cx="394.4" cy="208.2" r="2.25"/><circle cx="343.9" cy="202.1" r="2.25"/><circle cx="366.6" cy="183.1" r="2.25"/><circle cx="457.6" cy="214.5" r="2.25"/><circle cx="419.5" cy="197.8" r="2.25"/><circle cx="405.4" cy="197.3" r="2.25"/><circle cx="342.1" cy="189.9" r="2.25"/><circle cx="441.3" cy="205.5" r="2.25"/><circle cx="351.4" cy="214.5" r="2.25"/><circle cx="474.8" cy="211.5" r="2.25"/><circle cx="343.2" cy="177.1" r="2.25"/><circle cx="386.2" cy="192.7" r="2.25"/><circle cx="450.1" cy="217.4" r="2.25"/><circle cx="413.9" cy="174.2" r="2.25"/><circle cx="430.9" cy="216.3" r="2.25"/><circle cx="406.2" cy="193.5" r="2.25"/><circle cx="370.4" cy="213.0" r="2.25"/><circle cx="361.8" cy="207.3" r="2.25"/><circle cx="356.4" cy="193.6" r="2.25"/><circle cx="366.0" cy="208.1" r="2.25"/><circle cx="406.1" cy="210.4" r="2.25"/><circle cx="349.3" cy="188.7" r="2.25"/><circle cx="385.1" cy="221.2" r="2.25"/><circle cx="456.2" cy="216.4" r="2.25"/><circle cx="355.9" cy="180.9" r="2.25"/><circle cx="413.1" cy="215.6" r="2.25"/><circle cx="419.0" cy="175.6" r="2.25"/><circle cx="356.5" cy="210.8" r="2.25"/><circle cx="373.8" cy="190.6" r="2.25"/><circle cx="340.7" cy="199.3" r="2.25"/><circle cx="439.8" cy="205.7" r="2.25"/><circle cx="379.6" cy="196.7" r="2.25"/><circle cx="431.6" cy="186.5" r="2.25"/><circle cx="424.0" cy="182.9" r="2.25"/><circle cx="390.9" cy="196.5" r="2.25"/><circle cx="381.1" cy="202.7" r="2.25"/><circle cx="381.4" cy="199.5" r="2.25"/><circle cx="360.5" cy="185.3" r="2.25"/><circle cx="354.7" cy="196.6" r="2.25"/><circle cx="382.0" cy="200.4" r="2.25"/><circle cx="365.9" cy="198.7" r="2.25"/><circle cx="474.0" cy="211.5" r="2.25"/><circle cx="341.4" cy="196.3" r="2.25"/><circle cx="351.7" cy="181.3" r="2.25"/><circle cx="359.0" cy="186.7" r="2.25"/><circle cx="413.8" cy="212.9" r="2.25"/><circle cx="374.1" cy="210.2" r="2.25"/><circle cx="449.6" cy="210.2" r="2.25"/><circle cx="408.4" cy="200.9" r="2.25"/><circle cx="389.6" cy="202.0" r="2.25"/><circle cx="391.7" cy="213.1" r="2.25"/><circle cx="383.6" cy="194.6" r="2.25"/><circle cx="451.1" cy="207.8" r="2.25"/><circle cx="397.0" cy="195.1" r="2.25"/><circle cx="436.1" cy="223.2" r="2.25"/><circle cx="377.4" cy="181.0" r="2.25"/><circle cx="458.9" cy="212.8" r="2.25"/><circle cx="441.1" cy="213.4" r="2.25"/><circle cx="393.6" cy="188.8" r="2.25"/><circle cx="407.8" cy="204.4" r="2.25"/><circle cx="364.0" cy="214.3" r="2.25"/><circle cx="370.7" cy="183.4" r="2.25"/><circle cx="356.4" cy="190.0" r="2.25"/><circle cx="403.5" cy="196.1" r="2.25"/><circle cx="383.9" cy="201.6" r="2.25"/><circle cx="434.9" cy="209.5" r="2.25"/><circle cx="396.6" cy="190.2" r="2.25"/><circle cx="411.7" cy="210.9" r="2.25"/><circle cx="422.7" cy="205.4" r="2.25"/><circle cx="342.3" cy="211.2" r="2.25"/><circle cx="364.9" cy="203.8" r="2.25"/><circle cx="342.8" cy="207.0" r="2.25"/><circle cx="411.9" cy="188.6" r="2.25"/><circle cx="395.2" cy="201.7" r="2.25"/><circle cx="346.6" cy="185.8" r="2.25"/><circle cx="370.7" cy="201.4" r="2.25"/><circle cx="408.1" cy="206.0" r="2.25"/><circle cx="456.1" cy="199.1" r="2.25"/><circle cx="407.0" cy="196.7" r="2.25"/><circle cx="389.4" cy="206.7" r="2.25"/><circle cx="448.1" cy="222.1" r="2.25"/><circle cx="400.4" cy="194.6" r="2.25"/><circle cx="348.9" cy="202.8" r="2.25"/><circle cx="422.3" cy="195.4" r="2.25"/><circle cx="463.5" cy="213.4" r="2.25"/><circle cx="381.7" cy="206.3" r="2.25"/><circle cx="423.0" cy="196.8" r="2.25"/><circle cx="341.3" cy="202.6" r="2.25"/><circle cx="388.4" cy="202.9" r="2.25"/><circle cx="389.6" cy="217.6" r="2.25"/><circle cx="368.7" cy="197.4" r="2.25"/><circle cx="354.2" cy="190.7" r="2.25"/><circle cx="450.3" cy="209.3" r="2.25"/><circle cx="413.9" cy="195.1" r="2.25"/><circle cx="365.8" cy="196.2" r="2.25"/><circle cx="455.3" cy="220.7" r="2.25"/><circle cx="376.7" cy="202.5" r="2.25"/><circle cx="412.9" cy="212.9" r="2.25"/><circle cx="438.4" cy="209.3" r="2.25"/><circle cx="427.0" cy="208.2" r="2.25"/><circle cx="393.5" cy="203.4" r="2.25"/><circle cx="359.4" cy="210.2" r="2.25"/><circle cx="459.2" cy="209.6" r="2.25"/><circle cx="360.2" cy="206.5" r="2.25"/><circle cx="440.2" cy="216.0" r="2.25"/><circle cx="341.7" cy="194.5" r="2.25"/><circle cx="370.6" cy="181.9" r="2.25"/><circle cx="360.8" cy="205.6" r="2.25"/><circle cx="386.6" cy="208.7" r="2.25"/><circle cx="399.1" cy="206.8" r="2.25"/><circle cx="415.7" cy="207.9" r="2.25"/><circle cx="391.7" cy="210.6" r="2.25"/><circle cx="374.5" cy="213.8" r="2.25"/><circle cx="385.7" cy="190.8" r="2.25"/><circle cx="374.5" cy="216.1" r="2.25"/><circle cx="438.1" cy="222.2" r="2.25"/><circle cx="342.4" cy="203.0" r="2.25"/><circle cx="439.6" cy="198.4" r="2.25"/><circle cx="377.7" cy="208.2" r="2.25"/><circle cx="434.0" cy="205.0" r="2.25"/><circle cx="382.6" cy="202.7" r="2.25"/><circle cx="343.7" cy="193.8" r="2.25"/><circle cx="442.8" cy="197.8" r="2.25"/><circle cx="380.4" cy="208.0" r="2.25"/><circle cx="353.6" cy="207.9" r="2.25"/><circle cx="444.6" cy="211.4" r="2.25"/><circle cx="428.2" cy="197.1" r="2.25"/><circle cx="345.1" cy="202.6" r="2.25"/><circle cx="382.8" cy="215.7" r="2.25"/><circle cx="400.4" cy="198.4" r="2.25"/><circle cx="502.1" cy="204.9" r="2.25"/><circle cx="465.4" cy="206.1" r="2.25"/><circle cx="364.5" cy="185.7" r="2.25"/><circle cx="380.1" cy="203.0" r="2.25"/><circle cx="430.5" cy="212.4" r="2.25"/><circle cx="397.9" cy="206.7" r="2.25"/><circle cx="340.8" cy="186.7" r="2.25"/><circle cx="437.5" cy="202.6" r="2.25"/><circle cx="354.0" cy="184.9" r="2.25"/><circle cx="466.6" cy="207.2" r="2.25"/><circle cx="353.1" cy="197.9" r="2.25"/><circle cx="400.8" cy="217.1" r="2.25"/><circle cx="402.0" cy="212.3" r="2.25"/><circle cx="389.7" cy="200.9" r="2.25"/><circle cx="354.2" cy="182.5" r="2.25"/><circle cx="357.4" cy="206.1" r="2.25"/><circle cx="474.8" cy="216.7" r="2.25"/><circle cx="371.9" cy="183.3" r="2.25"/><circle cx="427.5" cy="207.6" r="2.25"/><circle cx="392.6" cy="213.0" r="2.25"/><circle cx="381.3" cy="174.2" r="2.25"/><circle cx="481.9" cy="220.9" r="2.25"/><circle cx="438.3" cy="220.4" r="2.25"/><circle cx="376.6" cy="211.2" r="2.25"/><circle cx="345.1" cy="187.3" r="2.25"/><circle cx="367.6" cy="192.0" r="2.25"/><circle cx="403.3" cy="217.1" r="2.25"/><circle cx="422.0" cy="215.8" r="2.25"/><circle cx="384.0" cy="214.1" r="2.25"/><circle cx="375.2" cy="170.9" r="2.25"/><circle cx="407.7" cy="211.4" r="2.25"/><circle cx="458.9" cy="222.3" r="2.25"/><circle cx="387.1" cy="187.7" r="2.25"/><circle cx="498.1" cy="211.1" r="2.25"/><circle cx="397.4" cy="208.5" r="2.25"/><circle cx="416.7" cy="194.8" r="2.25"/><circle cx="413.4" cy="186.1" r="2.25"/><circle cx="405.8" cy="203.7" r="2.25"/><circle cx="382.6" cy="193.9" r="2.25"/><circle cx="389.6" cy="197.4" r="2.25"/><circle cx="462.8" cy="218.2" r="2.25"/><circle cx="403.1" cy="189.0" r="2.25"/><circle cx="349.9" cy="199.8" r="2.25"/><circle cx="501.9" cy="221.2" r="2.25"/><circle cx="356.0" cy="184.5" r="2.25"/><circle cx="406.4" cy="202.3" r="2.25"/><circle cx="417.1" cy="215.0" r="2.25"/><circle cx="417.8" cy="212.4" r="2.25"/><circle cx="368.1" cy="189.0" r="2.25"/><circle cx="469.3" cy="219.5" r="2.25"/><circle cx="385.8" cy="205.4" r="2.25"/><circle cx="394.8" cy="207.0" r="2.25"/><circle cx="342.8" cy="175.1" r="2.25"/><circle cx="382.2" cy="186.8" r="2.25"/><circle cx="415.2" cy="221.4" r="2.25"/><circle cx="472.2" cy="215.7" r="2.25"/><circle cx="405.6" cy="220.6" r="2.25"/><circle cx="373.0" cy="198.4" r="2.25"/><circle cx="379.0" cy="198.9" r="2.25"/><circle cx="453.0" cy="209.6" r="2.25"/><circle cx="361.2" cy="193.3" r="2.25"/><circle cx="414.8" cy="185.7" r="2.25"/><circle cx="372.4" cy="190.3" r="2.25"/><circle cx="398.4" cy="193.4" r="2.25"/><circle cx="519.4" cy="213.7" r="2.25"/><circle cx="422.6" cy="201.3" r="2.25"/><circle cx="380.6" cy="198.9" r="2.25"/><circle cx="398.3" cy="205.5" r="2.25"/><circle cx="483.4" cy="217.4" r="2.25"/><circle cx="377.6" cy="192.2" r="2.25"/><circle cx="485.5" cy="209.2" r="2.25"/><circle cx="409.8" cy="198.0" r="2.25"/><circle cx="474.0" cy="207.5" r="2.25"/><circle cx="347.1" cy="187.7" r="2.25"/><circle cx="384.4" cy="205.6" r="2.25"/><circle cx="448.3" cy="213.5" r="2.25"/><circle cx="378.1" cy="191.7" r="2.25"/><circle cx="366.2" cy="209.0" r="2.25"/><circle cx="369.3" cy="210.6" r="2.25"/><circle cx="504.0" cy="213.7" r="2.25"/><circle cx="397.9" cy="195.6" r="2.25"/><circle cx="441.8" cy="222.2" r="2.25"/><circle cx="387.0" cy="197.4" r="2.25"/><circle cx="367.2" cy="188.6" r="2.25"/><circle cx="374.7" cy="178.2" r="2.25"/><circle cx="443.8" cy="203.5" r="2.25"/><circle cx="431.2" cy="183.5" r="2.25"/><circle cx="370.7" cy="199.5" r="2.25"/><circle cx="410.8" cy="200.3" r="2.25"/><circle cx="387.5" cy="190.0" r="2.25"/><circle cx="407.4" cy="204.7" r="2.25"/><circle cx="468.6" cy="216.3" r="2.25"/><circle cx="377.1" cy="195.6" r="2.25"/><circle cx="461.2" cy="206.2" r="2.25"/><circle cx="403.3" cy="198.2" r="2.25"/><circle cx="369.9" cy="199.2" r="2.25"/><circle cx="372.6" cy="212.7" r="2.25"/><circle cx="391.5" cy="194.1" r="2.25"/><circle cx="394.3" cy="213.6" r="2.25"/><circle cx="417.7" cy="208.0" r="2.25"/><circle cx="372.7" cy="204.6" r="2.25"/><circle cx="399.6" cy="207.4" r="2.25"/><circle cx="381.0" cy="174.2" r="2.25"/><circle cx="397.3" cy="201.8" r="2.25"/><circle cx="421.3" cy="211.6" r="2.25"/><circle cx="387.4" cy="193.3" r="2.25"/><circle cx="401.5" cy="212.2" r="2.25"/><circle cx="473.4" cy="209.7" r="2.25"/><circle cx="422.2" cy="199.0" r="2.25"/><circle cx="356.6" cy="180.9" r="2.25"/><circle cx="451.0" cy="219.4" r="2.25"/><circle cx="394.8" cy="207.2" r="2.25"/><circle cx="485.5" cy="205.5" r="2.25"/><circle cx="381.3" cy="200.6" r="2.25"/><circle cx="343.0" cy="199.3" r="2.25"/><circle cx="504.5" cy="221.3" r="2.25"/><circle cx="386.9" cy="195.4" r="2.25"/><circle cx="358.1" cy="200.4" r="2.25"/><circle cx="376.5" cy="194.5" r="2.25"/><circle cx="431.7" cy="201.8" r="2.25"/><circle cx="402.7" cy="212.8" r="2.25"/><circle cx="397.4" cy="195.9" r="2.25"/><circle cx="356.4" cy="214.9" r="2.25"/><circle cx="416.3" cy="207.0" r="2.25"/><circle cx="381.0" cy="206.5" r="2.25"/><circle cx="381.8" cy="206.3" r="2.25"/><circle cx="401.8" cy="200.3" r="2.25"/><circle cx="420.0" cy="208.6" r="2.25"/><circle cx="377.6" cy="196.1" r="2.25"/><circle cx="371.3" cy="210.6" r="2.25"/><circle cx="452.5" cy="208.8" r="2.25"/><circle cx="367.8" cy="195.7" r="2.25"/><circle cx="367.7" cy="195.9" r="2.25"/><circle cx="434.4" cy="177.4" r="2.25"/><circle cx="357.3" cy="208.8" r="2.25"/><circle cx="365.9" cy="205.4" r="2.25"/><circle cx="416.4" cy="179.2" r="2.25"/><circle cx="434.1" cy="217.7" r="2.25"/><circle cx="385.4" cy="213.9" r="2.25"/><circle cx="398.4" cy="204.2" r="2.25"/><circle cx="426.8" cy="197.2" r="2.25"/><circle cx="347.7" cy="205.6" r="2.25"/><circle cx="375.7" cy="184.8" r="2.25"/><circle cx="373.4" cy="199.8" r="2.25"/><circle cx="404.1" cy="188.3" r="2.25"/><circle cx="393.3" cy="204.3" r="2.25"/><circle cx="389.7" cy="211.8" r="2.25"/><circle cx="359.8" cy="200.1" r="2.25"/><circle cx="446.6" cy="178.0" r="2.25"/><circle cx="373.4" cy="198.7" r="2.25"/><circle cx="461.9" cy="189.3" r="2.25"/><circle cx="352.0" cy="199.7" r="2.25"/><circle cx="408.1" cy="190.0" r="2.25"/><circle cx="459.9" cy="212.0" r="2.25"/><circle cx="355.5" cy="197.3" r="2.25"/><circle cx="471.5" cy="195.8" r="2.25"/><circle cx="341.9" cy="195.8" r="2.25"/><circle cx="402.2" cy="216.9" r="2.25"/><circle cx="346.5" cy="197.8" r="2.25"/><circle cx="479.7" cy="218.4" r="2.25"/><circle cx="402.9" cy="196.9" r="2.25"/><circle cx="395.1" cy="183.2" r="2.25"/><circle cx="368.4" cy="192.7" r="2.25"/><circle cx="410.5" cy="207.8" r="2.25"/><circle cx="422.5" cy="213.7" r="2.25"/><circle cx="419.7" cy="189.8" r="2.25"/><circle cx="380.6" cy="205.6" r="2.25"/><circle cx="403.3" cy="179.1" r="2.25"/><circle cx="349.8" cy="194.0" r="2.25"/><circle cx="424.8" cy="197.1" r="2.25"/><circle cx="456.2" cy="213.9" r="2.25"/><circle cx="435.7" cy="198.2" r="2.25"/><circle cx="366.0" cy="207.4" r="2.25"/><circle cx="381.6" cy="197.3" r="2.25"/><circle cx="406.4" cy="193.2" r="2.25"/><circle cx="369.3" cy="197.8" r="2.25"/><circle cx="424.3" cy="198.7" r="2.25"/><circle cx="472.7" cy="206.5" r="2.25"/><circle cx="369.2" cy="194.0" r="2.25"/><circle cx="416.8" cy="196.3" r="2.25"/><circle cx="407.3" cy="201.5" r="2.25"/><circle cx="485.2" cy="222.6" r="2.25"/><circle cx="451.3" cy="207.0" r="2.25"/><circle cx="397.2" cy="203.3" r="2.25"/><circle cx="382.8" cy="201.4" r="2.25"/><circle cx="395.2" cy="196.1" r="2.25"/><circle cx="385.8" cy="195.9" r="2.25"/><circle cx="398.9" cy="186.3" r="2.25"/><circle cx="504.7" cy="215.4" r="2.25"/><circle cx="354.0" cy="196.7" r="2.25"/><circle cx="379.7" cy="208.6" r="2.25"/><circle cx="346.9" cy="185.9" r="2.25"/><circle cx="434.1" cy="215.6" r="2.25"/><circle cx="347.9" cy="205.5" r="2.25"/><circle cx="395.2" cy="194.5" r="2.25"/><circle cx="453.1" cy="206.6" r="2.25"/><circle cx="418.2" cy="220.5" r="2.25"/><circle cx="349.8" cy="205.2" r="2.25"/><circle cx="365.6" cy="180.2" r="2.25"/><circle cx="368.4" cy="190.5" r="2.25"/><circle cx="347.4" cy="191.7" r="2.25"/><circle cx="422.2" cy="185.8" r="2.25"/><circle cx="459.5" cy="213.4" r="2.25"/><circle cx="475.7" cy="215.3" r="2.25"/><circle cx="434.9" cy="213.6" r="2.25"/><circle cx="354.7" cy="190.3" r="2.25"/><circle cx="394.3" cy="212.9" r="2.25"/><circle cx="452.6" cy="192.2" r="2.25"/><circle cx="434.1" cy="201.0" r="2.25"/><circle cx="484.4" cy="206.3" r="2.25"/><circle cx="410.3" cy="208.2" r="2.25"/><circle cx="447.6" cy="204.2" r="2.25"/><circle cx="374.0" cy="203.6" r="2.25"/><circle cx="466.4" cy="203.9" r="2.25"/><circle cx="342.9" cy="192.7" r="2.25"/><circle cx="390.7" cy="194.2" r="2.25"/><circle cx="345.6" cy="198.9" r="2.25"/><circle cx="429.9" cy="212.2" r="2.25"/><circle cx="366.4" cy="184.2" r="2.25"/><circle cx="428.9" cy="203.3" r="2.25"/><circle cx="386.3" cy="206.6" r="2.25"/><circle cx="413.2" cy="189.6" r="2.25"/><circle cx="371.1" cy="195.4" r="2.25"/><circle cx="352.9" cy="208.6" r="2.25"/><circle cx="373.9" cy="215.0" r="2.25"/><circle cx="379.5" cy="208.5" r="2.25"/><circle cx="500.6" cy="195.1" r="2.25"/><circle cx="360.2" cy="203.0" r="2.25"/><circle cx="407.6" cy="216.7" r="2.25"/><circle cx="397.2" cy="215.2" r="2.25"/><circle cx="358.9" cy="178.7" r="2.25"/><circle cx="399.9" cy="210.0" r="2.25"/><circle cx="404.2" cy="204.3" r="2.25"/><circle cx="378.0" cy="209.8" r="2.25"/><circle cx="380.8" cy="207.8" r="2.25"/><circle cx="474.9" cy="207.3" r="2.25"/><circle cx="367.4" cy="211.0" r="2.25"/><circle cx="415.2" cy="190.7" r="2.25"/><circle cx="420.2" cy="215.2" r="2.25"/><circle cx="437.9" cy="211.4" r="2.25"/><circle cx="344.6" cy="199.8" r="2.25"/><circle cx="451.5" cy="190.1" r="2.25"/><circle cx="406.4" cy="189.9" r="2.25"/><circle cx="381.9" cy="202.9" r="2.25"/><circle cx="360.6" cy="185.7" r="2.25"/><circle cx="349.8" cy="207.9" r="2.25"/><circle cx="399.0" cy="206.1" r="2.25"/><circle cx="451.2" cy="223.7" r="2.25"/><circle cx="454.3" cy="206.5" r="2.25"/><circle cx="414.6" cy="196.1" r="2.25"/><circle cx="410.3" cy="197.7" r="2.25"/><circle cx="421.8" cy="218.2" r="2.25"/><circle cx="375.1" cy="204.8" r="2.25"/><circle cx="405.9" cy="209.2" r="2.25"/><circle cx="343.9" cy="207.9" r="2.25"/><circle cx="375.0" cy="202.7" r="2.25"/><circle cx="388.7" cy="204.9" r="2.25"/><circle cx="415.8" cy="203.6" r="2.25"/><circle cx="467.3" cy="200.3" r="2.25"/><circle cx="447.9" cy="223.9" r="2.25"/><circle cx="373.5" cy="199.4" r="2.25"/><circle cx="363.7" cy="196.3" r="2.25"/><circle cx="361.2" cy="202.1" r="2.25"/><circle cx="447.6" cy="204.7" r="2.25"/><circle cx="391.4" cy="194.6" r="2.25"/><circle cx="418.8" cy="205.9" r="2.25"/><circle cx="385.3" cy="207.0" r="2.25"/><circle cx="369.0" cy="208.1" r="2.25"/><circle cx="396.2" cy="183.3" r="2.25"/><circle cx="352.0" cy="213.3" r="2.25"/><circle cx="378.0" cy="197.8" r="2.25"/><circle cx="351.1" cy="205.9" r="2.25"/><circle cx="399.8" cy="204.2" r="2.25"/><circle cx="370.6" cy="209.5" r="2.25"/><circle cx="393.9" cy="182.1" r="2.25"/><circle cx="342.8" cy="192.1" r="2.25"/><circle cx="482.3" cy="223.6" r="2.25"/><circle cx="497.8" cy="210.0" r="2.25"/><circle cx="441.9" cy="180.8" r="2.25"/><circle cx="396.1" cy="203.2" r="2.25"/><circle cx="367.1" cy="198.1" r="2.25"/><circle cx="371.0" cy="182.1" r="2.25"/><circle cx="419.4" cy="172.4" r="2.25"/><circle cx="341.2" cy="181.7" r="2.25"/><circle cx="376.7" cy="202.0" r="2.25"/><circle cx="386.6" cy="200.1" r="2.25"/><circle cx="413.9" cy="198.5" r="2.25"/><circle cx="404.3" cy="207.5" r="2.25"/><circle cx="397.8" cy="180.9" r="2.25"/><circle cx="364.6" cy="192.8" r="2.25"/><circle cx="439.6" cy="206.4" r="2.25"/><circle cx="415.5" cy="211.4" r="2.25"/><circle cx="341.8" cy="196.3" r="2.25"/><circle cx="451.9" cy="199.7" r="2.25"/><circle cx="447.7" cy="194.8" r="2.25"/><circle cx="377.5" cy="200.0" r="2.25"/><circle cx="462.3" cy="210.6" r="2.25"/><circle cx="431.4" cy="205.4" r="2.25"/><circle cx="378.1" cy="214.4" r="2.25"/><circle cx="458.2" cy="205.8" r="2.25"/><circle cx="390.5" cy="203.8" r="2.25"/><circle cx="341.6" cy="203.5" r="2.25"/><circle cx="391.0" cy="213.6" r="2.25"/><circle cx="432.5" cy="207.4" r="2.25"/><circle cx="401.2" cy="197.2" r="2.25"/><circle cx="343.8" cy="206.2" r="2.25"/><circle cx="418.1" cy="210.6" r="2.25"/><circle cx="359.0" cy="207.6" r="2.25"/><circle cx="423.3" cy="194.8" r="2.25"/><circle cx="452.1" cy="193.9" r="2.25"/><circle cx="358.5" cy="199.2" r="2.25"/><circle cx="361.5" cy="203.7" r="2.25"/><circle cx="459.0" cy="211.6" r="2.25"/><circle cx="364.0" cy="194.8" r="2.25"/><circle cx="365.2" cy="196.9" r="2.25"/><circle cx="397.8" cy="210.6" r="2.25"/><circle cx="427.8" cy="191.5" r="2.25"/><circle cx="372.0" cy="188.6" r="2.25"/><circle cx="411.0" cy="211.6" r="2.25"/><circle cx="349.9" cy="203.1" r="2.25"/><circle cx="392.2" cy="182.9" r="2.25"/><circle cx="371.7" cy="200.4" r="2.25"/><circle cx="388.6" cy="206.3" r="2.25"/><circle cx="408.3" cy="212.4" r="2.25"/><circle cx="378.4" cy="209.8" r="2.25"/><circle cx="372.1" cy="178.3" r="2.25"/><circle cx="383.7" cy="208.6" r="2.25"/><circle cx="408.1" cy="200.9" r="2.25"/><circle cx="373.3" cy="191.1" r="2.25"/><circle cx="411.5" cy="199.3" r="2.25"/><circle cx="450.1" cy="205.7" r="2.25"/><circle cx="439.1" cy="212.0" r="2.25"/><circle cx="405.7" cy="193.3" r="2.25"/><circle cx="421.5" cy="201.0" r="2.25"/><circle cx="473.7" cy="210.8" r="2.25"/><circle cx="403.1" cy="206.2" r="2.25"/><circle cx="380.0" cy="203.2" r="2.25"/><circle cx="409.9" cy="212.6" r="2.25"/><circle cx="390.9" cy="203.9" r="2.25"/><circle cx="349.9" cy="202.3" r="2.25"/><circle cx="399.0" cy="213.4" r="2.25"/><circle cx="397.7" cy="213.1" r="2.25"/><circle cx="395.2" cy="212.3" r="2.25"/><circle cx="526.1" cy="216.0" r="2.25"/><circle cx="528.1" cy="221.0" r="2.25"/><circle cx="532.6" cy="216.0" r="2.25"/><circle cx="552.6" cy="219.0" r="2.25"/><circle cx="561.3" cy="202.2" r="2.25"/></g><g fill="#7AAC1E"><circle cx="367.4" cy="81.8" r="2.25"/><circle cx="378.8" cy="99.9" r="2.25"/><circle cx="500.0" cy="106.5" r="2.25"/><circle cx="434.3" cy="115.5" r="2.25"/><circle cx="437.4" cy="98.0" r="2.25"/><circle cx="394.8" cy="105.9" r="2.25"/><circle cx="394.7" cy="97.4" r="2.25"/><circle cx="394.4" cy="107.3" r="2.25"/><circle cx="343.9" cy="104.8" r="2.25"/><circle cx="366.6" cy="100.2" r="2.25"/><circle cx="457.6" cy="105.2" r="2.25"/><circle cx="419.5" cy="107.2" r="2.25"/><circle cx="405.4" cy="104.9" r="2.25"/><circle cx="342.1" cy="86.2" r="2.25"/><circle cx="441.3" cy="132.1" r="2.25"/><circle cx="351.4" cy="92.8" r="2.25"/><circle cx="474.8" cy="102.8" r="2.25"/><circle cx="343.2" cy="81.1" r="2.25"/><circle cx="386.2" cy="95.0" r="2.25"/><circle cx="450.1" cy="112.4" r="2.25"/><circle cx="413.9" cy="115.7" r="2.25"/><circle cx="430.9" cy="110.4" r="2.25"/><circle cx="406.2" cy="91.5" r="2.25"/><circle cx="370.4" cy="91.8" r="2.25"/><circle cx="361.8" cy="106.8" r="2.25"/><circle cx="356.4" cy="110.0" r="2.25"/><circle cx="366.0" cy="111.9" r="2.25"/><circle cx="406.1" cy="94.6" r="2.25"/><circle cx="349.3" cy="87.7" r="2.25"/><circle cx="385.1" cy="85.7" r="2.25"/><circle cx="456.2" cy="109.8" r="2.25"/><circle cx="355.9" cy="77.9" r="2.25"/><circle cx="413.1" cy="105.4" r="2.25"/><circle cx="419.0" cy="123.0" r="2.25"/><circle cx="356.5" cy="95.1" r="2.25"/><circle cx="373.8" cy="111.1" r="2.25"/><circle cx="340.7" cy="89.2" r="2.25"/><circle cx="439.8" cy="99.2" r="2.25"/><circle cx="379.6" cy="97.1" r="2.25"/><circle cx="431.6" cy="105.6" r="2.25"/><circle cx="424.0" cy="94.9" r="2.25"/><circle cx="390.9" cy="111.6" r="2.25"/><circle cx="381.1" cy="83.3" r="2.25"/><circle cx="381.4" cy="87.3" r="2.25"/><circle cx="360.5" cy="105.7" r="2.25"/><circle cx="354.7" cy="87.4" r="2.25"/><circle cx="382.0" cy="105.3" r="2.25"/><circle cx="365.9" cy="100.0" r="2.25"/><circle cx="474.0" cy="133.3" r="2.25"/><circle cx="341.4" cy="89.2" r="2.25"/><circle cx="351.7" cy="108.1" r="2.25"/><circle cx="359.0" cy="107.2" r="2.25"/><circle cx="413.8" cy="112.5" r="2.25"/><circle cx="374.1" cy="82.7" r="2.25"/><circle cx="449.6" cy="125.7" r="2.25"/><circle cx="408.4" cy="98.5" r="2.25"/><circle cx="389.6" cy="117.5" r="2.25"/><circle cx="391.7" cy="115.9" r="2.25"/><circle cx="383.6" cy="123.4" r="2.25"/><circle cx="451.1" cy="123.5" r="2.25"/><circle cx="397.0" cy="99.9" r="2.25"/><circle cx="436.1" cy="105.6" r="2.25"/><circle cx="377.4" cy="91.1" r="2.25"/><circle cx="458.9" cy="111.5" r="2.25"/><circle cx="441.1" cy="96.4" r="2.25"/><circle cx="393.6" cy="114.5" r="2.25"/><circle cx="407.8" cy="103.5" r="2.25"/><circle cx="364.0" cy="70.1" r="2.25"/><circle cx="370.7" cy="81.3" r="2.25"/><circle cx="356.4" cy="87.2" r="2.25"/><circle cx="403.5" cy="118.9" r="2.25"/><circle cx="383.9" cy="129.2" r="2.25"/><circle cx="434.9" cy="107.4" r="2.25"/><circle cx="396.6" cy="107.6" r="2.25"/><circle cx="411.7" cy="115.1" r="2.25"/><circle cx="422.7" cy="105.7" r="2.25"/><circle cx="342.3" cy="75.1" r="2.25"/><circle cx="364.9" cy="108.0" r="2.25"/><circle cx="342.8" cy="107.5" r="2.25"/><circle cx="411.9" cy="132.3" r="2.25"/><circle cx="395.2" cy="110.8" r="2.25"/><circle cx="346.6" cy="80.7" r="2.25"/><circle cx="370.7" cy="89.8" r="2.25"/><circle cx="408.1" cy="127.3" r="2.25"/><circle cx="456.1" cy="141.0" r="2.25"/><circle cx="407.0" cy="112.1" r="2.25"/><circle cx="389.4" cy="115.2" r="2.25"/><circle cx="448.1" cy="121.0" r="2.25"/><circle cx="400.4" cy="106.4" r="2.25"/><circle cx="348.9" cy="76.3" r="2.25"/><circle cx="422.3" cy="102.6" r="2.25"/><circle cx="463.5" cy="112.6" r="2.25"/><circle cx="381.7" cy="113.8" r="2.25"/><circle cx="423.0" cy="117.5" r="2.25"/><circle cx="341.3" cy="82.6" r="2.25"/><circle cx="388.4" cy="95.6" r="2.25"/><circle cx="389.6" cy="91.7" r="2.25"/><circle cx="368.7" cy="109.6" r="2.25"/><circle cx="354.2" cy="103.8" r="2.25"/><circle cx="450.3" cy="122.2" r="2.25"/><circle cx="413.9" cy="117.4" r="2.25"/><circle cx="365.8" cy="138.0" r="2.25"/><circle cx="455.3" cy="114.6" r="2.25"/><circle cx="376.7" cy="89.9" r="2.25"/><circle cx="412.9" cy="99.0" r="2.25"/><circle cx="438.4" cy="126.7" r="2.25"/><circle cx="427.0" cy="103.8" r="2.25"/><circle cx="393.5" cy="118.6" r="2.25"/><circle cx="359.4" cy="94.8" r="2.25"/><circle cx="459.2" cy="100.5" r="2.25"/><circle cx="360.2" cy="97.5" r="2.25"/><circle cx="440.2" cy="104.0" r="2.25"/><circle cx="341.7" cy="96.1" r="2.25"/><circle cx="370.6" cy="147.7" r="2.25"/><circle cx="360.8" cy="87.6" r="2.25"/><circle cx="386.6" cy="105.6" r="2.25"/><circle cx="399.1" cy="148.8" r="2.25"/><circle cx="415.7" cy="106.0" r="2.25"/><circle cx="391.7" cy="115.0" r="2.25"/><circle cx="374.5" cy="109.7" r="2.25"/><circle cx="385.7" cy="106.2" r="2.25"/><circle cx="374.5" cy="86.0" r="2.25"/><circle cx="438.1" cy="134.3" r="2.25"/><circle cx="342.4" cy="95.6" r="2.25"/><circle cx="439.6" cy="102.6" r="2.25"/><circle cx="377.7" cy="91.0" r="2.25"/><circle cx="434.0" cy="142.9" r="2.25"/><circle cx="382.6" cy="110.5" r="2.25"/><circle cx="343.7" cy="86.1" r="2.25"/><circle cx="442.8" cy="124.7" r="2.25"/><circle cx="380.4" cy="91.6" r="2.25"/><circle cx="353.6" cy="100.7" r="2.25"/><circle cx="444.6" cy="106.1" r="2.25"/><circle cx="428.2" cy="117.9" r="2.25"/><circle cx="345.1" cy="106.8" r="2.25"/><circle cx="382.8" cy="107.6" r="2.25"/><circle cx="400.4" cy="99.1" r="2.25"/><circle cx="502.1" cy="136.3" r="2.25"/><circle cx="465.4" cy="89.1" r="2.25"/><circle cx="364.5" cy="83.6" r="2.25"/><circle cx="380.1" cy="105.5" r="2.25"/><circle cx="430.5" cy="114.2" r="2.25"/><circle cx="397.9" cy="93.6" r="2.25"/><circle cx="340.8" cy="91.3" r="2.25"/><circle cx="437.5" cy="120.2" r="2.25"/><circle cx="354.0" cy="78.0" r="2.25"/><circle cx="466.6" cy="127.3" r="2.25"/><circle cx="353.1" cy="84.1" r="2.25"/><circle cx="400.8" cy="80.0" r="2.25"/><circle cx="402.0" cy="115.8" r="2.25"/><circle cx="389.7" cy="104.5" r="2.25"/><circle cx="354.2" cy="99.8" r="2.25"/><circle cx="357.4" cy="95.3" r="2.25"/><circle cx="474.8" cy="109.6" r="2.25"/><circle cx="371.9" cy="90.8" r="2.25"/><circle cx="427.5" cy="97.3" r="2.25"/><circle cx="392.6" cy="96.7" r="2.25"/><circle cx="381.3" cy="81.3" r="2.25"/><circle cx="481.9" cy="141.6" r="2.25"/><circle cx="438.3" cy="110.4" r="2.25"/><circle cx="376.6" cy="99.1" r="2.25"/><circle cx="345.1" cy="101.5" r="2.25"/><circle cx="367.6" cy="92.2" r="2.25"/><circle cx="403.3" cy="115.6" r="2.25"/><circle cx="422.0" cy="100.5" r="2.25"/><circle cx="384.0" cy="95.4" r="2.25"/><circle cx="375.2" cy="106.8" r="2.25"/><circle cx="407.7" cy="96.4" r="2.25"/><circle cx="458.9" cy="113.5" r="2.25"/><circle cx="387.1" cy="98.2" r="2.25"/><circle cx="498.1" cy="142.1" r="2.25"/><circle cx="397.4" cy="116.8" r="2.25"/><circle cx="416.7" cy="90.1" r="2.25"/><circle cx="413.4" cy="115.4" r="2.25"/><circle cx="405.8" cy="102.1" r="2.25"/><circle cx="382.6" cy="91.9" r="2.25"/><circle cx="389.6" cy="111.4" r="2.25"/><circle cx="462.8" cy="96.1" r="2.25"/><circle cx="403.1" cy="110.4" r="2.25"/><circle cx="349.9" cy="85.5" r="2.25"/><circle cx="501.9" cy="129.0" r="2.25"/><circle cx="356.0" cy="88.2" r="2.25"/><circle cx="406.4" cy="101.2" r="2.25"/><circle cx="417.1" cy="108.7" r="2.25"/><circle cx="417.8" cy="92.1" r="2.25"/><circle cx="368.1" cy="107.1" r="2.25"/><circle cx="469.3" cy="118.5" r="2.25"/><circle cx="385.8" cy="97.2" r="2.25"/><circle cx="394.8" cy="108.7" r="2.25"/><circle cx="342.8" cy="82.8" r="2.25"/><circle cx="382.2" cy="104.2" r="2.25"/><circle cx="415.2" cy="110.8" r="2.25"/><circle cx="472.2" cy="118.8" r="2.25"/><circle cx="405.6" cy="109.2" r="2.25"/><circle cx="373.0" cy="117.8" r="2.25"/><circle cx="379.0" cy="106.3" r="2.25"/><circle cx="453.0" cy="130.2" r="2.25"/><circle cx="361.2" cy="102.9" r="2.25"/><circle cx="414.8" cy="101.9" r="2.25"/><circle cx="372.4" cy="109.2" r="2.25"/><circle cx="398.4" cy="104.7" r="2.25"/><circle cx="519.4" cy="142.3" r="2.25"/><circle cx="422.6" cy="104.8" r="2.25"/><circle cx="380.6" cy="78.0" r="2.25"/><circle cx="398.3" cy="109.7" r="2.25"/><circle cx="483.4" cy="145.5" r="2.25"/><circle cx="377.6" cy="130.7" r="2.25"/><circle cx="485.5" cy="127.3" r="2.25"/><circle cx="409.8" cy="90.1" r="2.25"/><circle cx="474.0" cy="141.7" r="2.25"/><circle cx="347.1" cy="99.4" r="2.25"/><circle cx="384.4" cy="103.3" r="2.25"/><circle cx="448.3" cy="109.1" r="2.25"/><circle cx="378.1" cy="107.4" r="2.25"/><circle cx="366.2" cy="108.0" r="2.25"/><circle cx="369.3" cy="103.5" r="2.25"/><circle cx="504.0" cy="132.0" r="2.25"/><circle cx="397.9" cy="102.0" r="2.25"/><circle cx="441.8" cy="115.6" r="2.25"/><circle cx="387.0" cy="100.1" r="2.25"/><circle cx="367.2" cy="107.8" r="2.25"/><circle cx="374.7" cy="110.2" r="2.25"/><circle cx="443.8" cy="114.3" r="2.25"/><circle cx="431.2" cy="118.8" r="2.25"/><circle cx="370.7" cy="93.0" r="2.25"/><circle cx="410.8" cy="109.3" r="2.25"/><circle cx="387.5" cy="99.6" r="2.25"/><circle cx="407.4" cy="107.5" r="2.25"/><circle cx="468.6" cy="131.5" r="2.25"/><circle cx="377.1" cy="88.6" r="2.25"/><circle cx="461.2" cy="106.3" r="2.25"/><circle cx="403.3" cy="111.7" r="2.25"/><circle cx="369.9" cy="80.5" r="2.25"/><circle cx="372.6" cy="98.9" r="2.25"/><circle cx="391.5" cy="77.9" r="2.25"/><circle cx="394.3" cy="88.6" r="2.25"/><circle cx="417.7" cy="119.7" r="2.25"/><circle cx="372.7" cy="79.7" r="2.25"/><circle cx="399.6" cy="117.8" r="2.25"/><circle cx="381.0" cy="94.7" r="2.25"/><circle cx="397.3" cy="96.7" r="2.25"/><circle cx="421.3" cy="115.7" r="2.25"/><circle cx="387.4" cy="115.2" r="2.25"/><circle cx="401.5" cy="106.3" r="2.25"/><circle cx="473.4" cy="135.9" r="2.25"/><circle cx="422.2" cy="107.9" r="2.25"/><circle cx="356.6" cy="98.4" r="2.25"/><circle cx="451.0" cy="132.3" r="2.25"/><circle cx="394.8" cy="96.2" r="2.25"/><circle cx="485.5" cy="123.9" r="2.25"/><circle cx="381.3" cy="93.3" r="2.25"/><circle cx="343.0" cy="102.8" r="2.25"/><circle cx="504.5" cy="141.0" r="2.25"/><circle cx="386.9" cy="78.5" r="2.25"/><circle cx="358.1" cy="81.1" r="2.25"/><circle cx="376.5" cy="86.6" r="2.25"/><circle cx="431.7" cy="115.9" r="2.25"/><circle cx="402.7" cy="95.1" r="2.25"/><circle cx="397.4" cy="106.8" r="2.25"/><circle cx="356.4" cy="100.9" r="2.25"/><circle cx="416.3" cy="94.8" r="2.25"/><circle cx="381.0" cy="109.2" r="2.25"/><circle cx="381.8" cy="109.3" r="2.25"/><circle cx="401.8" cy="90.2" r="2.25"/><circle cx="420.0" cy="84.3" r="2.25"/><circle cx="377.6" cy="82.4" r="2.25"/><circle cx="371.3" cy="109.2" r="2.25"/><circle cx="452.5" cy="132.6" r="2.25"/><circle cx="367.8" cy="104.0" r="2.25"/><circle cx="367.7" cy="98.3" r="2.25"/><circle cx="434.4" cy="112.6" r="2.25"/><circle cx="357.3" cy="93.5" r="2.25"/><circle cx="365.9" cy="106.3" r="2.25"/><circle cx="416.4" cy="98.1" r="2.25"/><circle cx="434.1" cy="106.4" r="2.25"/><circle cx="385.4" cy="118.3" r="2.25"/><circle cx="398.4" cy="125.0" r="2.25"/><circle cx="426.8" cy="102.7" r="2.25"/><circle cx="347.7" cy="79.6" r="2.25"/><circle cx="375.7" cy="103.2" r="2.25"/><circle cx="373.4" cy="99.8" r="2.25"/><circle cx="404.1" cy="101.1" r="2.25"/><circle cx="393.3" cy="101.5" r="2.25"/><circle cx="389.7" cy="107.7" r="2.25"/><circle cx="359.8" cy="79.2" r="2.25"/><circle cx="446.6" cy="129.4" r="2.25"/><circle cx="373.4" cy="97.8" r="2.25"/><circle cx="461.9" cy="125.5" r="2.25"/><circle cx="352.0" cy="102.9" r="2.25"/><circle cx="408.1" cy="102.9" r="2.25"/><circle cx="459.9" cy="109.3" r="2.25"/><circle cx="355.5" cy="127.6" r="2.25"/><circle cx="471.5" cy="102.0" r="2.25"/><circle cx="341.9" cy="82.8" r="2.25"/><circle cx="402.2" cy="137.1" r="2.25"/><circle cx="346.5" cy="135.1" r="2.25"/><circle cx="479.7" cy="124.2" r="2.25"/><circle cx="402.9" cy="95.4" r="2.25"/><circle cx="395.1" cy="103.4" r="2.25"/><circle cx="368.4" cy="93.2" r="2.25"/><circle cx="410.5" cy="130.5" r="2.25"/><circle cx="422.5" cy="110.7" r="2.25"/><circle cx="419.7" cy="97.2" r="2.25"/><circle cx="380.6" cy="108.9" r="2.25"/><circle cx="403.3" cy="105.6" r="2.25"/><circle cx="349.8" cy="94.4" r="2.25"/><circle cx="424.8" cy="123.5" r="2.25"/><circle cx="456.2" cy="106.6" r="2.25"/><circle cx="435.7" cy="97.8" r="2.25"/><circle cx="366.0" cy="92.9" r="2.25"/><circle cx="381.6" cy="98.5" r="2.25"/><circle cx="406.4" cy="100.2" r="2.25"/><circle cx="369.3" cy="100.1" r="2.25"/><circle cx="424.3" cy="89.9" r="2.25"/><circle cx="472.7" cy="139.0" r="2.25"/><circle cx="369.2" cy="107.5" r="2.25"/><circle cx="416.8" cy="115.2" r="2.25"/><circle cx="407.3" cy="95.3" r="2.25"/><circle cx="485.2" cy="132.0" r="2.25"/><circle cx="451.3" cy="112.1" r="2.25"/><circle cx="397.2" cy="92.5" r="2.25"/><circle cx="382.8" cy="74.4" r="2.25"/><circle cx="395.2" cy="94.8" r="2.25"/><circle cx="385.8" cy="97.9" r="2.25"/><circle cx="398.9" cy="99.3" r="2.25"/><circle cx="504.7" cy="138.7" r="2.25"/><circle cx="354.0" cy="103.9" r="2.25"/><circle cx="379.7" cy="92.1" r="2.25"/><circle cx="346.9" cy="99.0" r="2.25"/><circle cx="434.1" cy="99.7" r="2.25"/><circle cx="347.9" cy="103.4" r="2.25"/><circle cx="395.2" cy="94.0" r="2.25"/><circle cx="453.1" cy="115.6" r="2.25"/><circle cx="418.2" cy="115.0" r="2.25"/><circle cx="349.8" cy="79.6" r="2.25"/><circle cx="365.6" cy="106.7" r="2.25"/><circle cx="368.4" cy="86.0" r="2.25"/><circle cx="347.4" cy="82.0" r="2.25"/><circle cx="422.2" cy="95.5" r="2.25"/><circle cx="459.5" cy="126.9" r="2.25"/><circle cx="475.7" cy="120.3" r="2.25"/><circle cx="434.9" cy="108.1" r="2.25"/><circle cx="354.7" cy="100.2" r="2.25"/><circle cx="394.3" cy="112.4" r="2.25"/><circle cx="452.6" cy="107.3" r="2.25"/><circle cx="434.1" cy="103.2" r="2.25"/><circle cx="484.4" cy="113.9" r="2.25"/><circle cx="410.3" cy="100.2" r="2.25"/><circle cx="447.6" cy="124.1" r="2.25"/><circle cx="374.0" cy="84.2" r="2.25"/><circle cx="466.4" cy="105.3" r="2.25"/><circle cx="342.9" cy="77.5" r="2.25"/><circle cx="390.7" cy="113.6" r="2.25"/><circle cx="345.6" cy="89.0" r="2.25"/><circle cx="429.9" cy="113.0" r="2.25"/><circle cx="366.4" cy="84.0" r="2.25"/><circle cx="428.9" cy="94.6" r="2.25"/><circle cx="386.3" cy="105.8" r="2.25"/><circle cx="413.2" cy="95.7" r="2.25"/><circle cx="371.1" cy="98.6" r="2.25"/><circle cx="352.9" cy="77.1" r="2.25"/><circle cx="373.9" cy="89.3" r="2.25"/><circle cx="379.5" cy="111.6" r="2.25"/><circle cx="500.6" cy="126.5" r="2.25"/><circle cx="360.2" cy="85.6" r="2.25"/><circle cx="407.6" cy="118.5" r="2.25"/><circle cx="397.2" cy="101.4" r="2.25"/><circle cx="358.9" cy="94.0" r="2.25"/><circle cx="399.9" cy="115.7" r="2.25"/><circle cx="404.2" cy="106.4" r="2.25"/><circle cx="378.0" cy="112.3" r="2.25"/><circle cx="380.8" cy="77.4" r="2.25"/><circle cx="474.9" cy="116.9" r="2.25"/><circle cx="367.4" cy="105.3" r="2.25"/><circle cx="415.2" cy="114.7" r="2.25"/><circle cx="420.2" cy="114.2" r="2.25"/><circle cx="437.9" cy="105.0" r="2.25"/><circle cx="344.6" cy="96.0" r="2.25"/><circle cx="451.5" cy="110.7" r="2.25"/><circle cx="406.4" cy="122.0" r="2.25"/><circle cx="381.9" cy="106.4" r="2.25"/><circle cx="360.6" cy="105.5" r="2.25"/><circle cx="349.8" cy="91.1" r="2.25"/><circle cx="399.0" cy="95.3" r="2.25"/><circle cx="451.2" cy="118.1" r="2.25"/><circle cx="454.3" cy="118.6" r="2.25"/><circle cx="414.6" cy="95.5" r="2.25"/><circle cx="410.3" cy="94.9" r="2.25"/><circle cx="421.8" cy="114.1" r="2.25"/><circle cx="375.1" cy="87.3" r="2.25"/><circle cx="405.9" cy="93.0" r="2.25"/><circle cx="343.9" cy="92.6" r="2.25"/><circle cx="375.0" cy="94.2" r="2.25"/><circle cx="388.7" cy="109.5" r="2.25"/><circle cx="415.8" cy="96.8" r="2.25"/><circle cx="467.3" cy="112.2" r="2.25"/><circle cx="447.9" cy="108.8" r="2.25"/><circle cx="373.5" cy="98.2" r="2.25"/><circle cx="363.7" cy="106.0" r="2.25"/><circle cx="361.2" cy="79.9" r="2.25"/><circle cx="447.6" cy="101.4" r="2.25"/><circle cx="391.4" cy="91.9" r="2.25"/><circle cx="418.8" cy="107.0" r="2.25"/><circle cx="385.3" cy="85.9" r="2.25"/><circle cx="369.0" cy="78.7" r="2.25"/><circle cx="396.2" cy="107.3" r="2.25"/><circle cx="352.0" cy="97.8" r="2.25"/><circle cx="378.0" cy="92.9" r="2.25"/><circle cx="351.1" cy="102.1" r="2.25"/><circle cx="399.8" cy="107.3" r="2.25"/><circle cx="370.6" cy="79.5" r="2.25"/><circle cx="393.9" cy="100.7" r="2.25"/><circle cx="342.8" cy="76.7" r="2.25"/><circle cx="482.3" cy="122.4" r="2.25"/><circle cx="497.8" cy="141.1" r="2.25"/><circle cx="441.9" cy="124.7" r="2.25"/><circle cx="396.1" cy="113.8" r="2.25"/><circle cx="367.1" cy="96.5" r="2.25"/><circle cx="371.0" cy="81.5" r="2.25"/><circle cx="419.4" cy="95.5" r="2.25"/><circle cx="341.2" cy="99.1" r="2.25"/><circle cx="376.7" cy="93.1" r="2.25"/><circle cx="386.6" cy="100.2" r="2.25"/><circle cx="413.9" cy="107.3" r="2.25"/><circle cx="404.3" cy="111.2" r="2.25"/><circle cx="397.8" cy="113.1" r="2.25"/><circle cx="364.6" cy="98.3" r="2.25"/><circle cx="439.6" cy="97.3" r="2.25"/><circle cx="415.5" cy="108.3" r="2.25"/><circle cx="341.8" cy="84.7" r="2.25"/><circle cx="451.9" cy="123.2" r="2.25"/><circle cx="447.7" cy="108.6" r="2.25"/><circle cx="377.5" cy="90.9" r="2.25"/><circle cx="462.3" cy="128.5" r="2.25"/><circle cx="431.4" cy="125.1" r="2.25"/><circle cx="378.1" cy="108.2" r="2.25"/><circle cx="458.2" cy="104.6" r="2.25"/><circle cx="390.5" cy="107.3" r="2.25"/><circle cx="341.6" cy="71.1" r="2.25"/><circle cx="391.0" cy="93.3" r="2.25"/><circle cx="432.5" cy="117.7" r="2.25"/><circle cx="401.2" cy="88.8" r="2.25"/><circle cx="343.8" cy="89.1" r="2.25"/><circle cx="418.1" cy="121.0" r="2.25"/><circle cx="359.0" cy="92.6" r="2.25"/><circle cx="423.3" cy="119.9" r="2.25"/><circle cx="452.1" cy="114.3" r="2.25"/><circle cx="358.5" cy="130.4" r="2.25"/><circle cx="361.5" cy="107.9" r="2.25"/><circle cx="459.0" cy="112.7" r="2.25"/><circle cx="364.0" cy="125.7" r="2.25"/><circle cx="365.2" cy="91.1" r="2.25"/><circle cx="397.8" cy="107.3" r="2.25"/><circle cx="427.8" cy="105.8" r="2.25"/><circle cx="372.0" cy="96.2" r="2.25"/><circle cx="411.0" cy="101.3" r="2.25"/><circle cx="349.9" cy="111.8" r="2.25"/><circle cx="392.2" cy="144.5" r="2.25"/><circle cx="371.7" cy="86.6" r="2.25"/><circle cx="388.6" cy="87.3" r="2.25"/><circle cx="408.3" cy="91.1" r="2.25"/><circle cx="378.4" cy="117.0" r="2.25"/><circle cx="372.1" cy="105.4" r="2.25"/><circle cx="383.7" cy="127.8" r="2.25"/><circle cx="408.1" cy="99.8" r="2.25"/><circle cx="373.3" cy="98.6" r="2.25"/><circle cx="411.5" cy="114.8" r="2.25"/><circle cx="450.1" cy="112.5" r="2.25"/><circle cx="439.1" cy="117.2" r="2.25"/><circle cx="405.7" cy="112.8" r="2.25"/><circle cx="421.5" cy="111.6" r="2.25"/><circle cx="473.7" cy="139.9" r="2.25"/><circle cx="403.1" cy="94.8" r="2.25"/><circle cx="380.0" cy="130.2" r="2.25"/><circle cx="409.9" cy="96.3" r="2.25"/><circle cx="390.9" cy="96.0" r="2.25"/><circle cx="349.9" cy="69.2" r="2.25"/><circle cx="399.0" cy="107.0" r="2.25"/><circle cx="397.7" cy="97.8" r="2.25"/><circle cx="395.2" cy="122.1" r="2.25"/><circle cx="526.1" cy="135.0" r="2.25"/><circle cx="528.1" cy="137.0" r="2.25"/><circle cx="532.6" cy="137.7" r="2.25"/><circle cx="552.6" cy="137.7" r="2.25"/><circle cx="561.3" cy="133.3" r="2.25"/></g><path d="M340.6,104.4 L348.0,106.1 L355.3,107.9 L362.7,109.6 L370.0,111.3 L377.3,113.0 L384.7,114.6 L392.0,116.3 L399.4,117.9 L406.7,119.4 L414.0,121.0 L421.4,122.5 L428.7,124.0 L436.1,125.5 L443.4,127.0 L450.7,128.4 L458.1,129.9 L465.4,131.3 L472.7,132.7 L480.1,134.2 L487.4,135.6 L494.8,137.0 L502.1,138.4 L509.4,139.9 L516.8,141.3 L524.1,142.7 L531.5,144.1 L538.8,145.5 L546.1,146.9 L553.5,148.4 L560.8,149.8 L560.8,157.6 L553.5,155.9 L546.1,154.1 L538.8,152.4 L531.5,150.6 L524.1,148.9 L516.8,147.1 L509.4,145.4 L502.1,143.6 L494.8,141.9 L487.4,140.1 L480.1,138.4 L472.7,136.7 L465.4,134.9 L458.1,133.2 L450.7,131.5 L443.4,129.8 L436.1,128.1 L428.7,126.4 L421.4,124.7 L414.0,123.1 L406.7,121.5 L399.4,119.9 L392.0,118.3 L384.7,116.8 L377.3,115.3 L370.0,113.8 L362.7,112.3 L355.3,110.9 L348.0,109.4 L340.6,108.0Z" fill="#999" fill-opacity="0.4"/><path d="M340.6,65.7 L348.0,67.8 L355.3,69.8 L362.7,71.9 L370.0,73.9 L377.3,75.9 L384.7,77.9 L392.0,79.8 L399.4,81.7 L406.7,83.5 L414.0,85.2 L421.4,86.9 L428.7,88.5 L436.1,90.1 L443.4,91.6 L450.7,93.2 L458.1,94.7 L465.4,96.3 L472.7,97.8 L480.1,99.4 L487.4,100.9 L494.8,102.4 L502.1,104.0 L509.4,105.5 L516.8,107.0 L524.1,108.5 L531.5,110.1 L538.8,111.6 L546.1,113.1 L553.5,114.6 L560.8,116.2 L560.8,128.4 L553.5,126.4 L546.1,124.3 L538.8,122.2 L531.5,120.1 L524.1,118.1 L516.8,116.0 L509.4,113.9 L502.1,111.8 L494.8,109.8 L487.4,107.7 L480.1,105.6 L472.7,103.6 L465.4,101.5 L458.1,99.5 L450.7,97.4 L443.4,95.4 L436.1,93.3 L428.7,91.3 L421.4,89.3 L414.0,87.4 L406.7,85.5 L399.4,83.7 L392.0,82.0 L384.7,80.3 L377.3,78.7 L370.0,77.1 L362.7,75.5 L355.3,74.0 L348.0,72.4 L340.6,70.9Z" fill="#999" fill-opacity="0.4"/><path d="M340.6,191.7 L348.0,192.7 L355.3,193.6 L362.7,194.6 L370.0,195.5 L377.3,196.4 L384.7,197.3 L392.0,198.2 L399.4,199.0 L406.7,199.8 L414.0,200.6 L421.4,201.4 L428.7,202.1 L436.1,202.8 L443.4,203.5 L450.7,204.2 L458.1,204.9 L465.4,205.6 L472.7,206.2 L480.1,206.9 L487.4,207.5 L494.8,208.2 L502.1,208.9 L509.4,209.5 L516.8,210.2 L524.1,210.8 L531.5,211.5 L538.8,212.1 L546.1,212.8 L553.5,213.4 L560.8,214.1 L560.8,221.7 L553.5,220.7 L546.1,219.8 L538.8,218.8 L531.5,217.8 L524.1,216.8 L516.8,215.9 L509.4,214.9 L502.1,213.9 L494.8,213.0 L487.4,212.0 L480.1,211.0 L472.7,210.1 L465.4,209.1 L458.1,208.2 L450.7,207.2 L443.4,206.3 L436.1,205.3 L428.7,204.4 L421.4,203.5 L414.0,202.7 L406.7,201.8 L399.4,201.0 L392.0,200.2 L384.7,199.5 L377.3,198.7 L370.0,198.0 L362.7,197.3 L355.3,196.6 L348.0,195.9 L340.6,195.3Z" fill="#999" fill-opacity="0.4"/><path d="M340.6,87.7 L348.0,89.6 L355.3,91.4 L362.7,93.3 L370.0,95.1 L377.3,97.0 L384.7,98.8 L392.0,100.5 L399.4,102.3 L406.7,104.0 L414.0,105.7 L421.4,107.4 L428.7,109.0 L436.1,110.6 L443.4,112.2 L450.7,113.8 L458.1,115.4 L465.4,117.0 L472.7,118.6 L480.1,120.1 L487.4,121.7 L494.8,123.3 L502.1,124.8 L509.4,126.4 L516.8,127.9 L524.1,129.5 L531.5,131.1 L538.8,132.6 L546.1,134.2 L553.5,135.7 L560.8,137.3 L560.8,145.1 L553.5,143.2 L546.1,141.3 L538.8,139.4 L531.5,137.6 L524.1,135.7 L516.8,133.8 L509.4,131.9 L502.1,130.0 L494.8,128.1 L487.4,126.2 L480.1,124.4 L472.7,122.5 L465.4,120.6 L458.1,118.7 L450.7,116.9 L443.4,115.0 L436.1,113.2 L428.7,111.4 L421.4,109.6 L414.0,107.8 L406.7,106.0 L399.4,104.3 L392.0,102.6 L384.7,100.9 L377.3,99.3 L370.0,97.7 L362.7,96.0 L355.3,94.5 L348.0,92.9 L340.6,91.3Z" fill="#999" fill-opacity="0.4"/><line x1="340.6" y1="106.2" x2="560.8" y2="153.7" stroke="#EE7366" stroke-width="1.9"/><line x1="340.6" y1="68.3" x2="560.8" y2="122.3" stroke="#1FB2B8" stroke-width="1.9"/><line x1="340.6" y1="193.5" x2="560.8" y2="217.9" stroke="#9F7FC0" stroke-width="1.9"/><line x1="340.6" y1="89.5" x2="560.8" y2="141.2" stroke="#7AAC1E" stroke-width="1.9"/><rect x="327.5" y="22.0" width="262.0" height="255.5" fill="none" stroke="#383838" stroke-width="1.1"/><line x1="327.5" y1="265.3" x2="331.5" y2="265.3" stroke="#333" stroke-width="1"/><line x1="327.5" y1="204.4" x2="331.5" y2="204.4" stroke="#333" stroke-width="1"/><line x1="327.5" y1="143.6" x2="331.5" y2="143.6" stroke="#333" stroke-width="1"/><line x1="327.5" y1="82.7" x2="331.5" y2="82.7" stroke="#333" stroke-width="1"/><line x1="339.9" y1="277.5" x2="339.9" y2="273.3" stroke="#333" stroke-width="1"/><text transform="translate(339.70,294.6) scale(0.95,1)" font-size="13.4" text-anchor="middle" fill="#111">0</text><line x1="402.4" y1="277.5" x2="402.4" y2="273.3" stroke="#333" stroke-width="1"/><text transform="translate(402.88,294.6) scale(0.95,1)" font-size="13.4" text-anchor="middle" fill="#111">25</text><line x1="464.8" y1="277.5" x2="464.8" y2="273.3" stroke="#333" stroke-width="1"/><text transform="translate(465.35,294.6) scale(0.95,1)" font-size="13.4" text-anchor="middle" fill="#111">50</text><line x1="527.3" y1="277.5" x2="527.3" y2="273.3" stroke="#333" stroke-width="1"/><text transform="translate(527.83,294.6) scale(0.95,1)" font-size="13.4" text-anchor="middle" fill="#111">75</text><text transform="translate(590.30,294.6) scale(0.95,1)" font-size="13.4" text-anchor="middle" fill="#111">100</text><text x="453.4" y="15.0" font-size="19" font-weight="bold" text-anchor="middle" fill="#000">Dry</text><text x="461.0" y="312.8" font-size="14.95" text-anchor="middle" fill="#111">Dendritic distance (km)</text><text transform="translate(38.3,269.80) scale(0.95,1)" font-size="13.4" text-anchor="end" fill="#111">0</text><text transform="translate(38.3,208.70) scale(0.95,1)" font-size="13.4" text-anchor="end" fill="#111">25</text><text transform="translate(38.3,148.00) scale(0.95,1)" font-size="13.4" text-anchor="end" fill="#111">50</text><text transform="translate(38.3,87.10) scale(0.95,1)" font-size="13.4" text-anchor="end" fill="#111">75</text><text transform="translate(38.3,28.80) scale(0.95,1)" font-size="13.4" text-anchor="end" fill="#111">100</text><text transform="translate(11.9,149.8) rotate(-90)" font-size="15" text-anchor="middle" fill="#111">Bray-Curtis similarity (%)</text><text x="154.0" y="233.9" font-size="10.1" fill="#111">All</text><text x="205.0" y="233.9" font-size="10.1" fill="#111">r = -0.372, <tspan font-style="italic">P</tspan> &lt; 0.001</text><text x="153.4" y="245.8" font-size="10.1" fill="#111">Dominant</text><text x="204.9" y="245.8" font-size="10.1" fill="#111">r = -0.363, <tspan font-style="italic">P</tspan> &lt; 0.001</text><text x="152.4" y="258.0" font-size="10.1" fill="#111">ART</text><text x="203.3" y="258.0" font-size="10.1" fill="#111">r = -0.214, <tspan font-style="italic">P</tspan> &lt; 0.001</text><text x="151.9" y="269.2" font-size="10.1" fill="#111">CRT</text><text x="203.3" y="269.2" font-size="10.1" fill="#111">r = -0.336, <tspan font-style="italic">P</tspan> &lt; 0.001</text><text x="339.9" y="234.4" font-size="10.1" fill="#111">All</text><text x="390.8" y="234.4" font-size="10.1" fill="#111">r = -0.657, <tspan font-style="italic">P</tspan> &lt; 0.001</text><text x="339.4" y="246.6" font-size="10.1" fill="#111">Dominant</text><text x="390.8" y="246.6" font-size="10.1" fill="#111">r = -0.576, <tspan font-style="italic">P</tspan> &lt; 0.001</text><text x="338.7" y="259.2" font-size="10.1" fill="#111">ART</text><text x="392.3" y="259.2" font-size="10.1" fill="#111">r = -0.388, <tspan font-style="italic">P</tspan> &lt; 0.001</text><text x="338.4" y="270.7" font-size="10.1" fill="#111">CRT</text><text x="392.0" y="270.7" font-size="10.1" fill="#111">r = -0.620, <tspan font-style="italic">P</tspan> &lt; 0.001</text><circle cx="614.4" cy="110.9" r="2.6" fill="#EE7366"/><rect x="602.4" y="98.90" width="23.8" height="23.72" fill="#999" fill-opacity="0.4"/><line x1="604.9" y1="110.9" x2="624.1" y2="110.9" stroke="#EE7366" stroke-width="1.9"/><text x="631" y="115.0" font-size="12.2" fill="#111">All taxa</text><circle cx="614.4" cy="134.7" r="2.6" fill="#1FB2B8"/><rect x="602.4" y="122.62" width="23.8" height="23.72" fill="#999" fill-opacity="0.4"/><line x1="604.9" y1="134.7" x2="624.1" y2="134.7" stroke="#1FB2B8" stroke-width="1.9"/><text x="631" y="138.8" font-size="12.2" fill="#111">Dominant</text><circle cx="614.4" cy="158.5" r="2.6" fill="#9F7FC0"/><rect x="602.4" y="146.34" width="23.8" height="23.72" fill="#999" fill-opacity="0.4"/><line x1="604.9" y1="158.5" x2="624.1" y2="158.5" stroke="#9F7FC0" stroke-width="1.9"/><text x="631" y="162.6" font-size="12.2" fill="#111">ART</text><circle cx="614.4" cy="182.3" r="2.6" fill="#7AAC1E"/><rect x="602.4" y="170.06" width="23.8" height="23.72" fill="#999" fill-opacity="0.4"/><line x1="604.9" y1="182.3" x2="624.1" y2="182.3" stroke="#7AAC1E" stroke-width="1.9"/><text x="631" y="186.4" font-size="12.2" fill="#111">CRT</text></svg></body></html>
